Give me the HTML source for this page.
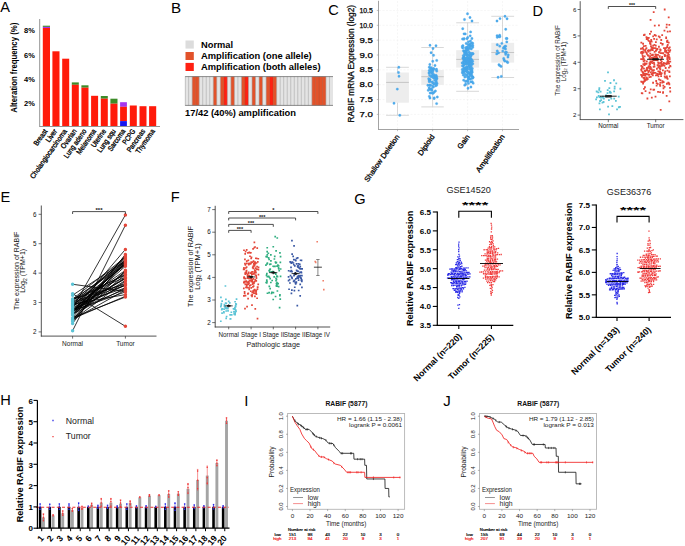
<!DOCTYPE html>
<html><head><meta charset="utf-8"><style>
html,body{margin:0;padding:0;background:#fff;}
body{width:685px;height:546px;overflow:hidden;font-family:"Liberation Sans",sans-serif;}
svg{display:block;}
text{font-family:"Liberation Sans",sans-serif;}
</style></head><body>
<svg width="685" height="546" viewBox="0 0 685 546" font-family="Liberation Sans, sans-serif"><text x="0.2" y="12" font-size="14.6">A</text>
<rect x="42.8" y="25.7" width="7.2" height="1.2" fill="#3C8C28"/>
<rect x="42.8" y="26.9" width="7.2" height="1.1" fill="#A436F0"/>
<rect x="42.8" y="28" width="7.2" height="98" fill="#FF1A0A"/>
<rect x="52.4" y="51.3" width="7.1" height="74.7" fill="#FF1A0A"/>
<rect x="62.2" y="58.7" width="7" height="67.3" fill="#FF1A0A"/>
<rect x="71.8" y="82.4" width="7" height="2.4" fill="#3C8C28"/>
<rect x="71.8" y="84.8" width="7" height="41.2" fill="#FF1A0A"/>
<rect x="81.4" y="85.3" width="7.1" height="2.4" fill="#3C8C28"/>
<rect x="81.4" y="87.7" width="7.1" height="38.3" fill="#FF1A0A"/>
<rect x="91.1" y="95.8" width="7" height="30.2" fill="#FF1A0A"/>
<rect x="100.8" y="96" width="7" height="2.7" fill="#3C8C28"/>
<rect x="100.8" y="98.7" width="7" height="27.3" fill="#FF1A0A"/>
<rect x="110.4" y="98.7" width="7.1" height="5" fill="#3C8C28"/>
<rect x="110.4" y="103.7" width="7.1" height="22.3" fill="#FF1A0A"/>
<rect x="120.1" y="102.2" width="6.8" height="4.6" fill="#A436F0"/>
<rect x="120.1" y="106.8" width="6.8" height="14.3" fill="#FF1A0A"/>
<rect x="120.1" y="121.1" width="6.8" height="4.9" fill="#1414F0"/>
<rect x="129.8" y="105.5" width="7" height="20.5" fill="#FF1A0A"/>
<rect x="139.5" y="106.2" width="7" height="19.8" fill="#FF1A0A"/>
<rect x="149.1" y="106.2" width="7.1" height="19.8" fill="#FF1A0A"/>
<line x1="39.7" y1="19" x2="39.7" y2="126.5" stroke="#888" stroke-width="0.9"/>
<line x1="39.3" y1="126.5" x2="160" y2="126.5" stroke="#888" stroke-width="0.9"/>
<text x="34.8" y="33.4" font-size="7.9" font-weight="bold" text-anchor="end" textLength="10.8" lengthAdjust="spacingAndGlyphs">8%</text>
<text x="34.8" y="57.7" font-size="7.9" font-weight="bold" text-anchor="end" textLength="10.8" lengthAdjust="spacingAndGlyphs">6%</text>
<text x="34.8" y="82" font-size="7.9" font-weight="bold" text-anchor="end" textLength="10.8" lengthAdjust="spacingAndGlyphs">4%</text>
<text x="34.8" y="106.3" font-size="7.9" font-weight="bold" text-anchor="end" textLength="10.8" lengthAdjust="spacingAndGlyphs">2%</text>
<text x="16.6" y="67.7" font-size="8.9" font-weight="bold" text-anchor="middle" transform="rotate(-90 16.6 67.7)" textLength="90" lengthAdjust="spacingAndGlyphs">Alteration frequency (%)</text>
<text x="47.8" y="131.2" font-size="7.4" text-anchor="end" transform="rotate(-55 47.8 131.2)" textLength="18.47" lengthAdjust="spacingAndGlyphs" stroke="#000" stroke-width="0.32">Breast</text>
<text x="57.47" y="131.2" font-size="7.4" text-anchor="end" transform="rotate(-55 57.47 131.2)" textLength="14.18" lengthAdjust="spacingAndGlyphs" stroke="#000" stroke-width="0.32">Liver</text>
<text x="67.34" y="131.2" font-size="7.4" text-anchor="end" transform="rotate(-55 67.34 131.2)" textLength="58.69" lengthAdjust="spacingAndGlyphs" stroke="#000" stroke-width="0.32">Cholangiocarcinoma</text>
<text x="77.06" y="131.2" font-size="7.4" text-anchor="end" transform="rotate(-55 77.06 131.2)" textLength="22.1" lengthAdjust="spacingAndGlyphs" stroke="#000" stroke-width="0.32">Ovarian</text>
<text x="86.83" y="131.2" font-size="7.4" text-anchor="end" transform="rotate(-55 86.83 131.2)" textLength="33.62" lengthAdjust="spacingAndGlyphs" stroke="#000" stroke-width="0.32">Lung adeno</text>
<text x="96.6" y="131.2" font-size="7.4" text-anchor="end" transform="rotate(-55 96.6 131.2)" textLength="29.02" lengthAdjust="spacingAndGlyphs" stroke="#000" stroke-width="0.32">Melanoma</text>
<text x="106.42" y="131.2" font-size="7.4" text-anchor="end" transform="rotate(-55 106.42 131.2)" textLength="20.44" lengthAdjust="spacingAndGlyphs" stroke="#000" stroke-width="0.32">Uterine</text>
<text x="116.19" y="131.2" font-size="7.4" text-anchor="end" transform="rotate(-55 116.19 131.2)" textLength="26.69" lengthAdjust="spacingAndGlyphs" stroke="#000" stroke-width="0.32">Lung squ</text>
<text x="125.86" y="131.2" font-size="7.4" text-anchor="end" transform="rotate(-55 125.86 131.2)" textLength="25.07" lengthAdjust="spacingAndGlyphs" stroke="#000" stroke-width="0.32">Sarcoma</text>
<text x="135.78" y="131.2" font-size="7.4" text-anchor="end" transform="rotate(-55 135.78 131.2)" textLength="16.82" lengthAdjust="spacingAndGlyphs" stroke="#000" stroke-width="0.32">PCPG</text>
<text x="145.6" y="131.2" font-size="7.4" text-anchor="end" transform="rotate(-55 145.6 131.2)" textLength="26.39" lengthAdjust="spacingAndGlyphs" stroke="#000" stroke-width="0.32">Pancreas</text>
<text x="155.37" y="131.2" font-size="7.4" text-anchor="end" transform="rotate(-55 155.37 131.2)" textLength="28.03" lengthAdjust="spacingAndGlyphs" stroke="#000" stroke-width="0.32">Thymoma</text>
<text x="171" y="12.7" font-size="15.2">B</text>
<rect x="185.5" y="40.5" width="8.3" height="8.1" fill="#DCDCDC"/>
<rect x="185.5" y="52" width="8.3" height="8" fill="#E2522A"/>
<rect x="185.5" y="62.9" width="8.3" height="8.1" fill="#FF2012"/>
<text x="201" y="47.9" font-size="9.3" font-weight="bold">Normal</text>
<text x="201" y="58.8" font-size="9.3" font-weight="bold" textLength="110.7" lengthAdjust="spacingAndGlyphs">Amplification (one allele)</text>
<text x="201" y="69.8" font-size="9.3" font-weight="bold" textLength="119.5" lengthAdjust="spacingAndGlyphs">Amplification (both alleles)</text>
<rect x="185.1" y="76.2" width="147.9" height="29.6" fill="#E4E4E4"/>
<rect x="192.14" y="76.2" width="3.52" height="29.6" fill="#E2522A"/>
<rect x="195.66" y="76.2" width="3.52" height="29.6" fill="#E2522A"/>
<rect x="213.27" y="76.2" width="3.52" height="29.6" fill="#E2522A"/>
<rect x="220.31" y="76.2" width="3.52" height="29.6" fill="#E2522A"/>
<rect x="223.84" y="76.2" width="3.52" height="29.6" fill="#FF2012"/>
<rect x="230.88" y="76.2" width="3.52" height="29.6" fill="#E2522A"/>
<rect x="241.44" y="76.2" width="3.52" height="29.6" fill="#E2522A"/>
<rect x="244.96" y="76.2" width="3.52" height="29.6" fill="#FF2012"/>
<rect x="252.01" y="76.2" width="3.52" height="29.6" fill="#E2522A"/>
<rect x="259.05" y="76.2" width="3.52" height="29.6" fill="#E2522A"/>
<rect x="266.09" y="76.2" width="3.52" height="29.6" fill="#E2522A"/>
<rect x="269.61" y="76.2" width="3.52" height="29.6" fill="#FF2012"/>
<rect x="273.14" y="76.2" width="3.52" height="29.6" fill="#E2522A"/>
<rect x="311.87" y="76.2" width="3.52" height="29.6" fill="#E2522A"/>
<rect x="315.39" y="76.2" width="3.52" height="29.6" fill="#E2522A"/>
<rect x="318.91" y="76.2" width="3.52" height="29.6" fill="#E2522A"/>
<rect x="322.44" y="76.2" width="3.52" height="29.6" fill="#E2522A"/>
<line x1="188.62" y1="76.2" x2="188.62" y2="105.8" stroke="#A8A8A8" stroke-width="0.6"/>
<line x1="192.14" y1="76.2" x2="192.14" y2="105.8" stroke="#A8A8A8" stroke-width="0.6"/>
<line x1="195.66" y1="76.2" x2="195.66" y2="105.8" stroke="#BC4420" stroke-width="0.6"/>
<line x1="199.19" y1="76.2" x2="199.19" y2="105.8" stroke="#A8A8A8" stroke-width="0.6"/>
<line x1="202.71" y1="76.2" x2="202.71" y2="105.8" stroke="#A8A8A8" stroke-width="0.6"/>
<line x1="206.23" y1="76.2" x2="206.23" y2="105.8" stroke="#A8A8A8" stroke-width="0.6"/>
<line x1="209.75" y1="76.2" x2="209.75" y2="105.8" stroke="#A8A8A8" stroke-width="0.6"/>
<line x1="213.27" y1="76.2" x2="213.27" y2="105.8" stroke="#A8A8A8" stroke-width="0.6"/>
<line x1="216.79" y1="76.2" x2="216.79" y2="105.8" stroke="#A8A8A8" stroke-width="0.6"/>
<line x1="220.31" y1="76.2" x2="220.31" y2="105.8" stroke="#A8A8A8" stroke-width="0.6"/>
<line x1="223.84" y1="76.2" x2="223.84" y2="105.8" stroke="#BC4420" stroke-width="0.6"/>
<line x1="227.36" y1="76.2" x2="227.36" y2="105.8" stroke="#A8A8A8" stroke-width="0.6"/>
<line x1="230.88" y1="76.2" x2="230.88" y2="105.8" stroke="#A8A8A8" stroke-width="0.6"/>
<line x1="234.4" y1="76.2" x2="234.4" y2="105.8" stroke="#A8A8A8" stroke-width="0.6"/>
<line x1="237.92" y1="76.2" x2="237.92" y2="105.8" stroke="#A8A8A8" stroke-width="0.6"/>
<line x1="241.44" y1="76.2" x2="241.44" y2="105.8" stroke="#A8A8A8" stroke-width="0.6"/>
<line x1="244.96" y1="76.2" x2="244.96" y2="105.8" stroke="#BC4420" stroke-width="0.6"/>
<line x1="248.49" y1="76.2" x2="248.49" y2="105.8" stroke="#A8A8A8" stroke-width="0.6"/>
<line x1="252.01" y1="76.2" x2="252.01" y2="105.8" stroke="#A8A8A8" stroke-width="0.6"/>
<line x1="255.53" y1="76.2" x2="255.53" y2="105.8" stroke="#A8A8A8" stroke-width="0.6"/>
<line x1="259.05" y1="76.2" x2="259.05" y2="105.8" stroke="#A8A8A8" stroke-width="0.6"/>
<line x1="262.57" y1="76.2" x2="262.57" y2="105.8" stroke="#A8A8A8" stroke-width="0.6"/>
<line x1="266.09" y1="76.2" x2="266.09" y2="105.8" stroke="#A8A8A8" stroke-width="0.6"/>
<line x1="269.61" y1="76.2" x2="269.61" y2="105.8" stroke="#BC4420" stroke-width="0.6"/>
<line x1="273.14" y1="76.2" x2="273.14" y2="105.8" stroke="#BC4420" stroke-width="0.6"/>
<line x1="276.66" y1="76.2" x2="276.66" y2="105.8" stroke="#A8A8A8" stroke-width="0.6"/>
<line x1="280.18" y1="76.2" x2="280.18" y2="105.8" stroke="#A8A8A8" stroke-width="0.6"/>
<line x1="283.7" y1="76.2" x2="283.7" y2="105.8" stroke="#A8A8A8" stroke-width="0.6"/>
<line x1="287.22" y1="76.2" x2="287.22" y2="105.8" stroke="#A8A8A8" stroke-width="0.6"/>
<line x1="290.74" y1="76.2" x2="290.74" y2="105.8" stroke="#A8A8A8" stroke-width="0.6"/>
<line x1="294.26" y1="76.2" x2="294.26" y2="105.8" stroke="#A8A8A8" stroke-width="0.6"/>
<line x1="297.79" y1="76.2" x2="297.79" y2="105.8" stroke="#A8A8A8" stroke-width="0.6"/>
<line x1="301.31" y1="76.2" x2="301.31" y2="105.8" stroke="#A8A8A8" stroke-width="0.6"/>
<line x1="304.83" y1="76.2" x2="304.83" y2="105.8" stroke="#A8A8A8" stroke-width="0.6"/>
<line x1="308.35" y1="76.2" x2="308.35" y2="105.8" stroke="#A8A8A8" stroke-width="0.6"/>
<line x1="311.87" y1="76.2" x2="311.87" y2="105.8" stroke="#A8A8A8" stroke-width="0.6"/>
<line x1="315.39" y1="76.2" x2="315.39" y2="105.8" stroke="#BC4420" stroke-width="0.6"/>
<line x1="318.91" y1="76.2" x2="318.91" y2="105.8" stroke="#BC4420" stroke-width="0.6"/>
<line x1="322.44" y1="76.2" x2="322.44" y2="105.8" stroke="#BC4420" stroke-width="0.6"/>
<line x1="325.96" y1="76.2" x2="325.96" y2="105.8" stroke="#A8A8A8" stroke-width="0.6"/>
<line x1="329.48" y1="76.2" x2="329.48" y2="105.8" stroke="#A8A8A8" stroke-width="0.6"/>
<line x1="185.1" y1="76.6" x2="333" y2="76.6" stroke="#808080" stroke-width="0.9"/>
<line x1="185.1" y1="105.4" x2="333" y2="105.4" stroke="#808080" stroke-width="0.9"/>
<line x1="185.3" y1="76.2" x2="185.3" y2="105.8" stroke="#9A9A9A" stroke-width="0.5"/>
<text x="185" y="115.9" font-size="9.3" font-weight="bold" textLength="111" lengthAdjust="spacingAndGlyphs">17/42 (40%) amplification</text>
<text x="328.3" y="15.3" font-size="14.6">C</text>
<line x1="379" y1="114.4" x2="519" y2="114.4" stroke="#EDEDED" stroke-width="0.5" stroke-dasharray="2 1.5"/>
<line x1="379" y1="99.55" x2="519" y2="99.55" stroke="#EDEDED" stroke-width="0.5" stroke-dasharray="2 1.5"/>
<line x1="379" y1="84.7" x2="519" y2="84.7" stroke="#EDEDED" stroke-width="0.5" stroke-dasharray="2 1.5"/>
<line x1="379" y1="69.85" x2="519" y2="69.85" stroke="#EDEDED" stroke-width="0.5" stroke-dasharray="2 1.5"/>
<line x1="379" y1="55" x2="519" y2="55" stroke="#EDEDED" stroke-width="0.5" stroke-dasharray="2 1.5"/>
<line x1="379" y1="40.15" x2="519" y2="40.15" stroke="#EDEDED" stroke-width="0.5" stroke-dasharray="2 1.5"/>
<line x1="379" y1="25.3" x2="519" y2="25.3" stroke="#EDEDED" stroke-width="0.5" stroke-dasharray="2 1.5"/>
<line x1="379" y1="10.45" x2="519" y2="10.45" stroke="#EDEDED" stroke-width="0.5" stroke-dasharray="2 1.5"/>
<line x1="397.5" y1="1" x2="397.5" y2="129" stroke="#EDEDED" stroke-width="0.5" stroke-dasharray="2 1.5"/>
<line x1="432.6" y1="1" x2="432.6" y2="129" stroke="#EDEDED" stroke-width="0.5" stroke-dasharray="2 1.5"/>
<line x1="467.6" y1="1" x2="467.6" y2="129" stroke="#EDEDED" stroke-width="0.5" stroke-dasharray="2 1.5"/>
<line x1="502.5" y1="1" x2="502.5" y2="129" stroke="#EDEDED" stroke-width="0.5" stroke-dasharray="2 1.5"/>
<rect x="386.1" y="72.5" width="22.8" height="30.2" fill="#EDEDED"/>
<line x1="397.5" y1="67.3" x2="397.5" y2="72.5" stroke="#C8C8C8" stroke-width="0.7"/>
<line x1="397.5" y1="102.7" x2="397.5" y2="115.3" stroke="#C8C8C8" stroke-width="0.7"/>
<line x1="386.1" y1="67.3" x2="408.9" y2="67.3" stroke="#D4D4D4" stroke-width="0.9"/>
<line x1="386.1" y1="115.3" x2="408.9" y2="115.3" stroke="#D4D4D4" stroke-width="0.9"/>
<line x1="386.1" y1="82.4" x2="408.9" y2="82.4" stroke="#B4B4B4" stroke-width="0.7"/>
<rect x="421.3" y="70" width="22.5" height="14.9" fill="#EDEDED"/>
<line x1="432.6" y1="47.5" x2="432.6" y2="70" stroke="#C8C8C8" stroke-width="0.7"/>
<line x1="432.6" y1="84.9" x2="432.6" y2="106.9" stroke="#C8C8C8" stroke-width="0.7"/>
<line x1="421.3" y1="47.5" x2="443.8" y2="47.5" stroke="#D4D4D4" stroke-width="0.9"/>
<line x1="421.3" y1="106.9" x2="443.8" y2="106.9" stroke="#D4D4D4" stroke-width="0.9"/>
<line x1="421.3" y1="76.7" x2="443.8" y2="76.7" stroke="#B4B4B4" stroke-width="0.7"/>
<rect x="456.2" y="50.2" width="22.8" height="17.4" fill="#EDEDED"/>
<line x1="467.6" y1="22.8" x2="467.6" y2="50.2" stroke="#C8C8C8" stroke-width="0.7"/>
<line x1="467.6" y1="67.6" x2="467.6" y2="91.3" stroke="#C8C8C8" stroke-width="0.7"/>
<line x1="456.2" y1="22.8" x2="479" y2="22.8" stroke="#D4D4D4" stroke-width="0.9"/>
<line x1="456.2" y1="91.3" x2="479" y2="91.3" stroke="#D4D4D4" stroke-width="0.9"/>
<line x1="456.2" y1="59.4" x2="479" y2="59.4" stroke="#B4B4B4" stroke-width="0.7"/>
<rect x="491.3" y="42.8" width="22.8" height="19.8" fill="#EDEDED"/>
<line x1="502.5" y1="16.3" x2="502.5" y2="42.8" stroke="#C8C8C8" stroke-width="0.7"/>
<line x1="502.5" y1="62.6" x2="502.5" y2="77.5" stroke="#C8C8C8" stroke-width="0.7"/>
<line x1="491.3" y1="16.3" x2="514.1" y2="16.3" stroke="#D4D4D4" stroke-width="0.9"/>
<line x1="491.3" y1="77.5" x2="514.1" y2="77.5" stroke="#D4D4D4" stroke-width="0.9"/>
<line x1="491.3" y1="52.5" x2="514.1" y2="52.5" stroke="#B4B4B4" stroke-width="0.7"/>
<path d="M397.6 67.3a1.2 1.2 0 1 0 2.4 0a1.2 1.2 0 1 0 -2.4 0M397.3 72.5a1.2 1.2 0 1 0 2.4 0a1.2 1.2 0 1 0 -2.4 0M397.8 76.2a1.2 1.2 0 1 0 2.4 0a1.2 1.2 0 1 0 -2.4 0M396.1 89.1a1.2 1.2 0 1 0 2.4 0a1.2 1.2 0 1 0 -2.4 0M392.8 103.2a1.2 1.2 0 1 0 2.4 0a1.2 1.2 0 1 0 -2.4 0M398.6 115.3a1.2 1.2 0 1 0 2.4 0a1.2 1.2 0 1 0 -2.4 0M435.21 76.67a1.2 1.2 0 1 0 2.4 0a1.2 1.2 0 1 0 -2.4 0M428.76 79.61a1.2 1.2 0 1 0 2.4 0a1.2 1.2 0 1 0 -2.4 0M434.99 81.54a1.2 1.2 0 1 0 2.4 0a1.2 1.2 0 1 0 -2.4 0M434.48 76.04a1.2 1.2 0 1 0 2.4 0a1.2 1.2 0 1 0 -2.4 0M431.09 81.94a1.2 1.2 0 1 0 2.4 0a1.2 1.2 0 1 0 -2.4 0M429.27 71.44a1.2 1.2 0 1 0 2.4 0a1.2 1.2 0 1 0 -2.4 0M430.87 75.55a1.2 1.2 0 1 0 2.4 0a1.2 1.2 0 1 0 -2.4 0M431.91 76.99a1.2 1.2 0 1 0 2.4 0a1.2 1.2 0 1 0 -2.4 0M434.21 91.05a1.2 1.2 0 1 0 2.4 0a1.2 1.2 0 1 0 -2.4 0M436.09 97.01a1.2 1.2 0 1 0 2.4 0a1.2 1.2 0 1 0 -2.4 0M428.14 96.37a1.2 1.2 0 1 0 2.4 0a1.2 1.2 0 1 0 -2.4 0M427.02 90.23a1.2 1.2 0 1 0 2.4 0a1.2 1.2 0 1 0 -2.4 0M431.54 75.01a1.2 1.2 0 1 0 2.4 0a1.2 1.2 0 1 0 -2.4 0M435.4 103.59a1.2 1.2 0 1 0 2.4 0a1.2 1.2 0 1 0 -2.4 0M431.54 77.2a1.2 1.2 0 1 0 2.4 0a1.2 1.2 0 1 0 -2.4 0M428.98 93.04a1.2 1.2 0 1 0 2.4 0a1.2 1.2 0 1 0 -2.4 0M428.45 75.11a1.2 1.2 0 1 0 2.4 0a1.2 1.2 0 1 0 -2.4 0M428.53 85.33a1.2 1.2 0 1 0 2.4 0a1.2 1.2 0 1 0 -2.4 0M426.64 85.32a1.2 1.2 0 1 0 2.4 0a1.2 1.2 0 1 0 -2.4 0M428.08 67.23a1.2 1.2 0 1 0 2.4 0a1.2 1.2 0 1 0 -2.4 0M435.05 77.88a1.2 1.2 0 1 0 2.4 0a1.2 1.2 0 1 0 -2.4 0M434.73 76a1.2 1.2 0 1 0 2.4 0a1.2 1.2 0 1 0 -2.4 0M433.72 75.87a1.2 1.2 0 1 0 2.4 0a1.2 1.2 0 1 0 -2.4 0M431.79 93.22a1.2 1.2 0 1 0 2.4 0a1.2 1.2 0 1 0 -2.4 0M434.96 75.4a1.2 1.2 0 1 0 2.4 0a1.2 1.2 0 1 0 -2.4 0M432.34 55.29a1.2 1.2 0 1 0 2.4 0a1.2 1.2 0 1 0 -2.4 0M430.32 89.5a1.2 1.2 0 1 0 2.4 0a1.2 1.2 0 1 0 -2.4 0M428.04 70.52a1.2 1.2 0 1 0 2.4 0a1.2 1.2 0 1 0 -2.4 0M430.24 69.38a1.2 1.2 0 1 0 2.4 0a1.2 1.2 0 1 0 -2.4 0M432.26 69.55a1.2 1.2 0 1 0 2.4 0a1.2 1.2 0 1 0 -2.4 0M432.72 83.91a1.2 1.2 0 1 0 2.4 0a1.2 1.2 0 1 0 -2.4 0M428.05 81.63a1.2 1.2 0 1 0 2.4 0a1.2 1.2 0 1 0 -2.4 0M428.9 89.37a1.2 1.2 0 1 0 2.4 0a1.2 1.2 0 1 0 -2.4 0M427.53 78.78a1.2 1.2 0 1 0 2.4 0a1.2 1.2 0 1 0 -2.4 0M428.66 64.44a1.2 1.2 0 1 0 2.4 0a1.2 1.2 0 1 0 -2.4 0M429.48 85.18a1.2 1.2 0 1 0 2.4 0a1.2 1.2 0 1 0 -2.4 0M432.96 97.98a1.2 1.2 0 1 0 2.4 0a1.2 1.2 0 1 0 -2.4 0M434.71 77.72a1.2 1.2 0 1 0 2.4 0a1.2 1.2 0 1 0 -2.4 0M435.28 69.31a1.2 1.2 0 1 0 2.4 0a1.2 1.2 0 1 0 -2.4 0M428 80.62a1.2 1.2 0 1 0 2.4 0a1.2 1.2 0 1 0 -2.4 0M435.51 60.39a1.2 1.2 0 1 0 2.4 0a1.2 1.2 0 1 0 -2.4 0M428.33 79.93a1.2 1.2 0 1 0 2.4 0a1.2 1.2 0 1 0 -2.4 0M432.76 77.97a1.2 1.2 0 1 0 2.4 0a1.2 1.2 0 1 0 -2.4 0M430.21 88.59a1.2 1.2 0 1 0 2.4 0a1.2 1.2 0 1 0 -2.4 0M428.9 81.42a1.2 1.2 0 1 0 2.4 0a1.2 1.2 0 1 0 -2.4 0M435.01 69.7a1.2 1.2 0 1 0 2.4 0a1.2 1.2 0 1 0 -2.4 0M431.86 69.53a1.2 1.2 0 1 0 2.4 0a1.2 1.2 0 1 0 -2.4 0M433.81 65.43a1.2 1.2 0 1 0 2.4 0a1.2 1.2 0 1 0 -2.4 0M430.17 70.44a1.2 1.2 0 1 0 2.4 0a1.2 1.2 0 1 0 -2.4 0M427.78 72.97a1.2 1.2 0 1 0 2.4 0a1.2 1.2 0 1 0 -2.4 0M432.91 98.44a1.2 1.2 0 1 0 2.4 0a1.2 1.2 0 1 0 -2.4 0M431.63 86.3a1.2 1.2 0 1 0 2.4 0a1.2 1.2 0 1 0 -2.4 0M429.9 52.68a1.2 1.2 0 1 0 2.4 0a1.2 1.2 0 1 0 -2.4 0M433.16 83.35a1.2 1.2 0 1 0 2.4 0a1.2 1.2 0 1 0 -2.4 0M431.58 71.41a1.2 1.2 0 1 0 2.4 0a1.2 1.2 0 1 0 -2.4 0M435.33 78.88a1.2 1.2 0 1 0 2.4 0a1.2 1.2 0 1 0 -2.4 0M435.56 71.12a1.2 1.2 0 1 0 2.4 0a1.2 1.2 0 1 0 -2.4 0M433.83 77.53a1.2 1.2 0 1 0 2.4 0a1.2 1.2 0 1 0 -2.4 0M427.91 87.96a1.2 1.2 0 1 0 2.4 0a1.2 1.2 0 1 0 -2.4 0M434.43 85.85a1.2 1.2 0 1 0 2.4 0a1.2 1.2 0 1 0 -2.4 0M432.63 74.62a1.2 1.2 0 1 0 2.4 0a1.2 1.2 0 1 0 -2.4 0M431.52 83a1.2 1.2 0 1 0 2.4 0a1.2 1.2 0 1 0 -2.4 0M428.77 98.04a1.2 1.2 0 1 0 2.4 0a1.2 1.2 0 1 0 -2.4 0M430.09 72.8a1.2 1.2 0 1 0 2.4 0a1.2 1.2 0 1 0 -2.4 0M429.92 67.63a1.2 1.2 0 1 0 2.4 0a1.2 1.2 0 1 0 -2.4 0M432.1 68.59a1.2 1.2 0 1 0 2.4 0a1.2 1.2 0 1 0 -2.4 0M429.21 68.35a1.2 1.2 0 1 0 2.4 0a1.2 1.2 0 1 0 -2.4 0M430.87 93.11a1.2 1.2 0 1 0 2.4 0a1.2 1.2 0 1 0 -2.4 0M431.55 61.27a1.2 1.2 0 1 0 2.4 0a1.2 1.2 0 1 0 -2.4 0M435.21 79.61a1.2 1.2 0 1 0 2.4 0a1.2 1.2 0 1 0 -2.4 0M432.17 87.11a1.2 1.2 0 1 0 2.4 0a1.2 1.2 0 1 0 -2.4 0M435.03 82.49a1.2 1.2 0 1 0 2.4 0a1.2 1.2 0 1 0 -2.4 0M435.46 85.16a1.2 1.2 0 1 0 2.4 0a1.2 1.2 0 1 0 -2.4 0M430.73 90.34a1.2 1.2 0 1 0 2.4 0a1.2 1.2 0 1 0 -2.4 0M435.73 78.33a1.2 1.2 0 1 0 2.4 0a1.2 1.2 0 1 0 -2.4 0M434.34 76.54a1.2 1.2 0 1 0 2.4 0a1.2 1.2 0 1 0 -2.4 0M433.48 80.17a1.2 1.2 0 1 0 2.4 0a1.2 1.2 0 1 0 -2.4 0M429.79 76.6a1.2 1.2 0 1 0 2.4 0a1.2 1.2 0 1 0 -2.4 0M428.55 79.89a1.2 1.2 0 1 0 2.4 0a1.2 1.2 0 1 0 -2.4 0M428.64 85.31a1.2 1.2 0 1 0 2.4 0a1.2 1.2 0 1 0 -2.4 0M434.67 83.86a1.2 1.2 0 1 0 2.4 0a1.2 1.2 0 1 0 -2.4 0M431.2 73.07a1.2 1.2 0 1 0 2.4 0a1.2 1.2 0 1 0 -2.4 0M432.93 92.23a1.2 1.2 0 1 0 2.4 0a1.2 1.2 0 1 0 -2.4 0M435.83 83.44a1.2 1.2 0 1 0 2.4 0a1.2 1.2 0 1 0 -2.4 0M432.63 68.82a1.2 1.2 0 1 0 2.4 0a1.2 1.2 0 1 0 -2.4 0M462.86 57.91a1.2 1.2 0 1 0 2.4 0a1.2 1.2 0 1 0 -2.4 0M465.41 52.78a1.2 1.2 0 1 0 2.4 0a1.2 1.2 0 1 0 -2.4 0M469.93 60.77a1.2 1.2 0 1 0 2.4 0a1.2 1.2 0 1 0 -2.4 0M462.07 75.11a1.2 1.2 0 1 0 2.4 0a1.2 1.2 0 1 0 -2.4 0M469.78 65.64a1.2 1.2 0 1 0 2.4 0a1.2 1.2 0 1 0 -2.4 0M466.66 59.31a1.2 1.2 0 1 0 2.4 0a1.2 1.2 0 1 0 -2.4 0M461.32 65.65a1.2 1.2 0 1 0 2.4 0a1.2 1.2 0 1 0 -2.4 0M461.03 62.9a1.2 1.2 0 1 0 2.4 0a1.2 1.2 0 1 0 -2.4 0M463.58 58.56a1.2 1.2 0 1 0 2.4 0a1.2 1.2 0 1 0 -2.4 0M467.15 49.77a1.2 1.2 0 1 0 2.4 0a1.2 1.2 0 1 0 -2.4 0M467.41 66.39a1.2 1.2 0 1 0 2.4 0a1.2 1.2 0 1 0 -2.4 0M468.39 46.17a1.2 1.2 0 1 0 2.4 0a1.2 1.2 0 1 0 -2.4 0M464.28 60.74a1.2 1.2 0 1 0 2.4 0a1.2 1.2 0 1 0 -2.4 0M466.83 48.42a1.2 1.2 0 1 0 2.4 0a1.2 1.2 0 1 0 -2.4 0M468.17 46.55a1.2 1.2 0 1 0 2.4 0a1.2 1.2 0 1 0 -2.4 0M462.94 38.61a1.2 1.2 0 1 0 2.4 0a1.2 1.2 0 1 0 -2.4 0M461.24 47.34a1.2 1.2 0 1 0 2.4 0a1.2 1.2 0 1 0 -2.4 0M471.55 47.19a1.2 1.2 0 1 0 2.4 0a1.2 1.2 0 1 0 -2.4 0M461.37 39.02a1.2 1.2 0 1 0 2.4 0a1.2 1.2 0 1 0 -2.4 0M464.36 81.43a1.2 1.2 0 1 0 2.4 0a1.2 1.2 0 1 0 -2.4 0M467.82 72.43a1.2 1.2 0 1 0 2.4 0a1.2 1.2 0 1 0 -2.4 0M464.31 47.64a1.2 1.2 0 1 0 2.4 0a1.2 1.2 0 1 0 -2.4 0M469.73 87.06a1.2 1.2 0 1 0 2.4 0a1.2 1.2 0 1 0 -2.4 0M469.39 58.27a1.2 1.2 0 1 0 2.4 0a1.2 1.2 0 1 0 -2.4 0M463.01 58.35a1.2 1.2 0 1 0 2.4 0a1.2 1.2 0 1 0 -2.4 0M467.95 79.09a1.2 1.2 0 1 0 2.4 0a1.2 1.2 0 1 0 -2.4 0M461.88 71.85a1.2 1.2 0 1 0 2.4 0a1.2 1.2 0 1 0 -2.4 0M467.88 52.1a1.2 1.2 0 1 0 2.4 0a1.2 1.2 0 1 0 -2.4 0M469.8 53.43a1.2 1.2 0 1 0 2.4 0a1.2 1.2 0 1 0 -2.4 0M468.89 67.66a1.2 1.2 0 1 0 2.4 0a1.2 1.2 0 1 0 -2.4 0M470.8 70.71a1.2 1.2 0 1 0 2.4 0a1.2 1.2 0 1 0 -2.4 0M461.1 69.33a1.2 1.2 0 1 0 2.4 0a1.2 1.2 0 1 0 -2.4 0M463.2 54.32a1.2 1.2 0 1 0 2.4 0a1.2 1.2 0 1 0 -2.4 0M471.38 77.48a1.2 1.2 0 1 0 2.4 0a1.2 1.2 0 1 0 -2.4 0M463.63 60.06a1.2 1.2 0 1 0 2.4 0a1.2 1.2 0 1 0 -2.4 0M468.16 78.24a1.2 1.2 0 1 0 2.4 0a1.2 1.2 0 1 0 -2.4 0M465.06 48.93a1.2 1.2 0 1 0 2.4 0a1.2 1.2 0 1 0 -2.4 0M468.22 57.78a1.2 1.2 0 1 0 2.4 0a1.2 1.2 0 1 0 -2.4 0M465.02 43.43a1.2 1.2 0 1 0 2.4 0a1.2 1.2 0 1 0 -2.4 0M466.84 88.27a1.2 1.2 0 1 0 2.4 0a1.2 1.2 0 1 0 -2.4 0M463.57 85.17a1.2 1.2 0 1 0 2.4 0a1.2 1.2 0 1 0 -2.4 0M465.92 68.03a1.2 1.2 0 1 0 2.4 0a1.2 1.2 0 1 0 -2.4 0M469.23 41.04a1.2 1.2 0 1 0 2.4 0a1.2 1.2 0 1 0 -2.4 0M464.16 74.53a1.2 1.2 0 1 0 2.4 0a1.2 1.2 0 1 0 -2.4 0M469.35 43.75a1.2 1.2 0 1 0 2.4 0a1.2 1.2 0 1 0 -2.4 0M462.29 58.22a1.2 1.2 0 1 0 2.4 0a1.2 1.2 0 1 0 -2.4 0M461.71 58.35a1.2 1.2 0 1 0 2.4 0a1.2 1.2 0 1 0 -2.4 0M463.82 51.48a1.2 1.2 0 1 0 2.4 0a1.2 1.2 0 1 0 -2.4 0M470.13 72.8a1.2 1.2 0 1 0 2.4 0a1.2 1.2 0 1 0 -2.4 0M462.9 68.01a1.2 1.2 0 1 0 2.4 0a1.2 1.2 0 1 0 -2.4 0M470.7 75.85a1.2 1.2 0 1 0 2.4 0a1.2 1.2 0 1 0 -2.4 0M468.76 58.96a1.2 1.2 0 1 0 2.4 0a1.2 1.2 0 1 0 -2.4 0M468.95 35.85a1.2 1.2 0 1 0 2.4 0a1.2 1.2 0 1 0 -2.4 0M470.05 65.06a1.2 1.2 0 1 0 2.4 0a1.2 1.2 0 1 0 -2.4 0M464.95 53.8a1.2 1.2 0 1 0 2.4 0a1.2 1.2 0 1 0 -2.4 0M466.61 55.51a1.2 1.2 0 1 0 2.4 0a1.2 1.2 0 1 0 -2.4 0M462.94 57.75a1.2 1.2 0 1 0 2.4 0a1.2 1.2 0 1 0 -2.4 0M466.8 62.46a1.2 1.2 0 1 0 2.4 0a1.2 1.2 0 1 0 -2.4 0M470.84 42.98a1.2 1.2 0 1 0 2.4 0a1.2 1.2 0 1 0 -2.4 0M462.86 58.94a1.2 1.2 0 1 0 2.4 0a1.2 1.2 0 1 0 -2.4 0M468.02 66.28a1.2 1.2 0 1 0 2.4 0a1.2 1.2 0 1 0 -2.4 0M471.96 83.14a1.2 1.2 0 1 0 2.4 0a1.2 1.2 0 1 0 -2.4 0M470.24 45.97a1.2 1.2 0 1 0 2.4 0a1.2 1.2 0 1 0 -2.4 0M465.22 49.92a1.2 1.2 0 1 0 2.4 0a1.2 1.2 0 1 0 -2.4 0M462.87 55.98a1.2 1.2 0 1 0 2.4 0a1.2 1.2 0 1 0 -2.4 0M469.29 61.58a1.2 1.2 0 1 0 2.4 0a1.2 1.2 0 1 0 -2.4 0M465.78 38.66a1.2 1.2 0 1 0 2.4 0a1.2 1.2 0 1 0 -2.4 0M465.5 59.64a1.2 1.2 0 1 0 2.4 0a1.2 1.2 0 1 0 -2.4 0M470.26 67.35a1.2 1.2 0 1 0 2.4 0a1.2 1.2 0 1 0 -2.4 0M465.14 52.09a1.2 1.2 0 1 0 2.4 0a1.2 1.2 0 1 0 -2.4 0M468.88 63.49a1.2 1.2 0 1 0 2.4 0a1.2 1.2 0 1 0 -2.4 0M470.1 59.75a1.2 1.2 0 1 0 2.4 0a1.2 1.2 0 1 0 -2.4 0M465.14 64.11a1.2 1.2 0 1 0 2.4 0a1.2 1.2 0 1 0 -2.4 0M469.32 61.82a1.2 1.2 0 1 0 2.4 0a1.2 1.2 0 1 0 -2.4 0M462.46 80.15a1.2 1.2 0 1 0 2.4 0a1.2 1.2 0 1 0 -2.4 0M470.04 70.28a1.2 1.2 0 1 0 2.4 0a1.2 1.2 0 1 0 -2.4 0M462.18 69.16a1.2 1.2 0 1 0 2.4 0a1.2 1.2 0 1 0 -2.4 0M471.86 77.22a1.2 1.2 0 1 0 2.4 0a1.2 1.2 0 1 0 -2.4 0M467.24 63.05a1.2 1.2 0 1 0 2.4 0a1.2 1.2 0 1 0 -2.4 0M469.2 56.3a1.2 1.2 0 1 0 2.4 0a1.2 1.2 0 1 0 -2.4 0M471.04 72.14a1.2 1.2 0 1 0 2.4 0a1.2 1.2 0 1 0 -2.4 0M469.41 31.92a1.2 1.2 0 1 0 2.4 0a1.2 1.2 0 1 0 -2.4 0M466.1 61.57a1.2 1.2 0 1 0 2.4 0a1.2 1.2 0 1 0 -2.4 0M464.31 54.6a1.2 1.2 0 1 0 2.4 0a1.2 1.2 0 1 0 -2.4 0M468.86 73.66a1.2 1.2 0 1 0 2.4 0a1.2 1.2 0 1 0 -2.4 0M461.44 70.96a1.2 1.2 0 1 0 2.4 0a1.2 1.2 0 1 0 -2.4 0M470.75 38.49a1.2 1.2 0 1 0 2.4 0a1.2 1.2 0 1 0 -2.4 0M463.56 51.46a1.2 1.2 0 1 0 2.4 0a1.2 1.2 0 1 0 -2.4 0M463.34 61.49a1.2 1.2 0 1 0 2.4 0a1.2 1.2 0 1 0 -2.4 0M466.44 76.95a1.2 1.2 0 1 0 2.4 0a1.2 1.2 0 1 0 -2.4 0M462.77 39.09a1.2 1.2 0 1 0 2.4 0a1.2 1.2 0 1 0 -2.4 0M466.22 71.45a1.2 1.2 0 1 0 2.4 0a1.2 1.2 0 1 0 -2.4 0M468.3 65.6a1.2 1.2 0 1 0 2.4 0a1.2 1.2 0 1 0 -2.4 0M466.7 61.6a1.2 1.2 0 1 0 2.4 0a1.2 1.2 0 1 0 -2.4 0M466.58 54.9a1.2 1.2 0 1 0 2.4 0a1.2 1.2 0 1 0 -2.4 0M466.81 59.4a1.2 1.2 0 1 0 2.4 0a1.2 1.2 0 1 0 -2.4 0M469.66 59.98a1.2 1.2 0 1 0 2.4 0a1.2 1.2 0 1 0 -2.4 0M462.81 33.86a1.2 1.2 0 1 0 2.4 0a1.2 1.2 0 1 0 -2.4 0M462.07 58.12a1.2 1.2 0 1 0 2.4 0a1.2 1.2 0 1 0 -2.4 0M471.35 53.68a1.2 1.2 0 1 0 2.4 0a1.2 1.2 0 1 0 -2.4 0M471.66 77.69a1.2 1.2 0 1 0 2.4 0a1.2 1.2 0 1 0 -2.4 0M466.47 49.42a1.2 1.2 0 1 0 2.4 0a1.2 1.2 0 1 0 -2.4 0M471.05 81.72a1.2 1.2 0 1 0 2.4 0a1.2 1.2 0 1 0 -2.4 0M464.33 67.93a1.2 1.2 0 1 0 2.4 0a1.2 1.2 0 1 0 -2.4 0M461.54 28.69a1.2 1.2 0 1 0 2.4 0a1.2 1.2 0 1 0 -2.4 0M466.01 69.28a1.2 1.2 0 1 0 2.4 0a1.2 1.2 0 1 0 -2.4 0M469.32 59.61a1.2 1.2 0 1 0 2.4 0a1.2 1.2 0 1 0 -2.4 0M469.32 74.25a1.2 1.2 0 1 0 2.4 0a1.2 1.2 0 1 0 -2.4 0M470.32 74.24a1.2 1.2 0 1 0 2.4 0a1.2 1.2 0 1 0 -2.4 0M469.04 44.66a1.2 1.2 0 1 0 2.4 0a1.2 1.2 0 1 0 -2.4 0M462.68 65.2a1.2 1.2 0 1 0 2.4 0a1.2 1.2 0 1 0 -2.4 0M462.66 60.63a1.2 1.2 0 1 0 2.4 0a1.2 1.2 0 1 0 -2.4 0M467.48 63.39a1.2 1.2 0 1 0 2.4 0a1.2 1.2 0 1 0 -2.4 0M471.29 78.16a1.2 1.2 0 1 0 2.4 0a1.2 1.2 0 1 0 -2.4 0M466.56 61.42a1.2 1.2 0 1 0 2.4 0a1.2 1.2 0 1 0 -2.4 0M471.61 45.47a1.2 1.2 0 1 0 2.4 0a1.2 1.2 0 1 0 -2.4 0M469.8 69.34a1.2 1.2 0 1 0 2.4 0a1.2 1.2 0 1 0 -2.4 0M469.78 53.62a1.2 1.2 0 1 0 2.4 0a1.2 1.2 0 1 0 -2.4 0M468.01 45.11a1.2 1.2 0 1 0 2.4 0a1.2 1.2 0 1 0 -2.4 0M465.66 75.08a1.2 1.2 0 1 0 2.4 0a1.2 1.2 0 1 0 -2.4 0M468.55 48.1a1.2 1.2 0 1 0 2.4 0a1.2 1.2 0 1 0 -2.4 0M464.55 84.24a1.2 1.2 0 1 0 2.4 0a1.2 1.2 0 1 0 -2.4 0M463.14 50.87a1.2 1.2 0 1 0 2.4 0a1.2 1.2 0 1 0 -2.4 0M469.41 63.99a1.2 1.2 0 1 0 2.4 0a1.2 1.2 0 1 0 -2.4 0M468.95 73.92a1.2 1.2 0 1 0 2.4 0a1.2 1.2 0 1 0 -2.4 0M471.53 61.21a1.2 1.2 0 1 0 2.4 0a1.2 1.2 0 1 0 -2.4 0M465.38 67.51a1.2 1.2 0 1 0 2.4 0a1.2 1.2 0 1 0 -2.4 0M466.66 81.2a1.2 1.2 0 1 0 2.4 0a1.2 1.2 0 1 0 -2.4 0M461.75 45.71a1.2 1.2 0 1 0 2.4 0a1.2 1.2 0 1 0 -2.4 0M467.05 44.53a1.2 1.2 0 1 0 2.4 0a1.2 1.2 0 1 0 -2.4 0M461.24 72.81a1.2 1.2 0 1 0 2.4 0a1.2 1.2 0 1 0 -2.4 0M467.87 65a1.2 1.2 0 1 0 2.4 0a1.2 1.2 0 1 0 -2.4 0M461.63 66.03a1.2 1.2 0 1 0 2.4 0a1.2 1.2 0 1 0 -2.4 0M463.29 62.93a1.2 1.2 0 1 0 2.4 0a1.2 1.2 0 1 0 -2.4 0M470.64 76.1a1.2 1.2 0 1 0 2.4 0a1.2 1.2 0 1 0 -2.4 0M465.89 47.06a1.2 1.2 0 1 0 2.4 0a1.2 1.2 0 1 0 -2.4 0M468.72 58.81a1.2 1.2 0 1 0 2.4 0a1.2 1.2 0 1 0 -2.4 0M469.84 71.92a1.2 1.2 0 1 0 2.4 0a1.2 1.2 0 1 0 -2.4 0M467.75 65.79a1.2 1.2 0 1 0 2.4 0a1.2 1.2 0 1 0 -2.4 0M468.39 69.28a1.2 1.2 0 1 0 2.4 0a1.2 1.2 0 1 0 -2.4 0M465.35 61.9a1.2 1.2 0 1 0 2.4 0a1.2 1.2 0 1 0 -2.4 0M465.24 51.01a1.2 1.2 0 1 0 2.4 0a1.2 1.2 0 1 0 -2.4 0M465.06 50.8a1.2 1.2 0 1 0 2.4 0a1.2 1.2 0 1 0 -2.4 0M469.26 73.37a1.2 1.2 0 1 0 2.4 0a1.2 1.2 0 1 0 -2.4 0M464.59 58.17a1.2 1.2 0 1 0 2.4 0a1.2 1.2 0 1 0 -2.4 0M465.07 70.97a1.2 1.2 0 1 0 2.4 0a1.2 1.2 0 1 0 -2.4 0M469.59 81.87a1.2 1.2 0 1 0 2.4 0a1.2 1.2 0 1 0 -2.4 0M468.78 73.32a1.2 1.2 0 1 0 2.4 0a1.2 1.2 0 1 0 -2.4 0M470.44 59.65a1.2 1.2 0 1 0 2.4 0a1.2 1.2 0 1 0 -2.4 0M467.05 79.24a1.2 1.2 0 1 0 2.4 0a1.2 1.2 0 1 0 -2.4 0M468.39 68.79a1.2 1.2 0 1 0 2.4 0a1.2 1.2 0 1 0 -2.4 0M465.51 53.79a1.2 1.2 0 1 0 2.4 0a1.2 1.2 0 1 0 -2.4 0M464.08 68.5a1.2 1.2 0 1 0 2.4 0a1.2 1.2 0 1 0 -2.4 0M465.62 68.96a1.2 1.2 0 1 0 2.4 0a1.2 1.2 0 1 0 -2.4 0M465.81 71.84a1.2 1.2 0 1 0 2.4 0a1.2 1.2 0 1 0 -2.4 0M467.31 83.39a1.2 1.2 0 1 0 2.4 0a1.2 1.2 0 1 0 -2.4 0M470.76 63.14a1.2 1.2 0 1 0 2.4 0a1.2 1.2 0 1 0 -2.4 0M463.79 59.28a1.2 1.2 0 1 0 2.4 0a1.2 1.2 0 1 0 -2.4 0M466.33 58.2a1.2 1.2 0 1 0 2.4 0a1.2 1.2 0 1 0 -2.4 0M461.62 72.75a1.2 1.2 0 1 0 2.4 0a1.2 1.2 0 1 0 -2.4 0M463.02 72.39a1.2 1.2 0 1 0 2.4 0a1.2 1.2 0 1 0 -2.4 0M470.07 48.88a1.2 1.2 0 1 0 2.4 0a1.2 1.2 0 1 0 -2.4 0M466.11 71.71a1.2 1.2 0 1 0 2.4 0a1.2 1.2 0 1 0 -2.4 0M465.93 63.6a1.2 1.2 0 1 0 2.4 0a1.2 1.2 0 1 0 -2.4 0M463.06 51.82a1.2 1.2 0 1 0 2.4 0a1.2 1.2 0 1 0 -2.4 0M468.71 44.96a1.2 1.2 0 1 0 2.4 0a1.2 1.2 0 1 0 -2.4 0M461.44 62.68a1.2 1.2 0 1 0 2.4 0a1.2 1.2 0 1 0 -2.4 0M469.96 71.92a1.2 1.2 0 1 0 2.4 0a1.2 1.2 0 1 0 -2.4 0M461.5 47.89a1.2 1.2 0 1 0 2.4 0a1.2 1.2 0 1 0 -2.4 0M463.56 70.49a1.2 1.2 0 1 0 2.4 0a1.2 1.2 0 1 0 -2.4 0M465.02 64.12a1.2 1.2 0 1 0 2.4 0a1.2 1.2 0 1 0 -2.4 0M463.69 59.98a1.2 1.2 0 1 0 2.4 0a1.2 1.2 0 1 0 -2.4 0M466.68 73.85a1.2 1.2 0 1 0 2.4 0a1.2 1.2 0 1 0 -2.4 0M463.08 59.38a1.2 1.2 0 1 0 2.4 0a1.2 1.2 0 1 0 -2.4 0M464.04 33.91a1.2 1.2 0 1 0 2.4 0a1.2 1.2 0 1 0 -2.4 0M463.67 69.1a1.2 1.2 0 1 0 2.4 0a1.2 1.2 0 1 0 -2.4 0M465.54 66.98a1.2 1.2 0 1 0 2.4 0a1.2 1.2 0 1 0 -2.4 0M468.75 59.64a1.2 1.2 0 1 0 2.4 0a1.2 1.2 0 1 0 -2.4 0M462.33 50.76a1.2 1.2 0 1 0 2.4 0a1.2 1.2 0 1 0 -2.4 0M469.4 55.52a1.2 1.2 0 1 0 2.4 0a1.2 1.2 0 1 0 -2.4 0M471.14 68.58a1.2 1.2 0 1 0 2.4 0a1.2 1.2 0 1 0 -2.4 0M467.75 62.03a1.2 1.2 0 1 0 2.4 0a1.2 1.2 0 1 0 -2.4 0M469.2 55.73a1.2 1.2 0 1 0 2.4 0a1.2 1.2 0 1 0 -2.4 0M463.68 77.07a1.2 1.2 0 1 0 2.4 0a1.2 1.2 0 1 0 -2.4 0M466.28 76.81a1.2 1.2 0 1 0 2.4 0a1.2 1.2 0 1 0 -2.4 0M465.74 62.8a1.2 1.2 0 1 0 2.4 0a1.2 1.2 0 1 0 -2.4 0M462.32 57.64a1.2 1.2 0 1 0 2.4 0a1.2 1.2 0 1 0 -2.4 0M462.75 60.97a1.2 1.2 0 1 0 2.4 0a1.2 1.2 0 1 0 -2.4 0M471.57 63.85a1.2 1.2 0 1 0 2.4 0a1.2 1.2 0 1 0 -2.4 0M462.86 62.47a1.2 1.2 0 1 0 2.4 0a1.2 1.2 0 1 0 -2.4 0M466.11 57.64a1.2 1.2 0 1 0 2.4 0a1.2 1.2 0 1 0 -2.4 0M465.93 55.71a1.2 1.2 0 1 0 2.4 0a1.2 1.2 0 1 0 -2.4 0M463.82 53.15a1.2 1.2 0 1 0 2.4 0a1.2 1.2 0 1 0 -2.4 0M462.86 64.73a1.2 1.2 0 1 0 2.4 0a1.2 1.2 0 1 0 -2.4 0M465.35 81.11a1.2 1.2 0 1 0 2.4 0a1.2 1.2 0 1 0 -2.4 0M469.95 55.61a1.2 1.2 0 1 0 2.4 0a1.2 1.2 0 1 0 -2.4 0M471.15 53.74a1.2 1.2 0 1 0 2.4 0a1.2 1.2 0 1 0 -2.4 0M468.29 62.33a1.2 1.2 0 1 0 2.4 0a1.2 1.2 0 1 0 -2.4 0M468.23 53.11a1.2 1.2 0 1 0 2.4 0a1.2 1.2 0 1 0 -2.4 0M469.45 79.1a1.2 1.2 0 1 0 2.4 0a1.2 1.2 0 1 0 -2.4 0M471.48 43.23a1.2 1.2 0 1 0 2.4 0a1.2 1.2 0 1 0 -2.4 0M462.08 55.74a1.2 1.2 0 1 0 2.4 0a1.2 1.2 0 1 0 -2.4 0M461.16 46.26a1.2 1.2 0 1 0 2.4 0a1.2 1.2 0 1 0 -2.4 0M471.89 53.82a1.2 1.2 0 1 0 2.4 0a1.2 1.2 0 1 0 -2.4 0M468.26 76.19a1.2 1.2 0 1 0 2.4 0a1.2 1.2 0 1 0 -2.4 0M467.19 41.85a1.2 1.2 0 1 0 2.4 0a1.2 1.2 0 1 0 -2.4 0M467.61 55.24a1.2 1.2 0 1 0 2.4 0a1.2 1.2 0 1 0 -2.4 0M466.54 37.56a1.2 1.2 0 1 0 2.4 0a1.2 1.2 0 1 0 -2.4 0M468.91 62.09a1.2 1.2 0 1 0 2.4 0a1.2 1.2 0 1 0 -2.4 0M465.52 68.14a1.2 1.2 0 1 0 2.4 0a1.2 1.2 0 1 0 -2.4 0M466.3 13.8a1.2 1.2 0 1 0 2.4 0a1.2 1.2 0 1 0 -2.4 0M468.8 17.5a1.2 1.2 0 1 0 2.4 0a1.2 1.2 0 1 0 -2.4 0M463.3 19.5a1.2 1.2 0 1 0 2.4 0a1.2 1.2 0 1 0 -2.4 0M470.8 21a1.2 1.2 0 1 0 2.4 0a1.2 1.2 0 1 0 -2.4 0M428.8 45.3a1.2 1.2 0 1 0 2.4 0a1.2 1.2 0 1 0 -2.4 0M434.8 45.8a1.2 1.2 0 1 0 2.4 0a1.2 1.2 0 1 0 -2.4 0M431.8 48.5a1.2 1.2 0 1 0 2.4 0a1.2 1.2 0 1 0 -2.4 0M503.8 16.3a1.2 1.2 0 1 0 2.4 0a1.2 1.2 0 1 0 -2.4 0M498.8 18.6a1.2 1.2 0 1 0 2.4 0a1.2 1.2 0 1 0 -2.4 0M495.8 21a1.2 1.2 0 1 0 2.4 0a1.2 1.2 0 1 0 -2.4 0M504.47 46.15a1.2 1.2 0 1 0 2.4 0a1.2 1.2 0 1 0 -2.4 0M496.06 37.26a1.2 1.2 0 1 0 2.4 0a1.2 1.2 0 1 0 -2.4 0M497.38 52.86a1.2 1.2 0 1 0 2.4 0a1.2 1.2 0 1 0 -2.4 0M500.65 43.36a1.2 1.2 0 1 0 2.4 0a1.2 1.2 0 1 0 -2.4 0M498.55 46.13a1.2 1.2 0 1 0 2.4 0a1.2 1.2 0 1 0 -2.4 0M503.54 46.65a1.2 1.2 0 1 0 2.4 0a1.2 1.2 0 1 0 -2.4 0M500.1 76.38a1.2 1.2 0 1 0 2.4 0a1.2 1.2 0 1 0 -2.4 0M504.86 52.85a1.2 1.2 0 1 0 2.4 0a1.2 1.2 0 1 0 -2.4 0M496.87 77.24a1.2 1.2 0 1 0 2.4 0a1.2 1.2 0 1 0 -2.4 0M503.61 60.94a1.2 1.2 0 1 0 2.4 0a1.2 1.2 0 1 0 -2.4 0M506.75 57a1.2 1.2 0 1 0 2.4 0a1.2 1.2 0 1 0 -2.4 0M503.81 46.37a1.2 1.2 0 1 0 2.4 0a1.2 1.2 0 1 0 -2.4 0M505.21 52.25a1.2 1.2 0 1 0 2.4 0a1.2 1.2 0 1 0 -2.4 0M495.54 53.88a1.2 1.2 0 1 0 2.4 0a1.2 1.2 0 1 0 -2.4 0M505.6 41.9a1.2 1.2 0 1 0 2.4 0a1.2 1.2 0 1 0 -2.4 0M498.5 35.17a1.2 1.2 0 1 0 2.4 0a1.2 1.2 0 1 0 -2.4 0M502.64 47.55a1.2 1.2 0 1 0 2.4 0a1.2 1.2 0 1 0 -2.4 0M502.9 60.04a1.2 1.2 0 1 0 2.4 0a1.2 1.2 0 1 0 -2.4 0M505.79 38.57a1.2 1.2 0 1 0 2.4 0a1.2 1.2 0 1 0 -2.4 0M504.5 54.4a1.2 1.2 0 1 0 2.4 0a1.2 1.2 0 1 0 -2.4 0M504.28 49.08a1.2 1.2 0 1 0 2.4 0a1.2 1.2 0 1 0 -2.4 0M504.09 52.48a1.2 1.2 0 1 0 2.4 0a1.2 1.2 0 1 0 -2.4 0M499.9 66.38a1.2 1.2 0 1 0 2.4 0a1.2 1.2 0 1 0 -2.4 0M507.04 54.97a1.2 1.2 0 1 0 2.4 0a1.2 1.2 0 1 0 -2.4 0M497.64 36.51a1.2 1.2 0 1 0 2.4 0a1.2 1.2 0 1 0 -2.4 0M498.56 65.62a1.2 1.2 0 1 0 2.4 0a1.2 1.2 0 1 0 -2.4 0M505.76 61.81a1.2 1.2 0 1 0 2.4 0a1.2 1.2 0 1 0 -2.4 0M498.67 36.61a1.2 1.2 0 1 0 2.4 0a1.2 1.2 0 1 0 -2.4 0M496.06 44.71a1.2 1.2 0 1 0 2.4 0a1.2 1.2 0 1 0 -2.4 0M498.46 36.75a1.2 1.2 0 1 0 2.4 0a1.2 1.2 0 1 0 -2.4 0M495.88 35.75a1.2 1.2 0 1 0 2.4 0a1.2 1.2 0 1 0 -2.4 0M497.76 64.71a1.2 1.2 0 1 0 2.4 0a1.2 1.2 0 1 0 -2.4 0M506.54 62.46a1.2 1.2 0 1 0 2.4 0a1.2 1.2 0 1 0 -2.4 0M502.2 48.17a1.2 1.2 0 1 0 2.4 0a1.2 1.2 0 1 0 -2.4 0M496.03 50.95a1.2 1.2 0 1 0 2.4 0a1.2 1.2 0 1 0 -2.4 0M505.08 38.43a1.2 1.2 0 1 0 2.4 0a1.2 1.2 0 1 0 -2.4 0M502.48 58.55a1.2 1.2 0 1 0 2.4 0a1.2 1.2 0 1 0 -2.4 0M505.85 18.79a1.2 1.2 0 1 0 2.4 0a1.2 1.2 0 1 0 -2.4 0M501.57 51.09a1.2 1.2 0 1 0 2.4 0a1.2 1.2 0 1 0 -2.4 0M504.52 29.26a1.2 1.2 0 1 0 2.4 0a1.2 1.2 0 1 0 -2.4 0" fill="#50ACEC" stroke="#43A2E6" stroke-width="0.3"/>
<line x1="378.5" y1="0.8" x2="378.5" y2="129.9" stroke="#999" stroke-width="0.9"/>
<line x1="378.1" y1="129.5" x2="519" y2="129.5" stroke="#999" stroke-width="0.9"/>
<line x1="397.5" y1="129.2" x2="397.5" y2="131.2" stroke="#999" stroke-width="0.6"/>
<line x1="432.6" y1="129.2" x2="432.6" y2="131.2" stroke="#999" stroke-width="0.6"/>
<line x1="467.6" y1="129.2" x2="467.6" y2="131.2" stroke="#999" stroke-width="0.6"/>
<line x1="502.5" y1="129.2" x2="502.5" y2="131.2" stroke="#999" stroke-width="0.6"/>
<line x1="376.8" y1="114.4" x2="378.5" y2="114.4" stroke="#999" stroke-width="0.6"/>
<text x="372.8" y="116.9" font-size="7.2" text-anchor="end" textLength="13.4" lengthAdjust="spacingAndGlyphs" stroke="#000" stroke-width="0.25">7.0</text>
<line x1="376.8" y1="99.55" x2="378.5" y2="99.55" stroke="#999" stroke-width="0.6"/>
<text x="372.8" y="102.05" font-size="7.2" text-anchor="end" textLength="13.4" lengthAdjust="spacingAndGlyphs" stroke="#000" stroke-width="0.25">7.5</text>
<line x1="376.8" y1="84.7" x2="378.5" y2="84.7" stroke="#999" stroke-width="0.6"/>
<text x="372.8" y="87.2" font-size="7.2" text-anchor="end" textLength="13.4" lengthAdjust="spacingAndGlyphs" stroke="#000" stroke-width="0.25">8.0</text>
<line x1="376.8" y1="69.85" x2="378.5" y2="69.85" stroke="#999" stroke-width="0.6"/>
<text x="372.8" y="72.35" font-size="7.2" text-anchor="end" textLength="13.4" lengthAdjust="spacingAndGlyphs" stroke="#000" stroke-width="0.25">8.5</text>
<line x1="376.8" y1="55" x2="378.5" y2="55" stroke="#999" stroke-width="0.6"/>
<text x="372.8" y="57.5" font-size="7.2" text-anchor="end" textLength="13.4" lengthAdjust="spacingAndGlyphs" stroke="#000" stroke-width="0.25">9.0</text>
<line x1="376.8" y1="40.15" x2="378.5" y2="40.15" stroke="#999" stroke-width="0.6"/>
<text x="372.8" y="42.65" font-size="7.2" text-anchor="end" textLength="13.4" lengthAdjust="spacingAndGlyphs" stroke="#000" stroke-width="0.25">9.5</text>
<line x1="376.8" y1="25.3" x2="378.5" y2="25.3" stroke="#999" stroke-width="0.6"/>
<text x="372.8" y="27.8" font-size="7.2" text-anchor="end" textLength="13.4" lengthAdjust="spacingAndGlyphs" stroke="#000" stroke-width="0.25">10.0</text>
<line x1="376.8" y1="10.45" x2="378.5" y2="10.45" stroke="#999" stroke-width="0.6"/>
<text x="372.8" y="12.95" font-size="7.2" text-anchor="end" textLength="13.4" lengthAdjust="spacingAndGlyphs" stroke="#000" stroke-width="0.25">10.5</text>
<text x="353.6" y="63.7" font-size="8.3" text-anchor="middle" transform="rotate(-90 353.6 63.7)" textLength="117.5" lengthAdjust="spacingAndGlyphs" stroke="#000" stroke-width="0.25">RABIF mRNA Expression  (log2)</text>
<text x="399.9" y="136.8" font-size="7.4" text-anchor="end" transform="rotate(-55 399.9 136.8)" textLength="55.76" lengthAdjust="spacingAndGlyphs" stroke="#000" stroke-width="0.3">Shallow Deletion</text>
<text x="435" y="136.8" font-size="7.4" text-anchor="end" transform="rotate(-55 435 136.8)" textLength="23.61" lengthAdjust="spacingAndGlyphs" stroke="#000" stroke-width="0.3">Diploid</text>
<text x="470" y="136.8" font-size="7.4" text-anchor="end" transform="rotate(-55 470 136.8)" textLength="15.49" lengthAdjust="spacingAndGlyphs" stroke="#000" stroke-width="0.3">Gain</text>
<text x="504.9" y="136.8" font-size="7.4" text-anchor="end" transform="rotate(-55 504.9 136.8)" textLength="44.14" lengthAdjust="spacingAndGlyphs" stroke="#000" stroke-width="0.3">Amplification</text>
<text x="532.5" y="16.3" font-size="14.6">D</text>
<path d="M601.52 101.64h1.8v1.8h-1.8zM606.64 92.21h1.8v1.8h-1.8zM619.11 106.06h1.8v1.8h-1.8zM595.94 90.8h1.8v1.8h-1.8zM598.73 96.12h1.8v1.8h-1.8zM609.1 91.11h1.8v1.8h-1.8zM609.39 91.9h1.8v1.8h-1.8zM602.99 97.58h1.8v1.8h-1.8zM613.71 87.72h1.8v1.8h-1.8zM614.97 100.07h1.8v1.8h-1.8zM599.85 96.66h1.8v1.8h-1.8zM607.17 105.72h1.8v1.8h-1.8zM610.38 97.69h1.8v1.8h-1.8zM598.28 88.88h1.8v1.8h-1.8zM613.24 90.49h1.8v1.8h-1.8zM601.65 96.73h1.8v1.8h-1.8zM608.44 87.19h1.8v1.8h-1.8zM608.88 90.76h1.8v1.8h-1.8zM615.35 82.49h1.8v1.8h-1.8zM597.43 91.46h1.8v1.8h-1.8zM616.13 108.57h1.8v1.8h-1.8zM596.01 96.47h1.8v1.8h-1.8zM599.71 90.69h1.8v1.8h-1.8zM617.94 106.35h1.8v1.8h-1.8zM599.18 100.09h1.8v1.8h-1.8zM608 99.18h1.8v1.8h-1.8zM598.43 87.16h1.8v1.8h-1.8zM619.45 87.86h1.8v1.8h-1.8zM597.81 95.04h1.8v1.8h-1.8zM602.67 101.09h1.8v1.8h-1.8zM595.22 98.5h1.8v1.8h-1.8zM598.96 108.41h1.8v1.8h-1.8zM611.44 105.16h1.8v1.8h-1.8zM599.03 95.91h1.8v1.8h-1.8zM602.01 95.67h1.8v1.8h-1.8zM600.31 99.23h1.8v1.8h-1.8zM606.52 95.39h1.8v1.8h-1.8zM609.57 82.12h1.8v1.8h-1.8zM595.75 90.53h1.8v1.8h-1.8zM613.78 85.67h1.8v1.8h-1.8zM605.01 95.65h1.8v1.8h-1.8zM605.07 94.59h1.8v1.8h-1.8zM617.85 95.74h1.8v1.8h-1.8zM613.3 97.66h1.8v1.8h-1.8zM598.39 95.65h1.8v1.8h-1.8zM609.96 91.68h1.8v1.8h-1.8zM598.55 102.54h1.8v1.8h-1.8zM606.79 89.13h1.8v1.8h-1.8zM608.1 113.41h1.8v1.8h-1.8zM607.1 71.43h1.8v1.8h-1.8zM604.1 79.88h1.8v1.8h-1.8zM613.1 79.35h1.8v1.8h-1.8z" fill="#5CC4D6"/>
<path d="M668.79 58.31h1.8v1.8h-1.8zM643.81 69.92h1.8v1.8h-1.8zM643.05 67.63h1.8v1.8h-1.8zM649.81 88.42h1.8v1.8h-1.8zM640.98 67.76h1.8v1.8h-1.8zM658.1 51.28h1.8v1.8h-1.8zM656.83 82.93h1.8v1.8h-1.8zM656.69 64.34h1.8v1.8h-1.8zM660.09 52.25h1.8v1.8h-1.8zM644.64 90.24h1.8v1.8h-1.8zM652.17 81.83h1.8v1.8h-1.8zM666.4 54.69h1.8v1.8h-1.8zM647.87 37.04h1.8v1.8h-1.8zM667.91 82.34h1.8v1.8h-1.8zM651.04 73.43h1.8v1.8h-1.8zM652.01 53.76h1.8v1.8h-1.8zM653.27 88.79h1.8v1.8h-1.8zM652.81 61.7h1.8v1.8h-1.8zM641.81 58.54h1.8v1.8h-1.8zM656.71 59.53h1.8v1.8h-1.8zM663.75 53.91h1.8v1.8h-1.8zM646.92 54.13h1.8v1.8h-1.8zM649 62.47h1.8v1.8h-1.8zM651.08 57.07h1.8v1.8h-1.8zM658.83 36.35h1.8v1.8h-1.8zM643.15 77.67h1.8v1.8h-1.8zM662.39 64.16h1.8v1.8h-1.8zM658.83 70.51h1.8v1.8h-1.8zM651.97 69.39h1.8v1.8h-1.8zM647.5 70.6h1.8v1.8h-1.8zM658.04 45.87h1.8v1.8h-1.8zM644.56 74.71h1.8v1.8h-1.8zM642.37 72.27h1.8v1.8h-1.8zM645.99 76.75h1.8v1.8h-1.8zM645.93 60.51h1.8v1.8h-1.8zM648.48 73.98h1.8v1.8h-1.8zM669.32 90.58h1.8v1.8h-1.8zM641.25 66.08h1.8v1.8h-1.8zM657.8 62.78h1.8v1.8h-1.8zM649.94 66.81h1.8v1.8h-1.8zM640.13 52.01h1.8v1.8h-1.8zM656.28 72.96h1.8v1.8h-1.8zM645.99 68.49h1.8v1.8h-1.8zM642.09 71.73h1.8v1.8h-1.8zM667.44 56.88h1.8v1.8h-1.8zM646.06 67.04h1.8v1.8h-1.8zM640.28 68.81h1.8v1.8h-1.8zM668.44 23.98h1.8v1.8h-1.8zM658.82 67.36h1.8v1.8h-1.8zM649.41 55.34h1.8v1.8h-1.8zM646.49 67.18h1.8v1.8h-1.8zM643.73 64.14h1.8v1.8h-1.8zM642.97 58.49h1.8v1.8h-1.8zM666.72 55.48h1.8v1.8h-1.8zM649.86 76.07h1.8v1.8h-1.8zM663.56 29.64h1.8v1.8h-1.8zM656.2 56.4h1.8v1.8h-1.8zM642.97 34.13h1.8v1.8h-1.8zM657.28 61.69h1.8v1.8h-1.8zM664.19 49.28h1.8v1.8h-1.8zM655.36 55.62h1.8v1.8h-1.8zM666.37 58.33h1.8v1.8h-1.8zM643.82 76.66h1.8v1.8h-1.8zM664.04 47.34h1.8v1.8h-1.8zM653.39 63.58h1.8v1.8h-1.8zM641.04 75.61h1.8v1.8h-1.8zM668.94 75.47h1.8v1.8h-1.8zM665.64 26.5h1.8v1.8h-1.8zM649.22 63.26h1.8v1.8h-1.8zM640.24 58.32h1.8v1.8h-1.8zM645.91 37.61h1.8v1.8h-1.8zM654.88 44.76h1.8v1.8h-1.8zM666.54 39.63h1.8v1.8h-1.8zM648.3 69.85h1.8v1.8h-1.8zM654.92 49.39h1.8v1.8h-1.8zM641.36 52.99h1.8v1.8h-1.8zM657.14 91.06h1.8v1.8h-1.8zM655.13 49.93h1.8v1.8h-1.8zM652.89 59.09h1.8v1.8h-1.8zM668.08 66.72h1.8v1.8h-1.8zM664.69 62.82h1.8v1.8h-1.8zM661.6 80.22h1.8v1.8h-1.8zM646.22 69.36h1.8v1.8h-1.8zM640.42 41.78h1.8v1.8h-1.8zM645.75 78.96h1.8v1.8h-1.8zM668.86 46.56h1.8v1.8h-1.8zM641.69 66.28h1.8v1.8h-1.8zM659.54 49.71h1.8v1.8h-1.8zM647.48 54.92h1.8v1.8h-1.8zM655.99 67.86h1.8v1.8h-1.8zM654.91 59.11h1.8v1.8h-1.8zM659.44 68.29h1.8v1.8h-1.8zM666.84 43.91h1.8v1.8h-1.8zM654.59 47.23h1.8v1.8h-1.8zM665.44 51.53h1.8v1.8h-1.8zM663.77 72.06h1.8v1.8h-1.8zM661.31 64.7h1.8v1.8h-1.8zM657.84 35.39h1.8v1.8h-1.8zM641.61 74.15h1.8v1.8h-1.8zM656.04 48.61h1.8v1.8h-1.8zM650.37 61.11h1.8v1.8h-1.8zM647.65 50.6h1.8v1.8h-1.8zM642.89 45.16h1.8v1.8h-1.8zM668.48 50.88h1.8v1.8h-1.8zM666.32 46.16h1.8v1.8h-1.8zM645.27 72.99h1.8v1.8h-1.8zM646 73.31h1.8v1.8h-1.8zM665.99 82.84h1.8v1.8h-1.8zM645.93 52.87h1.8v1.8h-1.8zM648.6 62.14h1.8v1.8h-1.8zM643.79 59.82h1.8v1.8h-1.8zM667.3 51.75h1.8v1.8h-1.8zM640.39 65.04h1.8v1.8h-1.8zM643.98 62.42h1.8v1.8h-1.8zM657.27 73.15h1.8v1.8h-1.8zM652.71 65.89h1.8v1.8h-1.8zM659.67 72.07h1.8v1.8h-1.8zM651.81 54.39h1.8v1.8h-1.8zM666.77 30.74h1.8v1.8h-1.8zM661.27 34.28h1.8v1.8h-1.8zM666.48 69.7h1.8v1.8h-1.8zM654.95 53.75h1.8v1.8h-1.8zM659.91 59.36h1.8v1.8h-1.8zM644.05 86.34h1.8v1.8h-1.8zM640.86 92.29h1.8v1.8h-1.8zM668.38 70.62h1.8v1.8h-1.8zM644.78 63.26h1.8v1.8h-1.8zM642.56 80.87h1.8v1.8h-1.8zM657.54 75.56h1.8v1.8h-1.8zM643.22 74.12h1.8v1.8h-1.8zM663.81 75.42h1.8v1.8h-1.8zM644.08 80h1.8v1.8h-1.8zM658.63 64.72h1.8v1.8h-1.8zM665.57 51.82h1.8v1.8h-1.8zM655.12 57.25h1.8v1.8h-1.8zM656.68 74.21h1.8v1.8h-1.8zM661.65 63.65h1.8v1.8h-1.8zM669.36 60.71h1.8v1.8h-1.8zM652.54 88.87h1.8v1.8h-1.8zM663.07 47.28h1.8v1.8h-1.8zM658.93 71.58h1.8v1.8h-1.8zM655.28 80.12h1.8v1.8h-1.8zM653.87 24.64h1.8v1.8h-1.8zM648.43 76.18h1.8v1.8h-1.8zM649.36 65.96h1.8v1.8h-1.8zM652.12 72.01h1.8v1.8h-1.8zM668.06 47.23h1.8v1.8h-1.8zM669.44 65.51h1.8v1.8h-1.8zM642.19 82.58h1.8v1.8h-1.8zM641.46 92.47h1.8v1.8h-1.8zM645.49 69.23h1.8v1.8h-1.8zM649.02 32.95h1.8v1.8h-1.8zM664.34 76.79h1.8v1.8h-1.8zM649.73 43.27h1.8v1.8h-1.8zM640.17 73.92h1.8v1.8h-1.8zM668.44 83.33h1.8v1.8h-1.8zM665.75 95.01h1.8v1.8h-1.8zM648.7 63.99h1.8v1.8h-1.8zM648.56 57.67h1.8v1.8h-1.8zM642.45 63.18h1.8v1.8h-1.8zM662.2 91.14h1.8v1.8h-1.8zM644.36 70.46h1.8v1.8h-1.8zM648.79 56.87h1.8v1.8h-1.8zM662.01 69.39h1.8v1.8h-1.8zM641.75 55.01h1.8v1.8h-1.8zM669.12 30.46h1.8v1.8h-1.8zM662.78 81.31h1.8v1.8h-1.8zM665.86 23.65h1.8v1.8h-1.8zM666.29 77.3h1.8v1.8h-1.8zM665.73 63.1h1.8v1.8h-1.8zM661.18 63.17h1.8v1.8h-1.8zM647.87 49.26h1.8v1.8h-1.8zM657.5 66.49h1.8v1.8h-1.8zM667.57 60.8h1.8v1.8h-1.8zM645.73 62.7h1.8v1.8h-1.8zM664.21 54.77h1.8v1.8h-1.8zM655.15 54.91h1.8v1.8h-1.8zM659.39 61.93h1.8v1.8h-1.8zM642.58 49.06h1.8v1.8h-1.8zM666.05 40.61h1.8v1.8h-1.8zM641.58 70.95h1.8v1.8h-1.8zM651.38 69.91h1.8v1.8h-1.8zM657.38 70.5h1.8v1.8h-1.8zM650.01 71.43h1.8v1.8h-1.8zM658.16 70.69h1.8v1.8h-1.8zM660.9 60.66h1.8v1.8h-1.8zM664.11 50.67h1.8v1.8h-1.8zM668.52 71.15h1.8v1.8h-1.8zM643.77 55.46h1.8v1.8h-1.8zM648.8 67.49h1.8v1.8h-1.8zM658.04 24.47h1.8v1.8h-1.8zM642.58 58.06h1.8v1.8h-1.8zM641.95 51.12h1.8v1.8h-1.8zM665.96 75.45h1.8v1.8h-1.8zM643.78 73.83h1.8v1.8h-1.8zM654.2 58.68h1.8v1.8h-1.8zM652.07 72.44h1.8v1.8h-1.8zM667.09 62.47h1.8v1.8h-1.8zM644.77 44.88h1.8v1.8h-1.8zM654.56 72.01h1.8v1.8h-1.8zM642.57 73.53h1.8v1.8h-1.8zM667.07 59.42h1.8v1.8h-1.8zM647.75 65.49h1.8v1.8h-1.8zM649.47 52.77h1.8v1.8h-1.8zM642.51 63.72h1.8v1.8h-1.8zM642.48 76.8h1.8v1.8h-1.8zM648.68 91.85h1.8v1.8h-1.8zM666.45 56.9h1.8v1.8h-1.8zM647.58 71.81h1.8v1.8h-1.8zM651.47 60.15h1.8v1.8h-1.8zM662.61 87.34h1.8v1.8h-1.8zM660.8 72.5h1.8v1.8h-1.8zM668.64 56.78h1.8v1.8h-1.8zM665.54 47.06h1.8v1.8h-1.8zM650.61 46.66h1.8v1.8h-1.8zM661.53 43.58h1.8v1.8h-1.8zM651.37 62.2h1.8v1.8h-1.8zM656.57 48.1h1.8v1.8h-1.8zM668.06 57.04h1.8v1.8h-1.8zM669.58 65.43h1.8v1.8h-1.8zM650.77 68.47h1.8v1.8h-1.8zM643.75 73.01h1.8v1.8h-1.8zM645.5 47.18h1.8v1.8h-1.8zM666.35 61.25h1.8v1.8h-1.8zM659.89 72.14h1.8v1.8h-1.8zM642.72 63.67h1.8v1.8h-1.8zM654.93 34.65h1.8v1.8h-1.8zM659.46 81.82h1.8v1.8h-1.8zM641.37 81.25h1.8v1.8h-1.8zM666.57 41.13h1.8v1.8h-1.8zM655.78 82.15h1.8v1.8h-1.8zM667.8 41.78h1.8v1.8h-1.8zM652.14 69.9h1.8v1.8h-1.8zM661.27 55.95h1.8v1.8h-1.8zM661.8 42.91h1.8v1.8h-1.8zM642.23 42.87h1.8v1.8h-1.8zM668.79 50.48h1.8v1.8h-1.8zM662.93 61.98h1.8v1.8h-1.8zM653.61 65.64h1.8v1.8h-1.8zM658.19 65.31h1.8v1.8h-1.8zM660.35 39.11h1.8v1.8h-1.8zM661.16 56.9h1.8v1.8h-1.8zM652.23 44.65h1.8v1.8h-1.8zM654.6 95.77h1.8v1.8h-1.8zM647.17 66.71h1.8v1.8h-1.8zM653.03 57.2h1.8v1.8h-1.8zM664.77 67.12h1.8v1.8h-1.8zM650.18 30.63h1.8v1.8h-1.8zM666.71 77.98h1.8v1.8h-1.8zM656.42 53.9h1.8v1.8h-1.8zM659.25 48.6h1.8v1.8h-1.8zM644.1 73.48h1.8v1.8h-1.8zM659.71 48.89h1.8v1.8h-1.8zM658.8 55.28h1.8v1.8h-1.8zM649.66 19.07h1.8v1.8h-1.8zM647.82 39.98h1.8v1.8h-1.8zM660.17 61.92h1.8v1.8h-1.8zM641.81 47.1h1.8v1.8h-1.8zM663.94 55.31h1.8v1.8h-1.8zM649.51 67.89h1.8v1.8h-1.8zM642.48 51.65h1.8v1.8h-1.8zM657.06 54h1.8v1.8h-1.8zM653.23 38.06h1.8v1.8h-1.8zM661.49 81.65h1.8v1.8h-1.8zM662.06 80.96h1.8v1.8h-1.8zM642.6 72.38h1.8v1.8h-1.8zM658.43 51.58h1.8v1.8h-1.8zM666.28 45.52h1.8v1.8h-1.8zM662.85 62.98h1.8v1.8h-1.8zM660.64 57.54h1.8v1.8h-1.8zM649.53 60.55h1.8v1.8h-1.8zM655.7 84.8h1.8v1.8h-1.8zM658.88 73.25h1.8v1.8h-1.8zM651.37 47.89h1.8v1.8h-1.8zM650.22 48.86h1.8v1.8h-1.8zM653.6 44.01h1.8v1.8h-1.8zM640.52 51.04h1.8v1.8h-1.8zM646.51 97.62h1.8v1.8h-1.8zM642.18 56.88h1.8v1.8h-1.8zM666.45 55.91h1.8v1.8h-1.8zM643.11 80.59h1.8v1.8h-1.8zM643.76 33.84h1.8v1.8h-1.8zM643.62 63.27h1.8v1.8h-1.8zM654.64 47.25h1.8v1.8h-1.8zM649.43 49.67h1.8v1.8h-1.8zM661.11 52.21h1.8v1.8h-1.8zM650.74 40.67h1.8v1.8h-1.8zM644.15 63.14h1.8v1.8h-1.8zM652.81 47.26h1.8v1.8h-1.8zM664.32 54.46h1.8v1.8h-1.8zM643.97 78.8h1.8v1.8h-1.8zM664.26 70.39h1.8v1.8h-1.8zM658.1 78.46h1.8v1.8h-1.8zM669.13 86.98h1.8v1.8h-1.8zM659.08 83.82h1.8v1.8h-1.8zM650.96 54.16h1.8v1.8h-1.8zM667.42 81.82h1.8v1.8h-1.8zM651.7 46.83h1.8v1.8h-1.8zM660.62 64.83h1.8v1.8h-1.8zM663.61 64.99h1.8v1.8h-1.8zM659.53 79.2h1.8v1.8h-1.8zM653.74 55.65h1.8v1.8h-1.8zM651.93 74.39h1.8v1.8h-1.8zM645.6 51.7h1.8v1.8h-1.8zM653.7 51.05h1.8v1.8h-1.8zM663.7 85.97h1.8v1.8h-1.8zM667.98 54.05h1.8v1.8h-1.8zM659.16 91.14h1.8v1.8h-1.8zM664.36 49.16h1.8v1.8h-1.8zM662.11 91.89h1.8v1.8h-1.8zM664.57 76.45h1.8v1.8h-1.8zM659.9 42.16h1.8v1.8h-1.8zM650 57.91h1.8v1.8h-1.8zM644.6 50.98h1.8v1.8h-1.8zM650.91 96.71h1.8v1.8h-1.8zM665.21 49.8h1.8v1.8h-1.8zM660.14 73.32h1.8v1.8h-1.8zM646.45 37h1.8v1.8h-1.8zM642.74 60.39h1.8v1.8h-1.8zM668.13 62.65h1.8v1.8h-1.8zM662.43 84.79h1.8v1.8h-1.8zM655.06 74.48h1.8v1.8h-1.8zM653.05 61.66h1.8v1.8h-1.8zM654.97 41.24h1.8v1.8h-1.8zM649.1 42.53h1.8v1.8h-1.8zM669.26 64.97h1.8v1.8h-1.8zM646.77 78.11h1.8v1.8h-1.8zM644.1 79.26h1.8v1.8h-1.8zM665.26 36.38h1.8v1.8h-1.8zM652.66 56.8h1.8v1.8h-1.8zM643.14 76.77h1.8v1.8h-1.8zM650.33 38.96h1.8v1.8h-1.8zM667.34 53.07h1.8v1.8h-1.8zM644.33 49.84h1.8v1.8h-1.8zM644.72 48.44h1.8v1.8h-1.8zM667.94 56.02h1.8v1.8h-1.8zM645.61 68.49h1.8v1.8h-1.8zM659.3 85.07h1.8v1.8h-1.8zM640.35 80.73h1.8v1.8h-1.8zM647.6 73.98h1.8v1.8h-1.8zM654.46 53.5h1.8v1.8h-1.8zM653.53 71.89h1.8v1.8h-1.8zM669.31 49.24h1.8v1.8h-1.8zM642.05 47.72h1.8v1.8h-1.8zM646.93 38.81h1.8v1.8h-1.8zM645.78 38.31h1.8v1.8h-1.8zM668.41 100.45h1.8v1.8h-1.8zM665.25 37.17h1.8v1.8h-1.8zM649.34 57.63h1.8v1.8h-1.8zM653.04 58.6h1.8v1.8h-1.8zM652.47 69.98h1.8v1.8h-1.8zM642.24 56.85h1.8v1.8h-1.8zM654.18 58.92h1.8v1.8h-1.8zM659.12 70.47h1.8v1.8h-1.8zM643.12 87.9h1.8v1.8h-1.8zM649.15 40.79h1.8v1.8h-1.8zM662.37 52.37h1.8v1.8h-1.8zM660.22 75.25h1.8v1.8h-1.8zM648.81 67.55h1.8v1.8h-1.8zM667.36 49.14h1.8v1.8h-1.8zM650.33 68.46h1.8v1.8h-1.8zM658.75 55.98h1.8v1.8h-1.8zM650.09 45.15h1.8v1.8h-1.8zM640.08 47.84h1.8v1.8h-1.8zM665.2 62.58h1.8v1.8h-1.8zM650.83 73.24h1.8v1.8h-1.8zM659.57 65.82h1.8v1.8h-1.8zM651.88 49.28h1.8v1.8h-1.8zM660.36 62.95h1.8v1.8h-1.8zM645.57 36.2h1.8v1.8h-1.8zM653.81 34.11h1.8v1.8h-1.8zM655.83 38.45h1.8v1.8h-1.8zM647.01 49.67h1.8v1.8h-1.8zM645.65 77.85h1.8v1.8h-1.8zM652.28 35.43h1.8v1.8h-1.8zM650.73 48.97h1.8v1.8h-1.8zM640.63 69.81h1.8v1.8h-1.8zM663.91 72.97h1.8v1.8h-1.8zM652.99 69.25h1.8v1.8h-1.8zM656.05 57.91h1.8v1.8h-1.8zM659.8 108.92h1.8v1.8h-1.8zM663.8 8.6h1.8v1.8h-1.8zM652.8 11.24h1.8v1.8h-1.8zM667.8 16.52h1.8v1.8h-1.8z" fill="#E4473A"/>
<line x1="600" y1="96.2" x2="616.7" y2="96.2" stroke="#111" stroke-width="0.9"/>
<rect x="605" y="94.9" width="7" height="2.6" fill="#222" rx="1"/>
<line x1="647" y1="59.3" x2="664" y2="59.3" stroke="#111" stroke-width="0.9"/>
<rect x="652" y="58.3" width="7" height="2" fill="#111" rx="1"/>
<line x1="580.2" y1="1.2" x2="580.2" y2="119.8" stroke="#333" stroke-width="0.8"/>
<line x1="579.8" y1="119.6" x2="683.4" y2="119.6" stroke="#333" stroke-width="0.8"/>
<line x1="577.6" y1="115.1" x2="580.2" y2="115.1" stroke="#333" stroke-width="0.7"/>
<text x="576.3" y="117.3" font-size="6.1" text-anchor="end" fill="#111">2</text>
<line x1="577.6" y1="88.7" x2="580.2" y2="88.7" stroke="#333" stroke-width="0.7"/>
<text x="576.3" y="90.9" font-size="6.1" text-anchor="end" fill="#111">3</text>
<line x1="577.6" y1="62.3" x2="580.2" y2="62.3" stroke="#333" stroke-width="0.7"/>
<text x="576.3" y="64.5" font-size="6.1" text-anchor="end" fill="#111">4</text>
<line x1="577.6" y1="35.9" x2="580.2" y2="35.9" stroke="#333" stroke-width="0.7"/>
<text x="576.3" y="38.1" font-size="6.1" text-anchor="end" fill="#111">5</text>
<line x1="577.6" y1="9.5" x2="580.2" y2="9.5" stroke="#333" stroke-width="0.7"/>
<text x="576.3" y="11.7" font-size="6.1" text-anchor="end" fill="#111">6</text>
<line x1="608.3" y1="119.6" x2="608.3" y2="122.2" stroke="#333" stroke-width="0.7"/>
<line x1="655.7" y1="119.6" x2="655.7" y2="122.2" stroke="#333" stroke-width="0.7"/>
<text x="608.3" y="128.2" font-size="6.3" text-anchor="middle" fill="#111">Normal</text>
<text x="655.7" y="128.2" font-size="6.3" text-anchor="middle" fill="#222">Tumor</text>
<path d="M608.3 8.9V6.5H655.7V8.9" stroke="#222" stroke-width="0.8" fill="none"/>
<text x="632" y="7.2" font-size="5.2" font-weight="bold" text-anchor="middle" fill="#111" textLength="6" lengthAdjust="spacingAndGlyphs">***</text>
<text x="559.9" y="60.4" font-size="6.3" text-anchor="middle" fill="#222" transform="rotate(-90 559.9 60.4)" textLength="70.6" lengthAdjust="spacingAndGlyphs">The expression of RABIF</text>
<text x="566.1" y="61.6" font-size="6.3" text-anchor="middle" fill="#222" transform="rotate(-90 566.1 61.6)">Log<tspan font-size="4.4" dy="1.4">2</tspan><tspan dy="-1.4"> (TPM+1)</tspan></text>
<text x="0.5" y="202.1" font-size="14.6">E</text>
<path d="M72.6 321.4L125.4 261.39M72.6 302.03L125.4 283.32M72.6 305.27L125.4 287.92M72.6 313.43L125.4 272.5M72.6 311.4L125.4 249.41M72.6 306.61L125.4 270.37M72.6 307.63L125.4 256.35M72.6 323.38L125.4 254.41M72.6 305.15L125.4 265.11M72.6 303.24L125.4 285.42M72.6 307.95L125.4 278.7M72.6 311.57L125.4 271.69M72.6 300.39L125.4 261.71M72.6 319.65L125.4 290.01M72.6 309.5L125.4 264.38M72.6 299.69L125.4 264.29M72.6 312.22L125.4 266.24M72.6 313.89L125.4 280.39M72.6 309.86L125.4 277.67M72.6 314.09L125.4 260.29M72.6 299.05L125.4 257.17M72.6 317.58L125.4 297.07M72.6 304.14L125.4 294.57M72.6 320.19L125.4 280.99M72.6 305.68L125.4 259.39M72.6 311.52L125.4 262.78M72.6 310.78L125.4 291.91M72.6 318.79L125.4 274.51M72.6 314.09L125.4 288.14M72.6 299.11L125.4 284.31M72.6 319.17L125.4 262.11M72.6 318.74L125.4 296.24M72.6 299.85L125.4 277.18M72.6 309.86L125.4 285M72.6 299.08L125.4 275M72.6 308.29L125.4 214.89M72.6 317.4L125.4 254.96M72.6 311.23L125.4 289.23M72.6 301.44L125.4 274.32M72.6 303.62L125.4 258.19M72.6 310.73L125.4 278.32M72.6 310.36L125.4 284.82M72.6 311.58L125.4 259.6M72.6 315.1L125.4 260.99M72.6 310.68L125.4 263.67M72.6 319.28L125.4 270.75M72.6 330.72L125.4 225.18M72.6 284.27L125.4 291.46M72.6 293.68L125.4 326.31M72.6 295.15L125.4 260.94" stroke="#000" stroke-width="0.8" fill="none"/>
<path d="M70.85 321.4a1.75 1.75 0 1 0 3.5 0a1.75 1.75 0 1 0 -3.5 0M70.85 302.03a1.75 1.75 0 1 0 3.5 0a1.75 1.75 0 1 0 -3.5 0M70.85 305.27a1.75 1.75 0 1 0 3.5 0a1.75 1.75 0 1 0 -3.5 0M70.85 313.43a1.75 1.75 0 1 0 3.5 0a1.75 1.75 0 1 0 -3.5 0M70.85 311.4a1.75 1.75 0 1 0 3.5 0a1.75 1.75 0 1 0 -3.5 0M70.85 306.61a1.75 1.75 0 1 0 3.5 0a1.75 1.75 0 1 0 -3.5 0M70.85 307.63a1.75 1.75 0 1 0 3.5 0a1.75 1.75 0 1 0 -3.5 0M70.85 323.38a1.75 1.75 0 1 0 3.5 0a1.75 1.75 0 1 0 -3.5 0M70.85 305.15a1.75 1.75 0 1 0 3.5 0a1.75 1.75 0 1 0 -3.5 0M70.85 303.24a1.75 1.75 0 1 0 3.5 0a1.75 1.75 0 1 0 -3.5 0M70.85 307.95a1.75 1.75 0 1 0 3.5 0a1.75 1.75 0 1 0 -3.5 0M70.85 311.57a1.75 1.75 0 1 0 3.5 0a1.75 1.75 0 1 0 -3.5 0M70.85 300.39a1.75 1.75 0 1 0 3.5 0a1.75 1.75 0 1 0 -3.5 0M70.85 319.65a1.75 1.75 0 1 0 3.5 0a1.75 1.75 0 1 0 -3.5 0M70.85 309.5a1.75 1.75 0 1 0 3.5 0a1.75 1.75 0 1 0 -3.5 0M70.85 299.69a1.75 1.75 0 1 0 3.5 0a1.75 1.75 0 1 0 -3.5 0M70.85 312.22a1.75 1.75 0 1 0 3.5 0a1.75 1.75 0 1 0 -3.5 0M70.85 313.89a1.75 1.75 0 1 0 3.5 0a1.75 1.75 0 1 0 -3.5 0M70.85 309.86a1.75 1.75 0 1 0 3.5 0a1.75 1.75 0 1 0 -3.5 0M70.85 314.09a1.75 1.75 0 1 0 3.5 0a1.75 1.75 0 1 0 -3.5 0M70.85 299.05a1.75 1.75 0 1 0 3.5 0a1.75 1.75 0 1 0 -3.5 0M70.85 317.58a1.75 1.75 0 1 0 3.5 0a1.75 1.75 0 1 0 -3.5 0M70.85 304.14a1.75 1.75 0 1 0 3.5 0a1.75 1.75 0 1 0 -3.5 0M70.85 320.19a1.75 1.75 0 1 0 3.5 0a1.75 1.75 0 1 0 -3.5 0M70.85 305.68a1.75 1.75 0 1 0 3.5 0a1.75 1.75 0 1 0 -3.5 0M70.85 311.52a1.75 1.75 0 1 0 3.5 0a1.75 1.75 0 1 0 -3.5 0M70.85 310.78a1.75 1.75 0 1 0 3.5 0a1.75 1.75 0 1 0 -3.5 0M70.85 318.79a1.75 1.75 0 1 0 3.5 0a1.75 1.75 0 1 0 -3.5 0M70.85 314.09a1.75 1.75 0 1 0 3.5 0a1.75 1.75 0 1 0 -3.5 0M70.85 299.11a1.75 1.75 0 1 0 3.5 0a1.75 1.75 0 1 0 -3.5 0M70.85 319.17a1.75 1.75 0 1 0 3.5 0a1.75 1.75 0 1 0 -3.5 0M70.85 318.74a1.75 1.75 0 1 0 3.5 0a1.75 1.75 0 1 0 -3.5 0M70.85 299.85a1.75 1.75 0 1 0 3.5 0a1.75 1.75 0 1 0 -3.5 0M70.85 309.86a1.75 1.75 0 1 0 3.5 0a1.75 1.75 0 1 0 -3.5 0M70.85 299.08a1.75 1.75 0 1 0 3.5 0a1.75 1.75 0 1 0 -3.5 0M70.85 308.29a1.75 1.75 0 1 0 3.5 0a1.75 1.75 0 1 0 -3.5 0M70.85 317.4a1.75 1.75 0 1 0 3.5 0a1.75 1.75 0 1 0 -3.5 0M70.85 311.23a1.75 1.75 0 1 0 3.5 0a1.75 1.75 0 1 0 -3.5 0M70.85 301.44a1.75 1.75 0 1 0 3.5 0a1.75 1.75 0 1 0 -3.5 0M70.85 303.62a1.75 1.75 0 1 0 3.5 0a1.75 1.75 0 1 0 -3.5 0M70.85 310.73a1.75 1.75 0 1 0 3.5 0a1.75 1.75 0 1 0 -3.5 0M70.85 310.36a1.75 1.75 0 1 0 3.5 0a1.75 1.75 0 1 0 -3.5 0M70.85 311.58a1.75 1.75 0 1 0 3.5 0a1.75 1.75 0 1 0 -3.5 0M70.85 315.1a1.75 1.75 0 1 0 3.5 0a1.75 1.75 0 1 0 -3.5 0M70.85 310.68a1.75 1.75 0 1 0 3.5 0a1.75 1.75 0 1 0 -3.5 0M70.85 319.28a1.75 1.75 0 1 0 3.5 0a1.75 1.75 0 1 0 -3.5 0M70.85 330.72a1.75 1.75 0 1 0 3.5 0a1.75 1.75 0 1 0 -3.5 0M70.85 284.27a1.75 1.75 0 1 0 3.5 0a1.75 1.75 0 1 0 -3.5 0M70.85 293.68a1.75 1.75 0 1 0 3.5 0a1.75 1.75 0 1 0 -3.5 0M70.85 295.15a1.75 1.75 0 1 0 3.5 0a1.75 1.75 0 1 0 -3.5 0" fill="#5CC4D6"/>
<path d="M123.65 261.39a1.75 1.75 0 1 0 3.5 0a1.75 1.75 0 1 0 -3.5 0M123.65 283.32a1.75 1.75 0 1 0 3.5 0a1.75 1.75 0 1 0 -3.5 0M123.65 287.92a1.75 1.75 0 1 0 3.5 0a1.75 1.75 0 1 0 -3.5 0M123.65 272.5a1.75 1.75 0 1 0 3.5 0a1.75 1.75 0 1 0 -3.5 0M123.65 249.41a1.75 1.75 0 1 0 3.5 0a1.75 1.75 0 1 0 -3.5 0M123.65 270.37a1.75 1.75 0 1 0 3.5 0a1.75 1.75 0 1 0 -3.5 0M123.65 256.35a1.75 1.75 0 1 0 3.5 0a1.75 1.75 0 1 0 -3.5 0M123.65 254.41a1.75 1.75 0 1 0 3.5 0a1.75 1.75 0 1 0 -3.5 0M123.65 265.11a1.75 1.75 0 1 0 3.5 0a1.75 1.75 0 1 0 -3.5 0M123.65 285.42a1.75 1.75 0 1 0 3.5 0a1.75 1.75 0 1 0 -3.5 0M123.65 278.7a1.75 1.75 0 1 0 3.5 0a1.75 1.75 0 1 0 -3.5 0M123.65 271.69a1.75 1.75 0 1 0 3.5 0a1.75 1.75 0 1 0 -3.5 0M123.65 261.71a1.75 1.75 0 1 0 3.5 0a1.75 1.75 0 1 0 -3.5 0M123.65 290.01a1.75 1.75 0 1 0 3.5 0a1.75 1.75 0 1 0 -3.5 0M123.65 264.38a1.75 1.75 0 1 0 3.5 0a1.75 1.75 0 1 0 -3.5 0M123.65 264.29a1.75 1.75 0 1 0 3.5 0a1.75 1.75 0 1 0 -3.5 0M123.65 266.24a1.75 1.75 0 1 0 3.5 0a1.75 1.75 0 1 0 -3.5 0M123.65 280.39a1.75 1.75 0 1 0 3.5 0a1.75 1.75 0 1 0 -3.5 0M123.65 277.67a1.75 1.75 0 1 0 3.5 0a1.75 1.75 0 1 0 -3.5 0M123.65 260.29a1.75 1.75 0 1 0 3.5 0a1.75 1.75 0 1 0 -3.5 0M123.65 257.17a1.75 1.75 0 1 0 3.5 0a1.75 1.75 0 1 0 -3.5 0M123.65 297.07a1.75 1.75 0 1 0 3.5 0a1.75 1.75 0 1 0 -3.5 0M123.65 294.57a1.75 1.75 0 1 0 3.5 0a1.75 1.75 0 1 0 -3.5 0M123.65 280.99a1.75 1.75 0 1 0 3.5 0a1.75 1.75 0 1 0 -3.5 0M123.65 259.39a1.75 1.75 0 1 0 3.5 0a1.75 1.75 0 1 0 -3.5 0M123.65 262.78a1.75 1.75 0 1 0 3.5 0a1.75 1.75 0 1 0 -3.5 0M123.65 291.91a1.75 1.75 0 1 0 3.5 0a1.75 1.75 0 1 0 -3.5 0M123.65 274.51a1.75 1.75 0 1 0 3.5 0a1.75 1.75 0 1 0 -3.5 0M123.65 288.14a1.75 1.75 0 1 0 3.5 0a1.75 1.75 0 1 0 -3.5 0M123.65 284.31a1.75 1.75 0 1 0 3.5 0a1.75 1.75 0 1 0 -3.5 0M123.65 262.11a1.75 1.75 0 1 0 3.5 0a1.75 1.75 0 1 0 -3.5 0M123.65 296.24a1.75 1.75 0 1 0 3.5 0a1.75 1.75 0 1 0 -3.5 0M123.65 277.18a1.75 1.75 0 1 0 3.5 0a1.75 1.75 0 1 0 -3.5 0M123.65 285a1.75 1.75 0 1 0 3.5 0a1.75 1.75 0 1 0 -3.5 0M123.65 275a1.75 1.75 0 1 0 3.5 0a1.75 1.75 0 1 0 -3.5 0M123.65 214.89a1.75 1.75 0 1 0 3.5 0a1.75 1.75 0 1 0 -3.5 0M123.65 254.96a1.75 1.75 0 1 0 3.5 0a1.75 1.75 0 1 0 -3.5 0M123.65 289.23a1.75 1.75 0 1 0 3.5 0a1.75 1.75 0 1 0 -3.5 0M123.65 274.32a1.75 1.75 0 1 0 3.5 0a1.75 1.75 0 1 0 -3.5 0M123.65 258.19a1.75 1.75 0 1 0 3.5 0a1.75 1.75 0 1 0 -3.5 0M123.65 278.32a1.75 1.75 0 1 0 3.5 0a1.75 1.75 0 1 0 -3.5 0M123.65 284.82a1.75 1.75 0 1 0 3.5 0a1.75 1.75 0 1 0 -3.5 0M123.65 259.6a1.75 1.75 0 1 0 3.5 0a1.75 1.75 0 1 0 -3.5 0M123.65 260.99a1.75 1.75 0 1 0 3.5 0a1.75 1.75 0 1 0 -3.5 0M123.65 263.67a1.75 1.75 0 1 0 3.5 0a1.75 1.75 0 1 0 -3.5 0M123.65 270.75a1.75 1.75 0 1 0 3.5 0a1.75 1.75 0 1 0 -3.5 0M123.65 225.18a1.75 1.75 0 1 0 3.5 0a1.75 1.75 0 1 0 -3.5 0M123.65 291.46a1.75 1.75 0 1 0 3.5 0a1.75 1.75 0 1 0 -3.5 0M123.65 326.31a1.75 1.75 0 1 0 3.5 0a1.75 1.75 0 1 0 -3.5 0M123.65 260.94a1.75 1.75 0 1 0 3.5 0a1.75 1.75 0 1 0 -3.5 0" fill="#E4473A"/>
<line x1="41.3" y1="205.5" x2="41.3" y2="336.5" stroke="#333" stroke-width="0.85"/>
<line x1="40.9" y1="336.1" x2="156.5" y2="336.1" stroke="#333" stroke-width="0.85"/>
<line x1="38.6" y1="331.9" x2="41.3" y2="331.9" stroke="#333" stroke-width="0.7"/>
<text x="36.6" y="334.15" font-size="6.3" text-anchor="end" fill="#111">2</text>
<line x1="38.6" y1="302.5" x2="41.3" y2="302.5" stroke="#333" stroke-width="0.7"/>
<text x="36.6" y="304.75" font-size="6.3" text-anchor="end" fill="#111">3</text>
<line x1="38.6" y1="273.1" x2="41.3" y2="273.1" stroke="#333" stroke-width="0.7"/>
<text x="36.6" y="275.35" font-size="6.3" text-anchor="end" fill="#111">4</text>
<line x1="38.6" y1="243.7" x2="41.3" y2="243.7" stroke="#333" stroke-width="0.7"/>
<text x="36.6" y="245.95" font-size="6.3" text-anchor="end" fill="#111">5</text>
<line x1="38.6" y1="214.3" x2="41.3" y2="214.3" stroke="#333" stroke-width="0.7"/>
<text x="36.6" y="216.55" font-size="6.3" text-anchor="end" fill="#111">6</text>
<line x1="72.6" y1="336.1" x2="72.6" y2="338.6" stroke="#333" stroke-width="0.7"/>
<line x1="125.4" y1="336.1" x2="125.4" y2="338.6" stroke="#333" stroke-width="0.7"/>
<text x="72.6" y="345.5" font-size="6.5" text-anchor="middle" fill="#222">Normal</text>
<text x="125.4" y="345.5" font-size="6.5" text-anchor="middle" fill="#222">Tumor</text>
<path d="M72.6 214V211.6H125.4V214" stroke="#222" stroke-width="0.8" fill="none"/>
<text x="99" y="212.4" font-size="6" font-weight="bold" text-anchor="middle" fill="#111" textLength="7" lengthAdjust="spacingAndGlyphs">***</text>
<text x="19.4" y="270.8" font-size="7" text-anchor="middle" fill="#111" transform="rotate(-90 19.4 270.8)" textLength="78.4" lengthAdjust="spacingAndGlyphs">The expression of RABIF</text>
<text x="25.5" y="270.8" font-size="6.85" text-anchor="middle" fill="#111" transform="rotate(-90 25.5 270.8)" textLength="44" lengthAdjust="spacingAndGlyphs">Log<tspan font-size="4.79" dy="1.51">2</tspan><tspan dy="-1.51"> (TPM+1)</tspan></text>
<text x="170.8" y="202.4" font-size="14.6">F</text>
<path d="M229.28 313.96h1.7v1.7h-1.7zM224.31 306.22h1.7v1.7h-1.7zM234.84 305.88h1.7v1.7h-1.7zM226.4 306.91h1.7v1.7h-1.7zM229.39 318.13h1.7v1.7h-1.7zM221.31 300.3h1.7v1.7h-1.7zM234.1 307.75h1.7v1.7h-1.7zM221.5 308.05h1.7v1.7h-1.7zM226.15 306.98h1.7v1.7h-1.7zM234.02 306.82h1.7v1.7h-1.7zM234.97 303.09h1.7v1.7h-1.7zM234.31 312.95h1.7v1.7h-1.7zM233.09 310.95h1.7v1.7h-1.7zM223.58 303.77h1.7v1.7h-1.7zM220.36 304.62h1.7v1.7h-1.7zM227.08 307.69h1.7v1.7h-1.7zM220.86 308.85h1.7v1.7h-1.7zM235.22 310.38h1.7v1.7h-1.7zM219.98 305.82h1.7v1.7h-1.7zM225.06 298.54h1.7v1.7h-1.7zM223.1 311.7h1.7v1.7h-1.7zM220.07 296.53h1.7v1.7h-1.7zM227.84 300.52h1.7v1.7h-1.7zM221.07 308.14h1.7v1.7h-1.7zM234.25 300.88h1.7v1.7h-1.7zM230.85 314.09h1.7v1.7h-1.7zM225.77 315.65h1.7v1.7h-1.7zM233.32 313.06h1.7v1.7h-1.7zM232.6 307.89h1.7v1.7h-1.7zM225.07 307.39h1.7v1.7h-1.7zM233.41 308.5h1.7v1.7h-1.7zM234.72 304.89h1.7v1.7h-1.7zM229.77 318.02h1.7v1.7h-1.7zM225.48 302.57h1.7v1.7h-1.7zM234.26 313.82h1.7v1.7h-1.7zM234.94 309.36h1.7v1.7h-1.7zM225.41 307.9h1.7v1.7h-1.7zM221.23 312.27h1.7v1.7h-1.7zM233.73 313.53h1.7v1.7h-1.7zM230.49 311.39h1.7v1.7h-1.7zM223.56 305.55h1.7v1.7h-1.7zM228.92 302.01h1.7v1.7h-1.7zM224.78 302.16h1.7v1.7h-1.7zM234.56 311.32h1.7v1.7h-1.7zM225.32 310.13h1.7v1.7h-1.7zM222.99 310.89h1.7v1.7h-1.7zM220.54 302.83h1.7v1.7h-1.7zM225.33 317.45h1.7v1.7h-1.7zM235.68 298.2h1.7v1.7h-1.7zM223.34 308.33h1.7v1.7h-1.7zM227.18 310.08h1.7v1.7h-1.7zM235.4 303.48h1.7v1.7h-1.7zM219.96 320.39h1.7v1.7h-1.7zM224.57 285.14h1.7v1.7h-1.7z" fill="#5CC4D6"/>
<path d="M256.21 265.73h1.7v1.7h-1.7zM249.42 252.12h1.7v1.7h-1.7zM254.73 269.96h1.7v1.7h-1.7zM247.02 293.05h1.7v1.7h-1.7zM250.65 271.52h1.7v1.7h-1.7zM257.45 257.9h1.7v1.7h-1.7zM251.73 283.24h1.7v1.7h-1.7zM250.35 287.04h1.7v1.7h-1.7zM254.56 262.77h1.7v1.7h-1.7zM247.44 274.65h1.7v1.7h-1.7zM255.22 291.5h1.7v1.7h-1.7zM243.03 281.7h1.7v1.7h-1.7zM246.32 286.8h1.7v1.7h-1.7zM245.41 272.53h1.7v1.7h-1.7zM246.61 275.06h1.7v1.7h-1.7zM256.93 260.95h1.7v1.7h-1.7zM243.11 266.93h1.7v1.7h-1.7zM247.23 297.75h1.7v1.7h-1.7zM251.37 271.03h1.7v1.7h-1.7zM253.3 264.39h1.7v1.7h-1.7zM254.36 270.37h1.7v1.7h-1.7zM248.5 262.58h1.7v1.7h-1.7zM246.05 284h1.7v1.7h-1.7zM255.54 289.44h1.7v1.7h-1.7zM244.58 263.94h1.7v1.7h-1.7zM243.73 291h1.7v1.7h-1.7zM246.22 305.83h1.7v1.7h-1.7zM250.14 262.65h1.7v1.7h-1.7zM256.88 286.37h1.7v1.7h-1.7zM253.68 280.7h1.7v1.7h-1.7zM251.21 295.51h1.7v1.7h-1.7zM250.57 294.52h1.7v1.7h-1.7zM253.15 292.23h1.7v1.7h-1.7zM252.15 281.44h1.7v1.7h-1.7zM247.79 271.53h1.7v1.7h-1.7zM244.14 307.71h1.7v1.7h-1.7zM245.76 266.35h1.7v1.7h-1.7zM254.49 292.58h1.7v1.7h-1.7zM252.27 291.01h1.7v1.7h-1.7zM254.71 267.36h1.7v1.7h-1.7zM243.42 277.56h1.7v1.7h-1.7zM256.26 297.38h1.7v1.7h-1.7zM248.48 251.54h1.7v1.7h-1.7zM256.64 288.22h1.7v1.7h-1.7zM251.67 273.2h1.7v1.7h-1.7zM250.96 273.84h1.7v1.7h-1.7zM255.02 257.41h1.7v1.7h-1.7zM252.13 282.73h1.7v1.7h-1.7zM252.87 262.88h1.7v1.7h-1.7zM245.11 286.61h1.7v1.7h-1.7zM251.82 261.33h1.7v1.7h-1.7zM248.1 286.9h1.7v1.7h-1.7zM243.88 281.46h1.7v1.7h-1.7zM244.75 250.84h1.7v1.7h-1.7zM249.95 272.25h1.7v1.7h-1.7zM246.69 275.06h1.7v1.7h-1.7zM254.23 246.15h1.7v1.7h-1.7zM244.59 271.65h1.7v1.7h-1.7zM242.96 287.62h1.7v1.7h-1.7zM257.7 266.59h1.7v1.7h-1.7zM247.44 292.57h1.7v1.7h-1.7zM250.4 261.25h1.7v1.7h-1.7zM245.9 260.2h1.7v1.7h-1.7zM245.88 284.32h1.7v1.7h-1.7zM248.78 285.06h1.7v1.7h-1.7zM254.6 274.16h1.7v1.7h-1.7zM243.34 276.36h1.7v1.7h-1.7zM255.31 289.81h1.7v1.7h-1.7zM257.6 268.85h1.7v1.7h-1.7zM251.14 304.24h1.7v1.7h-1.7zM248.15 282.42h1.7v1.7h-1.7zM246.26 282.03h1.7v1.7h-1.7zM245.49 280.26h1.7v1.7h-1.7zM247.6 272.38h1.7v1.7h-1.7zM255.52 293.2h1.7v1.7h-1.7zM242.8 268.57h1.7v1.7h-1.7zM254.54 278.99h1.7v1.7h-1.7zM252.76 285.37h1.7v1.7h-1.7zM243.04 295.08h1.7v1.7h-1.7zM243.79 292.59h1.7v1.7h-1.7zM253.78 271.66h1.7v1.7h-1.7zM252.85 289.62h1.7v1.7h-1.7zM247.45 275.68h1.7v1.7h-1.7zM255.67 262.15h1.7v1.7h-1.7zM245.9 262.55h1.7v1.7h-1.7zM249.15 255.39h1.7v1.7h-1.7zM244.48 280.57h1.7v1.7h-1.7zM252.44 291.26h1.7v1.7h-1.7zM244.06 262.71h1.7v1.7h-1.7zM245.44 272.35h1.7v1.7h-1.7zM254.25 261.31h1.7v1.7h-1.7zM250.25 276.4h1.7v1.7h-1.7zM252.68 260.34h1.7v1.7h-1.7zM253.76 265.07h1.7v1.7h-1.7zM251.85 266.84h1.7v1.7h-1.7zM245.72 269.72h1.7v1.7h-1.7zM253.23 271.16h1.7v1.7h-1.7zM244.49 273.39h1.7v1.7h-1.7zM246.8 273.49h1.7v1.7h-1.7zM249.47 263.12h1.7v1.7h-1.7zM244.47 283.49h1.7v1.7h-1.7zM244.34 253.01h1.7v1.7h-1.7zM252.53 277.99h1.7v1.7h-1.7zM253.88 263.19h1.7v1.7h-1.7zM248.31 277.77h1.7v1.7h-1.7zM248.6 279.89h1.7v1.7h-1.7zM245.86 248.99h1.7v1.7h-1.7zM250.57 280.74h1.7v1.7h-1.7zM251.46 293.87h1.7v1.7h-1.7zM256.75 286.23h1.7v1.7h-1.7zM243.36 280.85h1.7v1.7h-1.7zM256.38 247.33h1.7v1.7h-1.7zM257.61 273.75h1.7v1.7h-1.7zM247.94 263.88h1.7v1.7h-1.7zM253.64 290.13h1.7v1.7h-1.7zM255.12 271.77h1.7v1.7h-1.7zM252.52 267.44h1.7v1.7h-1.7zM247.08 252.12h1.7v1.7h-1.7zM252.09 285.99h1.7v1.7h-1.7zM255.9 268.37h1.7v1.7h-1.7zM244.36 272.45h1.7v1.7h-1.7zM249.95 290.4h1.7v1.7h-1.7zM243.09 276.81h1.7v1.7h-1.7zM255.42 280.12h1.7v1.7h-1.7zM254.43 308.08h1.7v1.7h-1.7zM243.44 268.43h1.7v1.7h-1.7zM253.94 269.22h1.7v1.7h-1.7zM253.12 282.5h1.7v1.7h-1.7zM244.64 294.7h1.7v1.7h-1.7zM250.63 256.48h1.7v1.7h-1.7zM253.09 272.94h1.7v1.7h-1.7zM247.78 262.76h1.7v1.7h-1.7zM250.31 257.43h1.7v1.7h-1.7zM257.39 283.61h1.7v1.7h-1.7zM252.29 265.54h1.7v1.7h-1.7zM250.28 279.82h1.7v1.7h-1.7zM243.74 277.4h1.7v1.7h-1.7zM244.57 277.71h1.7v1.7h-1.7zM255.51 276.57h1.7v1.7h-1.7zM253.89 261.44h1.7v1.7h-1.7zM255.28 274.87h1.7v1.7h-1.7zM251.42 278.63h1.7v1.7h-1.7zM251.39 280.3h1.7v1.7h-1.7zM250.71 271.92h1.7v1.7h-1.7zM253.78 288.68h1.7v1.7h-1.7zM247.7 283.37h1.7v1.7h-1.7zM250.2 277.26h1.7v1.7h-1.7zM249.8 284.22h1.7v1.7h-1.7zM252.67 278.16h1.7v1.7h-1.7zM245.99 284.83h1.7v1.7h-1.7zM243.13 249.38h1.7v1.7h-1.7zM244.08 258.53h1.7v1.7h-1.7zM245.44 270.45h1.7v1.7h-1.7zM255.61 277.28h1.7v1.7h-1.7zM253.5 246.84h1.7v1.7h-1.7zM254 272.17h1.7v1.7h-1.7zM249.41 277.73h1.7v1.7h-1.7zM244.29 272.44h1.7v1.7h-1.7zM249.73 272.4h1.7v1.7h-1.7zM255.69 257.43h1.7v1.7h-1.7zM250.39 276.81h1.7v1.7h-1.7zM252.23 248.08h1.7v1.7h-1.7zM248.36 288.51h1.7v1.7h-1.7zM245 267.14h1.7v1.7h-1.7zM252.15 290.13h1.7v1.7h-1.7zM250.02 251.91h1.7v1.7h-1.7zM247.93 281.03h1.7v1.7h-1.7zM246.63 277.34h1.7v1.7h-1.7zM253.19 264.02h1.7v1.7h-1.7zM247.52 259.53h1.7v1.7h-1.7zM251.39 291.63h1.7v1.7h-1.7zM246.65 281.24h1.7v1.7h-1.7zM254.05 295.47h1.7v1.7h-1.7zM248.37 274.69h1.7v1.7h-1.7zM249.93 277.92h1.7v1.7h-1.7zM256.66 317.68h1.7v1.7h-1.7zM253.53 241.52h1.7v1.7h-1.7z" fill="#E4473A"/>
<path d="M271.02 291.45h1.7v1.7h-1.7zM273.88 255.62h1.7v1.7h-1.7zM268.26 258.66h1.7v1.7h-1.7zM274.97 273.33h1.7v1.7h-1.7zM275.57 282.76h1.7v1.7h-1.7zM275.97 275.2h1.7v1.7h-1.7zM272.33 265.41h1.7v1.7h-1.7zM279.51 261.62h1.7v1.7h-1.7zM277.94 268.01h1.7v1.7h-1.7zM273.54 258.13h1.7v1.7h-1.7zM275.19 279.84h1.7v1.7h-1.7zM269.07 268.74h1.7v1.7h-1.7zM279.1 294.01h1.7v1.7h-1.7zM274.63 261.33h1.7v1.7h-1.7zM278.37 269.88h1.7v1.7h-1.7zM269.28 277.85h1.7v1.7h-1.7zM279.69 255.75h1.7v1.7h-1.7zM266.53 262.34h1.7v1.7h-1.7zM272.91 271.47h1.7v1.7h-1.7zM266.61 292.42h1.7v1.7h-1.7zM267.8 257.08h1.7v1.7h-1.7zM276.41 237.15h1.7v1.7h-1.7zM265.94 279.3h1.7v1.7h-1.7zM270.69 270.98h1.7v1.7h-1.7zM267.82 275.55h1.7v1.7h-1.7zM277.7 267.11h1.7v1.7h-1.7zM266.19 263h1.7v1.7h-1.7zM270 253.99h1.7v1.7h-1.7zM277.79 285.87h1.7v1.7h-1.7zM275.25 250.01h1.7v1.7h-1.7zM275.5 285.08h1.7v1.7h-1.7zM279.82 268.15h1.7v1.7h-1.7zM265.3 255.8h1.7v1.7h-1.7zM274.92 262.04h1.7v1.7h-1.7zM276.12 285.18h1.7v1.7h-1.7zM276.17 281.87h1.7v1.7h-1.7zM275.66 278.51h1.7v1.7h-1.7zM266.03 272.75h1.7v1.7h-1.7zM266.21 255.96h1.7v1.7h-1.7zM276.54 290.13h1.7v1.7h-1.7zM274.13 265.49h1.7v1.7h-1.7zM268.89 263.48h1.7v1.7h-1.7zM265.09 264.21h1.7v1.7h-1.7zM272.95 265.5h1.7v1.7h-1.7zM266.31 250.76h1.7v1.7h-1.7zM276.18 265.19h1.7v1.7h-1.7zM270.06 260.02h1.7v1.7h-1.7zM277.06 264.13h1.7v1.7h-1.7zM266.38 246.9h1.7v1.7h-1.7zM272.36 298.65h1.7v1.7h-1.7zM266.45 254.07h1.7v1.7h-1.7zM276.66 275.69h1.7v1.7h-1.7zM273.35 275.96h1.7v1.7h-1.7zM268.47 285.61h1.7v1.7h-1.7zM279.39 298.21h1.7v1.7h-1.7zM275.18 277.38h1.7v1.7h-1.7zM270 281.66h1.7v1.7h-1.7zM277.78 265.11h1.7v1.7h-1.7zM270.65 292.66h1.7v1.7h-1.7zM279.09 251.97h1.7v1.7h-1.7zM269.41 268.22h1.7v1.7h-1.7zM279.72 275.5h1.7v1.7h-1.7zM265.89 281.97h1.7v1.7h-1.7zM275.97 283.06h1.7v1.7h-1.7zM269.32 287.86h1.7v1.7h-1.7zM271.31 279.66h1.7v1.7h-1.7zM274.49 271.95h1.7v1.7h-1.7zM265.64 274.52h1.7v1.7h-1.7zM268.3 291.85h1.7v1.7h-1.7zM266.51 275.75h1.7v1.7h-1.7zM276.04 284.55h1.7v1.7h-1.7zM268.27 269.79h1.7v1.7h-1.7zM272.42 245.9h1.7v1.7h-1.7zM269.88 263.27h1.7v1.7h-1.7zM268.49 276.42h1.7v1.7h-1.7zM278.98 294.8h1.7v1.7h-1.7zM272.56 291.85h1.7v1.7h-1.7zM274.71 295.66h1.7v1.7h-1.7zM275.52 261.86h1.7v1.7h-1.7zM277.27 282.75h1.7v1.7h-1.7zM268.9 271.15h1.7v1.7h-1.7zM266.13 280.75h1.7v1.7h-1.7zM271.96 270.75h1.7v1.7h-1.7zM267.5 252.39h1.7v1.7h-1.7zM265.26 281.63h1.7v1.7h-1.7zM278.75 306.83h1.7v1.7h-1.7zM274.35 235.87h1.7v1.7h-1.7z" fill="#30AE80"/>
<path d="M290.85 276.24h1.7v1.7h-1.7zM300.31 271.21h1.7v1.7h-1.7zM301.04 274.73h1.7v1.7h-1.7zM292.76 280.56h1.7v1.7h-1.7zM300.37 277.43h1.7v1.7h-1.7zM292.97 263.9h1.7v1.7h-1.7zM293.97 265.11h1.7v1.7h-1.7zM295.75 257.59h1.7v1.7h-1.7zM290.57 292.6h1.7v1.7h-1.7zM291.26 277.33h1.7v1.7h-1.7zM291.25 277.58h1.7v1.7h-1.7zM291.15 270.69h1.7v1.7h-1.7zM294.98 278.02h1.7v1.7h-1.7zM288.76 278.74h1.7v1.7h-1.7zM298.96 263.51h1.7v1.7h-1.7zM289.87 270.62h1.7v1.7h-1.7zM293.91 286.42h1.7v1.7h-1.7zM296.88 257.02h1.7v1.7h-1.7zM289.32 260.99h1.7v1.7h-1.7zM293.39 279.45h1.7v1.7h-1.7zM295.7 262.94h1.7v1.7h-1.7zM295.5 281.35h1.7v1.7h-1.7zM300.64 259.48h1.7v1.7h-1.7zM299.03 275.27h1.7v1.7h-1.7zM289.06 282.14h1.7v1.7h-1.7zM299.75 277.09h1.7v1.7h-1.7zM295.5 281.71h1.7v1.7h-1.7zM297.42 270.45h1.7v1.7h-1.7zM289.65 270.65h1.7v1.7h-1.7zM294.33 272.29h1.7v1.7h-1.7zM297.75 279.25h1.7v1.7h-1.7zM299.21 271.62h1.7v1.7h-1.7zM299.34 294.99h1.7v1.7h-1.7zM290.51 269.84h1.7v1.7h-1.7zM299.74 259.42h1.7v1.7h-1.7zM295.78 269.49h1.7v1.7h-1.7zM297.28 277.28h1.7v1.7h-1.7zM300.02 274.82h1.7v1.7h-1.7zM293.33 274.27h1.7v1.7h-1.7zM301.04 279.16h1.7v1.7h-1.7zM300.47 279.57h1.7v1.7h-1.7zM299.37 283.57h1.7v1.7h-1.7zM292.95 258.74h1.7v1.7h-1.7zM295.17 272.89h1.7v1.7h-1.7zM289.85 261.47h1.7v1.7h-1.7zM298.64 275.65h1.7v1.7h-1.7zM300.61 271.86h1.7v1.7h-1.7zM289.66 274.71h1.7v1.7h-1.7zM298.42 267.27h1.7v1.7h-1.7zM297.66 262.99h1.7v1.7h-1.7zM287.8 269.89h1.7v1.7h-1.7zM301 280.63h1.7v1.7h-1.7zM294.44 281.87h1.7v1.7h-1.7zM291.29 253.21h1.7v1.7h-1.7zM287.7 276h1.7v1.7h-1.7zM298.98 276.13h1.7v1.7h-1.7zM292.32 255.49h1.7v1.7h-1.7zM294.95 259.92h1.7v1.7h-1.7zM290.17 266.43h1.7v1.7h-1.7zM296.35 277.4h1.7v1.7h-1.7zM293.21 245.05h1.7v1.7h-1.7zM299.35 268.09h1.7v1.7h-1.7zM297.24 266.28h1.7v1.7h-1.7zM298.08 274.72h1.7v1.7h-1.7zM291.02 289.33h1.7v1.7h-1.7zM288.21 288.39h1.7v1.7h-1.7zM300.45 267.93h1.7v1.7h-1.7zM301.28 268.1h1.7v1.7h-1.7zM296.9 275.53h1.7v1.7h-1.7zM301.08 286.48h1.7v1.7h-1.7zM297.84 289.65h1.7v1.7h-1.7zM296.34 276.56h1.7v1.7h-1.7zM293.54 289.82h1.7v1.7h-1.7zM292.58 262.14h1.7v1.7h-1.7zM294.6 259.16h1.7v1.7h-1.7zM290.59 262.39h1.7v1.7h-1.7zM293.67 279.68h1.7v1.7h-1.7zM294.86 282.95h1.7v1.7h-1.7zM287.72 279.7h1.7v1.7h-1.7zM293.15 274.79h1.7v1.7h-1.7zM291.52 261.33h1.7v1.7h-1.7zM296.76 265.52h1.7v1.7h-1.7zM299.43 265.79h1.7v1.7h-1.7zM296.47 270.2h1.7v1.7h-1.7zM297.21 264.94h1.7v1.7h-1.7zM296.46 304.8h1.7v1.7h-1.7zM291.09 239.71h1.7v1.7h-1.7z" fill="#3A58A4"/>
<path d="M316.4 241h1.6v1.6h-1.6zM314.9 261.6h1.6v1.6h-1.6zM314.4 260.7h1.6v1.6h-1.6zM322.4 280h1.6v1.6h-1.6zM323 288.8h1.6v1.6h-1.6z" fill="#F0806A"/>
<line x1="224.7" y1="305.88" x2="232.7" y2="305.88" stroke="#111" stroke-width="0.8"/>
<line x1="228.7" y1="304.28" x2="228.7" y2="307.48" stroke="#111" stroke-width="0.8"/>
<rect x="226.7" y="304.98" width="4" height="1.8" fill="#111" rx="0.8"/>
<line x1="247.1" y1="276.95" x2="255.1" y2="276.95" stroke="#111" stroke-width="0.8"/>
<line x1="251.1" y1="275.35" x2="251.1" y2="278.55" stroke="#111" stroke-width="0.8"/>
<rect x="249.1" y="276.05" width="4" height="1.8" fill="#111" rx="0.8"/>
<line x1="269.3" y1="272.65" x2="277.3" y2="272.65" stroke="#111" stroke-width="0.8"/>
<line x1="273.3" y1="271.05" x2="273.3" y2="274.25" stroke="#111" stroke-width="0.8"/>
<rect x="271.3" y="271.75" width="4" height="1.8" fill="#111" rx="0.8"/>
<line x1="291.6" y1="273.56" x2="299.6" y2="273.56" stroke="#111" stroke-width="0.8"/>
<line x1="295.6" y1="271.96" x2="295.6" y2="275.16" stroke="#111" stroke-width="0.8"/>
<rect x="293.6" y="272.66" width="4" height="1.8" fill="#111" rx="0.8"/>
<line x1="317.9" y1="259.5" x2="317.9" y2="275.5" stroke="#555" stroke-width="0.7"/>
<line x1="316.2" y1="259.5" x2="319.6" y2="259.5" stroke="#555" stroke-width="0.7"/>
<line x1="316.2" y1="275.5" x2="319.6" y2="275.5" stroke="#555" stroke-width="0.7"/>
<line x1="313.9" y1="267.2" x2="321.9" y2="267.2" stroke="#111" stroke-width="0.8"/>
<line x1="215.2" y1="205.8" x2="215.2" y2="327.4" stroke="#333" stroke-width="0.85"/>
<line x1="214.8" y1="327" x2="330.2" y2="327" stroke="#333" stroke-width="0.85"/>
<line x1="212.2" y1="322.6" x2="215.2" y2="322.6" stroke="#333" stroke-width="0.7"/>
<text x="210.7" y="324.85" font-size="6.3" text-anchor="end" fill="#111">2</text>
<line x1="212.2" y1="300" x2="215.2" y2="300" stroke="#333" stroke-width="0.7"/>
<text x="210.7" y="302.25" font-size="6.3" text-anchor="end" fill="#111">3</text>
<line x1="212.2" y1="277.4" x2="215.2" y2="277.4" stroke="#333" stroke-width="0.7"/>
<text x="210.7" y="279.65" font-size="6.3" text-anchor="end" fill="#111">4</text>
<line x1="212.2" y1="254.8" x2="215.2" y2="254.8" stroke="#333" stroke-width="0.7"/>
<text x="210.7" y="257.05" font-size="6.3" text-anchor="end" fill="#111">5</text>
<line x1="212.2" y1="232.2" x2="215.2" y2="232.2" stroke="#333" stroke-width="0.7"/>
<text x="210.7" y="234.45" font-size="6.3" text-anchor="end" fill="#111">6</text>
<line x1="212.2" y1="209.6" x2="215.2" y2="209.6" stroke="#333" stroke-width="0.7"/>
<text x="210.7" y="211.85" font-size="6.3" text-anchor="end" fill="#111">7</text>
<line x1="228.7" y1="326.8" x2="228.7" y2="329.3" stroke="#333" stroke-width="0.7"/>
<text x="228.7" y="336.7" font-size="6.3" text-anchor="middle" fill="#222">Normal</text>
<line x1="251.1" y1="326.8" x2="251.1" y2="329.3" stroke="#333" stroke-width="0.7"/>
<text x="251.1" y="336.7" font-size="6.3" text-anchor="middle" fill="#222">Stage I</text>
<line x1="273.3" y1="326.8" x2="273.3" y2="329.3" stroke="#333" stroke-width="0.7"/>
<text x="273.3" y="336.7" font-size="6.3" text-anchor="middle" fill="#222">Stage II</text>
<line x1="295.6" y1="326.8" x2="295.6" y2="329.3" stroke="#333" stroke-width="0.7"/>
<text x="295.6" y="336.7" font-size="6.3" text-anchor="middle" fill="#222">Stage III</text>
<line x1="317.9" y1="326.8" x2="317.9" y2="329.3" stroke="#333" stroke-width="0.7"/>
<text x="317.9" y="336.7" font-size="6.3" text-anchor="middle" fill="#222">Stage IV</text>
<text x="273.2" y="346.6" font-size="7.3" text-anchor="middle" fill="#222" textLength="53.5" lengthAdjust="spacingAndGlyphs">Pathologic stage</text>
<path d="M228.7 232.8V230.4H251.1V232.8" stroke="#222" stroke-width="0.8" fill="none"/>
<text x="239.9" y="231.3" font-size="5.6" font-weight="bold" text-anchor="middle" fill="#111" textLength="6.5" lengthAdjust="spacingAndGlyphs">***</text>
<path d="M228.7 226.8V224.4H273.3V226.8" stroke="#222" stroke-width="0.8" fill="none"/>
<text x="251" y="225.3" font-size="5.6" font-weight="bold" text-anchor="middle" fill="#111" textLength="6.5" lengthAdjust="spacingAndGlyphs">***</text>
<path d="M228.7 220.4V218H295.6V220.4" stroke="#222" stroke-width="0.8" fill="none"/>
<text x="262.15" y="218.9" font-size="5.6" font-weight="bold" text-anchor="middle" fill="#111" textLength="6.5" lengthAdjust="spacingAndGlyphs">***</text>
<path d="M228.7 213.9V211.5H317.9V213.9" stroke="#222" stroke-width="0.8" fill="none"/>
<text x="273.3" y="212.4" font-size="5.6" font-weight="bold" text-anchor="middle" fill="#111" textLength="2.2" lengthAdjust="spacingAndGlyphs">*</text>
<text x="193.3" y="266.5" font-size="7.25" text-anchor="middle" fill="#111" transform="rotate(-90 193.3 266.5)" textLength="81" lengthAdjust="spacingAndGlyphs">The expression of RABIF</text>
<text x="199.7" y="266.5" font-size="7.2" text-anchor="middle" fill="#111" transform="rotate(-90 199.7 266.5)" textLength="46.7" lengthAdjust="spacingAndGlyphs">Log<tspan font-size="5.04" dy="1.58">2</tspan><tspan dy="-1.58"> (TPM+1)</tspan></text>
<text x="354.2" y="203.7" font-size="14.6">G</text>
<text x="468.6" y="193.2" font-size="9.1" text-anchor="middle" fill="#222" textLength="44.4" lengthAdjust="spacingAndGlyphs">GSE14520</text>
<path d="M458.16 307.65h1.3v1.3h-1.3zM457.28 304.56h1.3v1.3h-1.3zM458.84 303.88h1.3v1.3h-1.3zM458.17 297.81h1.3v1.3h-1.3zM457.13 296.85h1.3v1.3h-1.3zM459.19 296.25h1.3v1.3h-1.3zM457.51 294.74h1.3v1.3h-1.3zM458.66 294.56h1.3v1.3h-1.3zM457.54 293.65h1.3v1.3h-1.3zM458.92 292.63h1.3v1.3h-1.3zM455.26 291.67h1.3v1.3h-1.3zM456.79 291.66h1.3v1.3h-1.3zM458.44 291.58h1.3v1.3h-1.3zM459.42 291.17h1.3v1.3h-1.3zM461.45 291.11h1.3v1.3h-1.3zM455.14 290.91h1.3v1.3h-1.3zM456.47 290.6h1.3v1.3h-1.3zM458.07 290.3h1.3v1.3h-1.3zM459.57 290.06h1.3v1.3h-1.3zM461.39 289.71h1.3v1.3h-1.3zM453.66 289.58h1.3v1.3h-1.3zM454.89 289.52h1.3v1.3h-1.3zM456.78 288.76h1.3v1.3h-1.3zM458.15 288.55h1.3v1.3h-1.3zM459.84 288.37h1.3v1.3h-1.3zM460.88 288.33h1.3v1.3h-1.3zM462.87 288.29h1.3v1.3h-1.3zM452.39 288.05h1.3v1.3h-1.3zM453.35 288.03h1.3v1.3h-1.3zM455.14 287.98h1.3v1.3h-1.3zM456.42 287.51h1.3v1.3h-1.3zM458.17 287.5h1.3v1.3h-1.3zM459.4 287.26h1.3v1.3h-1.3zM461.38 286.98h1.3v1.3h-1.3zM462.46 286.92h1.3v1.3h-1.3zM464.25 286.75h1.3v1.3h-1.3zM455.99 285.98h1.3v1.3h-1.3zM457.29 285.45h1.3v1.3h-1.3zM458.73 285.36h1.3v1.3h-1.3zM460.65 285.1h1.3v1.3h-1.3zM451.12 284.93h1.3v1.3h-1.3zM452.75 284.86h1.3v1.3h-1.3zM454.3 284.8h1.3v1.3h-1.3zM455.95 284.54h1.3v1.3h-1.3zM457.32 284.39h1.3v1.3h-1.3zM458.67 284.28h1.3v1.3h-1.3zM460.44 284.26h1.3v1.3h-1.3zM462.03 284.18h1.3v1.3h-1.3zM463.52 283.96h1.3v1.3h-1.3zM464.89 283.68h1.3v1.3h-1.3zM451.28 283.28h1.3v1.3h-1.3zM452.61 282.96h1.3v1.3h-1.3zM454.42 282.96h1.3v1.3h-1.3zM455.98 282.82h1.3v1.3h-1.3zM457.36 282.81h1.3v1.3h-1.3zM459.18 282.81h1.3v1.3h-1.3zM460.22 282.75h1.3v1.3h-1.3zM462.09 282.59h1.3v1.3h-1.3zM463.53 282.47h1.3v1.3h-1.3zM465.14 282.15h1.3v1.3h-1.3zM450.15 282.07h1.3v1.3h-1.3zM451.24 281.97h1.3v1.3h-1.3zM453.15 281.73h1.3v1.3h-1.3zM454.34 281.71h1.3v1.3h-1.3zM456.01 281.44h1.3v1.3h-1.3zM457.67 281.21h1.3v1.3h-1.3zM458.96 281.17h1.3v1.3h-1.3zM460.45 281.16h1.3v1.3h-1.3zM461.64 281.1h1.3v1.3h-1.3zM463.46 281.05h1.3v1.3h-1.3zM464.74 280.64h1.3v1.3h-1.3zM466.33 280.61h1.3v1.3h-1.3zM452.83 280.59h1.3v1.3h-1.3zM454.68 280.35h1.3v1.3h-1.3zM455.98 280.24h1.3v1.3h-1.3zM457.53 280.2h1.3v1.3h-1.3zM458.7 280.14h1.3v1.3h-1.3zM460.28 279.78h1.3v1.3h-1.3zM462.13 279.23h1.3v1.3h-1.3zM463.17 279.14h1.3v1.3h-1.3zM450.92 279.1h1.3v1.3h-1.3zM452.11 278.89h1.3v1.3h-1.3zM453.58 278.88h1.3v1.3h-1.3zM455.16 278.52h1.3v1.3h-1.3zM456.62 278.33h1.3v1.3h-1.3zM458.13 278.08h1.3v1.3h-1.3zM459.6 277.97h1.3v1.3h-1.3zM461.27 277.92h1.3v1.3h-1.3zM462.52 277.85h1.3v1.3h-1.3zM463.95 277.83h1.3v1.3h-1.3zM465.61 277.68h1.3v1.3h-1.3zM446.9 277.4h1.3v1.3h-1.3zM447.62 277.31h1.3v1.3h-1.3zM449.15 277.29h1.3v1.3h-1.3zM450.82 277.28h1.3v1.3h-1.3zM451.92 277.14h1.3v1.3h-1.3zM453.59 277.12h1.3v1.3h-1.3zM455.32 277.06h1.3v1.3h-1.3zM456.55 276.84h1.3v1.3h-1.3zM458.35 276.79h1.3v1.3h-1.3zM459.78 276.57h1.3v1.3h-1.3zM460.88 276.46h1.3v1.3h-1.3zM462.58 276.45h1.3v1.3h-1.3zM464.31 276.39h1.3v1.3h-1.3zM465.67 276.38h1.3v1.3h-1.3zM467.25 276.36h1.3v1.3h-1.3zM468.94 276.32h1.3v1.3h-1.3zM469.26 276.16h1.3v1.3h-1.3zM450.68 276.04h1.3v1.3h-1.3zM452.36 275.93h1.3v1.3h-1.3zM453.61 275.48h1.3v1.3h-1.3zM454.86 275.42h1.3v1.3h-1.3zM456.51 275.39h1.3v1.3h-1.3zM458.21 275.37h1.3v1.3h-1.3zM459.92 275.27h1.3v1.3h-1.3zM461.21 275.23h1.3v1.3h-1.3zM462.52 274.86h1.3v1.3h-1.3zM464.45 274.86h1.3v1.3h-1.3zM465.59 274.79h1.3v1.3h-1.3zM446.99 274.48h1.3v1.3h-1.3zM447.18 274.37h1.3v1.3h-1.3zM447.06 274.16h1.3v1.3h-1.3zM448.17 274.08h1.3v1.3h-1.3zM450.03 274.03h1.3v1.3h-1.3zM451.51 274.03h1.3v1.3h-1.3zM453.18 273.99h1.3v1.3h-1.3zM454.18 273.97h1.3v1.3h-1.3zM456.15 273.89h1.3v1.3h-1.3zM457.58 273.85h1.3v1.3h-1.3zM458.75 273.75h1.3v1.3h-1.3zM460.39 273.65h1.3v1.3h-1.3zM461.98 273.57h1.3v1.3h-1.3zM463.29 273.53h1.3v1.3h-1.3zM464.66 273.5h1.3v1.3h-1.3zM466.6 273.49h1.3v1.3h-1.3zM467.7 273.44h1.3v1.3h-1.3zM469.14 273.31h1.3v1.3h-1.3zM469.11 273.31h1.3v1.3h-1.3zM469.39 273.27h1.3v1.3h-1.3zM447.69 272.97h1.3v1.3h-1.3zM449.1 272.93h1.3v1.3h-1.3zM450.94 272.86h1.3v1.3h-1.3zM452.06 272.85h1.3v1.3h-1.3zM453.79 272.81h1.3v1.3h-1.3zM454.99 272.81h1.3v1.3h-1.3zM456.8 272.72h1.3v1.3h-1.3zM458.3 272.67h1.3v1.3h-1.3zM459.85 272.49h1.3v1.3h-1.3zM461.14 272.33h1.3v1.3h-1.3zM462.48 272.2h1.3v1.3h-1.3zM464.23 271.98h1.3v1.3h-1.3zM465.9 271.91h1.3v1.3h-1.3zM467.04 271.85h1.3v1.3h-1.3zM468.36 271.64h1.3v1.3h-1.3zM450.46 271.46h1.3v1.3h-1.3zM452.41 271.2h1.3v1.3h-1.3zM453.35 271.04h1.3v1.3h-1.3zM454.88 271.02h1.3v1.3h-1.3zM456.41 271h1.3v1.3h-1.3zM458.39 270.96h1.3v1.3h-1.3zM459.58 270.9h1.3v1.3h-1.3zM461.26 270.68h1.3v1.3h-1.3zM462.77 270.19h1.3v1.3h-1.3zM464.11 270.18h1.3v1.3h-1.3zM465.79 270.13h1.3v1.3h-1.3zM451.38 270.02h1.3v1.3h-1.3zM452.93 269.84h1.3v1.3h-1.3zM454.28 269.58h1.3v1.3h-1.3zM455.6 269.49h1.3v1.3h-1.3zM457.46 269.43h1.3v1.3h-1.3zM458.76 269.05h1.3v1.3h-1.3zM460.27 268.98h1.3v1.3h-1.3zM462.13 268.97h1.3v1.3h-1.3zM463.32 268.94h1.3v1.3h-1.3zM464.66 268.87h1.3v1.3h-1.3zM449.23 268.57h1.3v1.3h-1.3zM450.67 268.36h1.3v1.3h-1.3zM451.88 268.35h1.3v1.3h-1.3zM453.56 268.23h1.3v1.3h-1.3zM455.22 268.04h1.3v1.3h-1.3zM456.52 267.94h1.3v1.3h-1.3zM458.44 267.86h1.3v1.3h-1.3zM459.83 267.79h1.3v1.3h-1.3zM461.15 267.68h1.3v1.3h-1.3zM462.9 267.42h1.3v1.3h-1.3zM463.87 267.42h1.3v1.3h-1.3zM465.48 267.26h1.3v1.3h-1.3zM467.4 267.26h1.3v1.3h-1.3zM455.16 266.9h1.3v1.3h-1.3zM456.45 266.82h1.3v1.3h-1.3zM458.19 266.4h1.3v1.3h-1.3zM459.79 266.08h1.3v1.3h-1.3zM461.21 265.6h1.3v1.3h-1.3zM457.13 265.31h1.3v1.3h-1.3zM458.62 264.51h1.3v1.3h-1.3zM455.09 264.07h1.3v1.3h-1.3zM456.36 263.84h1.3v1.3h-1.3zM457.9 263.57h1.3v1.3h-1.3zM459.74 263.49h1.3v1.3h-1.3zM461.11 262.84h1.3v1.3h-1.3zM455.65 262.32h1.3v1.3h-1.3zM457.63 262.27h1.3v1.3h-1.3zM458.82 262.11h1.3v1.3h-1.3zM460.63 261.4h1.3v1.3h-1.3zM456.72 261.01h1.3v1.3h-1.3zM458.22 260.47h1.3v1.3h-1.3zM459.6 260.06h1.3v1.3h-1.3zM456.75 259.02h1.3v1.3h-1.3zM458 258.4h1.3v1.3h-1.3zM459.5 258.22h1.3v1.3h-1.3zM458.37 257.61h1.3v1.3h-1.3zM457.22 256.14h1.3v1.3h-1.3zM458.83 255.54h1.3v1.3h-1.3zM458.3 253.79h1.3v1.3h-1.3zM458.05 251h1.3v1.3h-1.3zM458.07 249.11h1.3v1.3h-1.3zM458.4 247.22h1.3v1.3h-1.3zM457.97 245.33h1.3v1.3h-1.3zM457.99 243.44h1.3v1.3h-1.3zM458.38 241.56h1.3v1.3h-1.3z" fill="#2A2AE6"/>
<path d="M490.62 294.43h1.3v1.3h-1.3zM490.65 293.06h1.3v1.3h-1.3zM490.1 292.55h1.3v1.3h-1.3zM491.52 291.63h1.3v1.3h-1.3zM490.17 290.66h1.3v1.3h-1.3zM491.82 289.64h1.3v1.3h-1.3zM490.96 288.14h1.3v1.3h-1.3zM489.71 287.76h1.3v1.3h-1.3zM491.46 286.77h1.3v1.3h-1.3zM490.9 285.36h1.3v1.3h-1.3zM489.2 284.7h1.3v1.3h-1.3zM490.58 284.32h1.3v1.3h-1.3zM492.32 283.95h1.3v1.3h-1.3zM490.6 283.44h1.3v1.3h-1.3zM487.03 282.05h1.3v1.3h-1.3zM488.95 281.92h1.3v1.3h-1.3zM490.75 281.63h1.3v1.3h-1.3zM492.58 280.84h1.3v1.3h-1.3zM493.98 280.84h1.3v1.3h-1.3zM486.19 280.56h1.3v1.3h-1.3zM487.9 280.56h1.3v1.3h-1.3zM489.74 279.87h1.3v1.3h-1.3zM491.44 279.66h1.3v1.3h-1.3zM493.64 279.3h1.3v1.3h-1.3zM495.05 279.24h1.3v1.3h-1.3zM485.28 278.64h1.3v1.3h-1.3zM487.35 278.42h1.3v1.3h-1.3zM489.28 278.33h1.3v1.3h-1.3zM490.93 278.25h1.3v1.3h-1.3zM492.59 278.15h1.3v1.3h-1.3zM494.18 277.99h1.3v1.3h-1.3zM495.94 277.71h1.3v1.3h-1.3zM482.76 277.43h1.3v1.3h-1.3zM484.81 277.2h1.3v1.3h-1.3zM486.56 277.17h1.3v1.3h-1.3zM488.12 276.91h1.3v1.3h-1.3zM490.09 276.88h1.3v1.3h-1.3zM491.72 276.79h1.3v1.3h-1.3zM493.49 276.51h1.3v1.3h-1.3zM494.99 276.45h1.3v1.3h-1.3zM496.72 276.26h1.3v1.3h-1.3zM498.46 276.2h1.3v1.3h-1.3zM484.87 276.1h1.3v1.3h-1.3zM486.56 276.03h1.3v1.3h-1.3zM488.36 275.93h1.3v1.3h-1.3zM490.07 275.89h1.3v1.3h-1.3zM491.81 275.83h1.3v1.3h-1.3zM493.34 275.64h1.3v1.3h-1.3zM495.28 275.41h1.3v1.3h-1.3zM496.67 275.3h1.3v1.3h-1.3zM484.72 274.51h1.3v1.3h-1.3zM486.1 273.85h1.3v1.3h-1.3zM488.4 273.68h1.3v1.3h-1.3zM490.1 273.64h1.3v1.3h-1.3zM491.42 273.62h1.3v1.3h-1.3zM493.54 273.54h1.3v1.3h-1.3zM495.32 273.51h1.3v1.3h-1.3zM496.6 273.17h1.3v1.3h-1.3zM482.91 273.08h1.3v1.3h-1.3zM484.58 273.07h1.3v1.3h-1.3zM486.45 272.93h1.3v1.3h-1.3zM488.36 272.52h1.3v1.3h-1.3zM490.01 272.37h1.3v1.3h-1.3zM491.45 272.26h1.3v1.3h-1.3zM493.41 272.16h1.3v1.3h-1.3zM495.16 272.15h1.3v1.3h-1.3zM496.58 272.05h1.3v1.3h-1.3zM498.4 271.85h1.3v1.3h-1.3zM479.29 271.51h1.3v1.3h-1.3zM480.93 271.34h1.3v1.3h-1.3zM482.72 271.3h1.3v1.3h-1.3zM484.73 271.25h1.3v1.3h-1.3zM486.65 271.25h1.3v1.3h-1.3zM488.1 271.2h1.3v1.3h-1.3zM489.96 271.07h1.3v1.3h-1.3zM491.78 271.05h1.3v1.3h-1.3zM493.48 271.04h1.3v1.3h-1.3zM495.22 270.88h1.3v1.3h-1.3zM496.58 270.59h1.3v1.3h-1.3zM498.85 270.47h1.3v1.3h-1.3zM500.17 270.28h1.3v1.3h-1.3zM501.93 270.28h1.3v1.3h-1.3zM483.76 269.57h1.3v1.3h-1.3zM485.55 269.49h1.3v1.3h-1.3zM487.4 269.41h1.3v1.3h-1.3zM488.88 269.38h1.3v1.3h-1.3zM491.02 269.1h1.3v1.3h-1.3zM492.58 269.01h1.3v1.3h-1.3zM494.46 268.86h1.3v1.3h-1.3zM495.99 268.71h1.3v1.3h-1.3zM497.49 268.63h1.3v1.3h-1.3zM486.96 268.29h1.3v1.3h-1.3zM489.08 268.13h1.3v1.3h-1.3zM490.71 268.12h1.3v1.3h-1.3zM492.46 267.87h1.3v1.3h-1.3zM494.15 267.38h1.3v1.3h-1.3zM484.43 266.97h1.3v1.3h-1.3zM486.36 266.96h1.3v1.3h-1.3zM487.98 266.83h1.3v1.3h-1.3zM490.11 266.79h1.3v1.3h-1.3zM491.43 266.35h1.3v1.3h-1.3zM493.66 266.1h1.3v1.3h-1.3zM495.34 266.06h1.3v1.3h-1.3zM496.81 265.78h1.3v1.3h-1.3zM482.16 265.51h1.3v1.3h-1.3zM483.8 265.46h1.3v1.3h-1.3zM485.48 265.32h1.3v1.3h-1.3zM487.44 265.31h1.3v1.3h-1.3zM489.2 265.25h1.3v1.3h-1.3zM490.57 265.25h1.3v1.3h-1.3zM492.74 265.17h1.3v1.3h-1.3zM493.97 264.98h1.3v1.3h-1.3zM495.7 264.73h1.3v1.3h-1.3zM497.74 264.32h1.3v1.3h-1.3zM499.38 264.2h1.3v1.3h-1.3zM484.58 264.08h1.3v1.3h-1.3zM486.36 263.69h1.3v1.3h-1.3zM488.11 263.63h1.3v1.3h-1.3zM490.12 263.53h1.3v1.3h-1.3zM491.88 263.23h1.3v1.3h-1.3zM493.28 263.17h1.3v1.3h-1.3zM495 263.12h1.3v1.3h-1.3zM496.97 262.97h1.3v1.3h-1.3zM485.32 262.39h1.3v1.3h-1.3zM487.19 262.19h1.3v1.3h-1.3zM489.13 261.78h1.3v1.3h-1.3zM490.45 261.73h1.3v1.3h-1.3zM492.66 261.63h1.3v1.3h-1.3zM494.39 261.52h1.3v1.3h-1.3zM495.93 261.3h1.3v1.3h-1.3zM486.22 260.76h1.3v1.3h-1.3zM488.15 260.75h1.3v1.3h-1.3zM489.75 260.55h1.3v1.3h-1.3zM491.82 260.25h1.3v1.3h-1.3zM493.43 260.24h1.3v1.3h-1.3zM495.01 260.16h1.3v1.3h-1.3zM484.81 259.52h1.3v1.3h-1.3zM486.44 259.36h1.3v1.3h-1.3zM487.9 259.33h1.3v1.3h-1.3zM489.82 259.3h1.3v1.3h-1.3zM491.62 258.83h1.3v1.3h-1.3zM493.64 258.83h1.3v1.3h-1.3zM495.02 258.71h1.3v1.3h-1.3zM496.84 258.46h1.3v1.3h-1.3zM486.66 257.94h1.3v1.3h-1.3zM488.08 257.67h1.3v1.3h-1.3zM490.07 257.49h1.3v1.3h-1.3zM491.38 257.45h1.3v1.3h-1.3zM493.31 257.17h1.3v1.3h-1.3zM494.94 257.16h1.3v1.3h-1.3zM486.61 256.16h1.3v1.3h-1.3zM488.16 256.05h1.3v1.3h-1.3zM489.71 256.03h1.3v1.3h-1.3zM491.38 255.78h1.3v1.3h-1.3zM493.33 255.55h1.3v1.3h-1.3zM494.88 255.51h1.3v1.3h-1.3zM481.12 255.04h1.3v1.3h-1.3zM483.01 254.92h1.3v1.3h-1.3zM484.51 254.88h1.3v1.3h-1.3zM486.18 254.83h1.3v1.3h-1.3zM488.04 254.76h1.3v1.3h-1.3zM489.67 254.69h1.3v1.3h-1.3zM491.83 254.24h1.3v1.3h-1.3zM493.13 254.15h1.3v1.3h-1.3zM495.27 254.09h1.3v1.3h-1.3zM496.78 254.01h1.3v1.3h-1.3zM498.76 253.96h1.3v1.3h-1.3zM500.54 253.84h1.3v1.3h-1.3zM484.41 253.22h1.3v1.3h-1.3zM486.53 253.12h1.3v1.3h-1.3zM488.39 253.07h1.3v1.3h-1.3zM489.92 252.76h1.3v1.3h-1.3zM491.71 252.62h1.3v1.3h-1.3zM493.27 252.5h1.3v1.3h-1.3zM494.93 252.25h1.3v1.3h-1.3zM497.02 252.15h1.3v1.3h-1.3zM486.57 251.96h1.3v1.3h-1.3zM487.95 251.76h1.3v1.3h-1.3zM489.64 251.55h1.3v1.3h-1.3zM491.54 251.32h1.3v1.3h-1.3zM493.45 251.22h1.3v1.3h-1.3zM495.04 251.07h1.3v1.3h-1.3zM486.65 250.52h1.3v1.3h-1.3zM488.3 250.35h1.3v1.3h-1.3zM490.12 250.31h1.3v1.3h-1.3zM491.68 250.2h1.3v1.3h-1.3zM493.53 249.4h1.3v1.3h-1.3zM495.4 249.31h1.3v1.3h-1.3zM483.47 249.08h1.3v1.3h-1.3zM485.54 248.91h1.3v1.3h-1.3zM487.06 248.88h1.3v1.3h-1.3zM489.18 248.41h1.3v1.3h-1.3zM490.59 248.38h1.3v1.3h-1.3zM492.64 248.32h1.3v1.3h-1.3zM494.15 248.13h1.3v1.3h-1.3zM496.09 247.93h1.3v1.3h-1.3zM497.86 247.63h1.3v1.3h-1.3zM487.5 247.45h1.3v1.3h-1.3zM489.22 247h1.3v1.3h-1.3zM490.71 246.91h1.3v1.3h-1.3zM492.61 246.47h1.3v1.3h-1.3zM494.06 246.23h1.3v1.3h-1.3zM488.76 246.08h1.3v1.3h-1.3zM490.88 245.74h1.3v1.3h-1.3zM492.74 244.88h1.3v1.3h-1.3zM489.15 243.97h1.3v1.3h-1.3zM490.76 243.6h1.3v1.3h-1.3zM492.58 243.32h1.3v1.3h-1.3zM490.01 242.24h1.3v1.3h-1.3zM491.67 241.96h1.3v1.3h-1.3zM488.92 241.09h1.3v1.3h-1.3zM490.96 241.06h1.3v1.3h-1.3zM492.42 240.32h1.3v1.3h-1.3zM490.99 239h1.3v1.3h-1.3zM490.05 238.36h1.3v1.3h-1.3zM491.8 238.24h1.3v1.3h-1.3zM490.08 236.73h1.3v1.3h-1.3zM491.92 236.47h1.3v1.3h-1.3zM490.17 235.27h1.3v1.3h-1.3zM491.63 234.93h1.3v1.3h-1.3zM490.68 231.29h1.3v1.3h-1.3zM490.89 228.34h1.3v1.3h-1.3zM491.03 226.45h1.3v1.3h-1.3zM490.83 224.56h1.3v1.3h-1.3zM490.47 222.67h1.3v1.3h-1.3z" fill="#F03C3C"/>
<line x1="448" y1="278.5" x2="469.5" y2="278.5" stroke="#000" stroke-width="0.9"/>
<line x1="480" y1="263.5" x2="503" y2="263.5" stroke="#000" stroke-width="0.9"/>
<line x1="437.3" y1="211.5" x2="437.3" y2="325.9" stroke="#000" stroke-width="1.2"/>
<line x1="436.7" y1="325.3" x2="513.3" y2="325.3" stroke="#000" stroke-width="1.2"/>
<line x1="432.8" y1="325.3" x2="437.3" y2="325.3" stroke="#000" stroke-width="1.1"/>
<text x="431" y="328.2" font-size="8.1" font-weight="bold" text-anchor="end">3.5</text>
<line x1="432.8" y1="306.42" x2="437.3" y2="306.42" stroke="#000" stroke-width="1.1"/>
<text x="431" y="309.31" font-size="8.1" font-weight="bold" text-anchor="end">4.0</text>
<line x1="432.8" y1="287.53" x2="437.3" y2="287.53" stroke="#000" stroke-width="1.1"/>
<text x="431" y="290.43" font-size="8.1" font-weight="bold" text-anchor="end">4.5</text>
<line x1="432.8" y1="268.64" x2="437.3" y2="268.64" stroke="#000" stroke-width="1.1"/>
<text x="431" y="271.54" font-size="8.1" font-weight="bold" text-anchor="end">5.0</text>
<line x1="432.8" y1="249.76" x2="437.3" y2="249.76" stroke="#000" stroke-width="1.1"/>
<text x="431" y="252.66" font-size="8.1" font-weight="bold" text-anchor="end">5.5</text>
<line x1="432.8" y1="230.88" x2="437.3" y2="230.88" stroke="#000" stroke-width="1.1"/>
<text x="431" y="233.78" font-size="8.1" font-weight="bold" text-anchor="end">6.0</text>
<line x1="432.8" y1="211.99" x2="437.3" y2="211.99" stroke="#000" stroke-width="1.1"/>
<text x="431" y="214.89" font-size="8.1" font-weight="bold" text-anchor="end">6.5</text>
<line x1="458.8" y1="325.3" x2="458.8" y2="329" stroke="#000" stroke-width="1.1"/>
<line x1="491.4" y1="325.3" x2="491.4" y2="329" stroke="#000" stroke-width="1.1"/>
<path d="M458.8 217.8V211.3H491.4V217.8" stroke="#000" stroke-width="1.1" fill="none"/>
<text x="475.1" y="208.4" font-size="9.5" font-weight="bold" text-anchor="middle" textLength="26.2" lengthAdjust="spacingAndGlyphs">****</text>
<text x="412.6" y="268.3" font-size="8.8" font-weight="bold" text-anchor="middle" transform="rotate(-90 412.6 268.3)" textLength="115.4" lengthAdjust="spacingAndGlyphs">Relative RABIF expression</text>
<text x="462.2" y="336.9" font-size="8.8" font-weight="bold" text-anchor="end" transform="rotate(-45 462.2 336.9)">Normal (n=220)</text>
<text x="494.4" y="337.6" font-size="8.8" font-weight="bold" text-anchor="end" transform="rotate(-45 494.4 337.6)">Tumor (n=225)</text>
<text x="629" y="194.6" font-size="9.1" text-anchor="middle" fill="#222" textLength="44.4" lengthAdjust="spacingAndGlyphs">GSE36376</text>
<path d="M616.56 303.17h1.3v1.3h-1.3zM616.39 301.83h1.3v1.3h-1.3zM616.27 298.78h1.3v1.3h-1.3zM616.44 297.62h1.3v1.3h-1.3zM614.3 297.04h1.3v1.3h-1.3zM615.45 296.54h1.3v1.3h-1.3zM617.2 296.14h1.3v1.3h-1.3zM618.73 295.78h1.3v1.3h-1.3zM614.03 294.71h1.3v1.3h-1.3zM615.39 294.48h1.3v1.3h-1.3zM617.16 294.46h1.3v1.3h-1.3zM618.43 294.16h1.3v1.3h-1.3zM615.52 293.5h1.3v1.3h-1.3zM617.13 292.77h1.3v1.3h-1.3zM615.13 292.13h1.3v1.3h-1.3zM616.14 291.99h1.3v1.3h-1.3zM617.59 291.1h1.3v1.3h-1.3zM614.87 290.56h1.3v1.3h-1.3zM616.62 290.54h1.3v1.3h-1.3zM617.58 289.9h1.3v1.3h-1.3zM608.94 289.27h1.3v1.3h-1.3zM610.07 289.21h1.3v1.3h-1.3zM611.88 289.1h1.3v1.3h-1.3zM613.12 288.92h1.3v1.3h-1.3zM614.95 288.88h1.3v1.3h-1.3zM616.27 288.82h1.3v1.3h-1.3zM617.94 288.73h1.3v1.3h-1.3zM619.2 288.38h1.3v1.3h-1.3zM620.59 288.37h1.3v1.3h-1.3zM622.16 288.35h1.3v1.3h-1.3zM623.71 288.26h1.3v1.3h-1.3zM609.4 287.86h1.3v1.3h-1.3zM610.92 287.76h1.3v1.3h-1.3zM612.63 287.74h1.3v1.3h-1.3zM614.06 287.71h1.3v1.3h-1.3zM615.8 287.69h1.3v1.3h-1.3zM617.1 287.53h1.3v1.3h-1.3zM618.62 287.05h1.3v1.3h-1.3zM620.23 287.02h1.3v1.3h-1.3zM621.81 286.92h1.3v1.3h-1.3zM623.15 286.84h1.3v1.3h-1.3zM610.82 286.48h1.3v1.3h-1.3zM612.58 286.17h1.3v1.3h-1.3zM613.82 286.16h1.3v1.3h-1.3zM615.66 285.64h1.3v1.3h-1.3zM616.84 285.56h1.3v1.3h-1.3zM618.62 285.44h1.3v1.3h-1.3zM619.89 285.33h1.3v1.3h-1.3zM621.81 285.23h1.3v1.3h-1.3zM607.86 284.81h1.3v1.3h-1.3zM609.7 284.79h1.3v1.3h-1.3zM611.22 284.38h1.3v1.3h-1.3zM612.47 284.27h1.3v1.3h-1.3zM614.16 284.2h1.3v1.3h-1.3zM615.5 284.16h1.3v1.3h-1.3zM616.96 283.97h1.3v1.3h-1.3zM618.46 283.88h1.3v1.3h-1.3zM619.81 283.78h1.3v1.3h-1.3zM621.7 283.7h1.3v1.3h-1.3zM622.84 283.69h1.3v1.3h-1.3zM624.42 283.65h1.3v1.3h-1.3zM606.35 283.58h1.3v1.3h-1.3zM608.28 283.52h1.3v1.3h-1.3zM609.62 283.48h1.3v1.3h-1.3zM611.08 283.31h1.3v1.3h-1.3zM612.65 283.29h1.3v1.3h-1.3zM614.28 283.27h1.3v1.3h-1.3zM615.67 283.08h1.3v1.3h-1.3zM617.11 283.06h1.3v1.3h-1.3zM618.49 282.93h1.3v1.3h-1.3zM620.11 282.5h1.3v1.3h-1.3zM621.89 282.43h1.3v1.3h-1.3zM623.14 282.42h1.3v1.3h-1.3zM624.59 282.23h1.3v1.3h-1.3zM626.33 282.12h1.3v1.3h-1.3zM605.08 282.02h1.3v1.3h-1.3zM605.09 281.81h1.3v1.3h-1.3zM605.52 281.74h1.3v1.3h-1.3zM605.62 281.69h1.3v1.3h-1.3zM606.33 281.55h1.3v1.3h-1.3zM607.81 281.54h1.3v1.3h-1.3zM609.31 281.52h1.3v1.3h-1.3zM611.15 281.49h1.3v1.3h-1.3zM612.38 281.46h1.3v1.3h-1.3zM614.14 281.46h1.3v1.3h-1.3zM615.7 281.46h1.3v1.3h-1.3zM616.81 281.44h1.3v1.3h-1.3zM618.82 281.11h1.3v1.3h-1.3zM619.95 281.08h1.3v1.3h-1.3zM621.63 281.05h1.3v1.3h-1.3zM623.01 281.03h1.3v1.3h-1.3zM624.51 280.84h1.3v1.3h-1.3zM626.04 280.78h1.3v1.3h-1.3zM627.05 280.71h1.3v1.3h-1.3zM627.31 280.7h1.3v1.3h-1.3zM627.21 280.68h1.3v1.3h-1.3zM627.26 280.66h1.3v1.3h-1.3zM605.15 280.47h1.3v1.3h-1.3zM605.75 280.29h1.3v1.3h-1.3zM607.47 280.24h1.3v1.3h-1.3zM609.14 280.18h1.3v1.3h-1.3zM610.17 280.17h1.3v1.3h-1.3zM612.07 280.12h1.3v1.3h-1.3zM613.42 280.1h1.3v1.3h-1.3zM614.61 279.97h1.3v1.3h-1.3zM616.06 279.89h1.3v1.3h-1.3zM618.08 279.89h1.3v1.3h-1.3zM619.19 279.84h1.3v1.3h-1.3zM620.61 279.75h1.3v1.3h-1.3zM622.44 279.72h1.3v1.3h-1.3zM623.97 279.38h1.3v1.3h-1.3zM625.59 279.24h1.3v1.3h-1.3zM626.85 279.23h1.3v1.3h-1.3zM627.24 279.23h1.3v1.3h-1.3zM605.24 279.03h1.3v1.3h-1.3zM605.17 278.9h1.3v1.3h-1.3zM606.68 278.34h1.3v1.3h-1.3zM608.37 278.31h1.3v1.3h-1.3zM609.35 278.25h1.3v1.3h-1.3zM611.03 278.16h1.3v1.3h-1.3zM612.51 278.09h1.3v1.3h-1.3zM613.85 278.07h1.3v1.3h-1.3zM615.66 278.05h1.3v1.3h-1.3zM617.39 277.99h1.3v1.3h-1.3zM618.47 277.95h1.3v1.3h-1.3zM620.24 277.95h1.3v1.3h-1.3zM621.84 277.86h1.3v1.3h-1.3zM622.96 277.76h1.3v1.3h-1.3zM624.85 277.75h1.3v1.3h-1.3zM626.25 277.66h1.3v1.3h-1.3zM627.44 277.61h1.3v1.3h-1.3zM627.17 277.6h1.3v1.3h-1.3zM608.72 277.6h1.3v1.3h-1.3zM610.11 277.53h1.3v1.3h-1.3zM612.09 277.41h1.3v1.3h-1.3zM613.54 277.39h1.3v1.3h-1.3zM614.6 277.37h1.3v1.3h-1.3zM616.37 277.31h1.3v1.3h-1.3zM617.68 276.85h1.3v1.3h-1.3zM619.51 276.77h1.3v1.3h-1.3zM620.89 276.7h1.3v1.3h-1.3zM622.62 276.63h1.3v1.3h-1.3zM623.99 276.62h1.3v1.3h-1.3zM611.61 276.06h1.3v1.3h-1.3zM613.27 276.06h1.3v1.3h-1.3zM614.9 275.68h1.3v1.3h-1.3zM616.6 275.65h1.3v1.3h-1.3zM617.77 275.56h1.3v1.3h-1.3zM619.16 275.27h1.3v1.3h-1.3zM620.72 274.83h1.3v1.3h-1.3zM610.95 274.58h1.3v1.3h-1.3zM612.39 274.24h1.3v1.3h-1.3zM614.01 273.97h1.3v1.3h-1.3zM615.45 273.88h1.3v1.3h-1.3zM617.11 273.73h1.3v1.3h-1.3zM618.84 273.56h1.3v1.3h-1.3zM620.37 273.53h1.3v1.3h-1.3zM621.4 273.29h1.3v1.3h-1.3zM609.64 273.08h1.3v1.3h-1.3zM611.2 273.05h1.3v1.3h-1.3zM612.39 272.98h1.3v1.3h-1.3zM614.12 272.9h1.3v1.3h-1.3zM615.42 272.79h1.3v1.3h-1.3zM617.02 272.57h1.3v1.3h-1.3zM618.49 272.41h1.3v1.3h-1.3zM620.29 272.35h1.3v1.3h-1.3zM621.44 272.13h1.3v1.3h-1.3zM623.12 272.07h1.3v1.3h-1.3zM614.15 271.5h1.3v1.3h-1.3zM615.5 271.07h1.3v1.3h-1.3zM617.36 270.74h1.3v1.3h-1.3zM618.5 270.45h1.3v1.3h-1.3zM612.5 269.76h1.3v1.3h-1.3zM614.22 269.63h1.3v1.3h-1.3zM615.59 269.53h1.3v1.3h-1.3zM617.23 269.46h1.3v1.3h-1.3zM618.39 269.08h1.3v1.3h-1.3zM619.89 269h1.3v1.3h-1.3zM613.49 268.27h1.3v1.3h-1.3zM614.78 268.2h1.3v1.3h-1.3zM616.56 267.81h1.3v1.3h-1.3zM617.69 267.63h1.3v1.3h-1.3zM619.19 267.14h1.3v1.3h-1.3zM615.07 267.01h1.3v1.3h-1.3zM616.27 266.21h1.3v1.3h-1.3zM617.62 265.78h1.3v1.3h-1.3zM616.18 264.28h1.3v1.3h-1.3zM616.51 263.96h1.3v1.3h-1.3zM616.21 261.85h1.3v1.3h-1.3zM616.38 260.05h1.3v1.3h-1.3zM616.55 258.25h1.3v1.3h-1.3zM616.42 256.01h1.3v1.3h-1.3zM616.5 252.86h1.3v1.3h-1.3z" fill="#2A2AE6"/>
<path d="M647.89 291.91h1.3v1.3h-1.3zM649.18 291.79h1.3v1.3h-1.3zM648.68 290.35h1.3v1.3h-1.3zM648.48 289.05h1.3v1.3h-1.3zM647.42 287.47h1.3v1.3h-1.3zM649.08 286.63h1.3v1.3h-1.3zM644.95 286.08h1.3v1.3h-1.3zM646.53 285.8h1.3v1.3h-1.3zM648.61 285.72h1.3v1.3h-1.3zM650.18 285.66h1.3v1.3h-1.3zM651.58 285.4h1.3v1.3h-1.3zM644.43 284.96h1.3v1.3h-1.3zM645.96 284.56h1.3v1.3h-1.3zM647.57 284.21h1.3v1.3h-1.3zM649.08 283.99h1.3v1.3h-1.3zM650.98 283.96h1.3v1.3h-1.3zM652.95 283.81h1.3v1.3h-1.3zM646.8 283.5h1.3v1.3h-1.3zM648.43 283.49h1.3v1.3h-1.3zM650.21 282.75h1.3v1.3h-1.3zM644.23 281.95h1.3v1.3h-1.3zM645.97 281.9h1.3v1.3h-1.3zM647.42 281.55h1.3v1.3h-1.3zM649.09 280.97h1.3v1.3h-1.3zM650.71 280.95h1.3v1.3h-1.3zM652.9 280.86h1.3v1.3h-1.3zM640.5 280.49h1.3v1.3h-1.3zM642.35 280.34h1.3v1.3h-1.3zM644.25 280.32h1.3v1.3h-1.3zM645.9 280.18h1.3v1.3h-1.3zM647.84 280.1h1.3v1.3h-1.3zM649.13 279.76h1.3v1.3h-1.3zM650.77 279.47h1.3v1.3h-1.3zM652.5 279.38h1.3v1.3h-1.3zM654.4 279.25h1.3v1.3h-1.3zM655.97 279.18h1.3v1.3h-1.3zM641.62 278.98h1.3v1.3h-1.3zM643.46 278.96h1.3v1.3h-1.3zM644.94 278.63h1.3v1.3h-1.3zM646.85 278.58h1.3v1.3h-1.3zM648.16 278.53h1.3v1.3h-1.3zM650.18 278.23h1.3v1.3h-1.3zM652.09 278.1h1.3v1.3h-1.3zM653.81 277.96h1.3v1.3h-1.3zM655.29 277.8h1.3v1.3h-1.3zM639.39 277.56h1.3v1.3h-1.3zM640.64 277.55h1.3v1.3h-1.3zM642.38 277.5h1.3v1.3h-1.3zM644.17 277.26h1.3v1.3h-1.3zM645.91 277.25h1.3v1.3h-1.3zM647.79 277.21h1.3v1.3h-1.3zM649.27 277.1h1.3v1.3h-1.3zM650.73 276.94h1.3v1.3h-1.3zM652.82 276.92h1.3v1.3h-1.3zM654.23 276.64h1.3v1.3h-1.3zM656.33 276.53h1.3v1.3h-1.3zM657.63 276.23h1.3v1.3h-1.3zM641.53 275.81h1.3v1.3h-1.3zM643.13 275.73h1.3v1.3h-1.3zM644.93 275.47h1.3v1.3h-1.3zM646.81 275.36h1.3v1.3h-1.3zM648.31 275.31h1.3v1.3h-1.3zM649.88 275.2h1.3v1.3h-1.3zM651.9 275.07h1.3v1.3h-1.3zM653.69 274.68h1.3v1.3h-1.3zM655.02 274.6h1.3v1.3h-1.3zM641.6 274.53h1.3v1.3h-1.3zM643.09 274.51h1.3v1.3h-1.3zM644.76 274.48h1.3v1.3h-1.3zM646.67 274.28h1.3v1.3h-1.3zM648.32 273.97h1.3v1.3h-1.3zM650.38 273.94h1.3v1.3h-1.3zM651.56 273.53h1.3v1.3h-1.3zM653.64 273.51h1.3v1.3h-1.3zM655.39 273.32h1.3v1.3h-1.3zM642.45 272.96h1.3v1.3h-1.3zM644.2 272.85h1.3v1.3h-1.3zM645.75 272.83h1.3v1.3h-1.3zM647.45 272.37h1.3v1.3h-1.3zM649.03 272.33h1.3v1.3h-1.3zM651.24 272.28h1.3v1.3h-1.3zM652.42 272.24h1.3v1.3h-1.3zM654.18 271.68h1.3v1.3h-1.3zM637.58 271.59h1.3v1.3h-1.3zM637.42 271.59h1.3v1.3h-1.3zM637.46 271.53h1.3v1.3h-1.3zM637.33 271.33h1.3v1.3h-1.3zM638.9 271.25h1.3v1.3h-1.3zM640.98 271.23h1.3v1.3h-1.3zM642.27 271.08h1.3v1.3h-1.3zM644.08 270.9h1.3v1.3h-1.3zM646.05 270.86h1.3v1.3h-1.3zM647.48 270.85h1.3v1.3h-1.3zM649.57 270.68h1.3v1.3h-1.3zM650.81 270.58h1.3v1.3h-1.3zM652.72 270.55h1.3v1.3h-1.3zM654.42 270.52h1.3v1.3h-1.3zM656.1 270.44h1.3v1.3h-1.3zM657.96 270.44h1.3v1.3h-1.3zM659.18 270.29h1.3v1.3h-1.3zM659.48 270.28h1.3v1.3h-1.3zM659.62 270.26h1.3v1.3h-1.3zM659.18 270.25h1.3v1.3h-1.3zM642.53 270.01h1.3v1.3h-1.3zM644.16 269.78h1.3v1.3h-1.3zM645.84 269.63h1.3v1.3h-1.3zM647.62 269.51h1.3v1.3h-1.3zM649.37 269.11h1.3v1.3h-1.3zM651.12 268.95h1.3v1.3h-1.3zM652.94 268.77h1.3v1.3h-1.3zM654.49 268.74h1.3v1.3h-1.3zM641.95 267.97h1.3v1.3h-1.3zM643.45 267.94h1.3v1.3h-1.3zM644.91 267.85h1.3v1.3h-1.3zM646.54 267.66h1.3v1.3h-1.3zM648.19 267.62h1.3v1.3h-1.3zM650.01 267.58h1.3v1.3h-1.3zM651.62 267.45h1.3v1.3h-1.3zM653.66 267.35h1.3v1.3h-1.3zM655.36 267.16h1.3v1.3h-1.3zM637.52 267.02h1.3v1.3h-1.3zM637.38 267.02h1.3v1.3h-1.3zM639.08 266.65h1.3v1.3h-1.3zM640.66 266.65h1.3v1.3h-1.3zM642.75 266.64h1.3v1.3h-1.3zM643.91 266.45h1.3v1.3h-1.3zM645.79 266.41h1.3v1.3h-1.3zM647.64 266.34h1.3v1.3h-1.3zM649.11 266.13h1.3v1.3h-1.3zM651.21 266.13h1.3v1.3h-1.3zM652.69 266.07h1.3v1.3h-1.3zM654.32 266.06h1.3v1.3h-1.3zM655.84 265.85h1.3v1.3h-1.3zM657.67 265.8h1.3v1.3h-1.3zM659.5 265.79h1.3v1.3h-1.3zM659.32 265.62h1.3v1.3h-1.3zM640.53 265.59h1.3v1.3h-1.3zM642.55 265.58h1.3v1.3h-1.3zM644.08 265.44h1.3v1.3h-1.3zM646.11 265.32h1.3v1.3h-1.3zM647.72 265.32h1.3v1.3h-1.3zM649.43 265.15h1.3v1.3h-1.3zM651.23 265.01h1.3v1.3h-1.3zM652.89 264.87h1.3v1.3h-1.3zM654.3 264.57h1.3v1.3h-1.3zM656.14 264.4h1.3v1.3h-1.3zM642.36 263.87h1.3v1.3h-1.3zM644.02 263.64h1.3v1.3h-1.3zM645.72 263.61h1.3v1.3h-1.3zM647.37 263.41h1.3v1.3h-1.3zM649.14 263.34h1.3v1.3h-1.3zM650.83 263.25h1.3v1.3h-1.3zM652.8 262.79h1.3v1.3h-1.3zM654.25 262.77h1.3v1.3h-1.3zM638.83 262.49h1.3v1.3h-1.3zM640.75 262.46h1.3v1.3h-1.3zM642.32 262.19h1.3v1.3h-1.3zM644.31 261.89h1.3v1.3h-1.3zM645.73 261.77h1.3v1.3h-1.3zM647.63 261.64h1.3v1.3h-1.3zM649.11 261.49h1.3v1.3h-1.3zM650.99 261.46h1.3v1.3h-1.3zM652.92 261.38h1.3v1.3h-1.3zM654.28 261.26h1.3v1.3h-1.3zM656.12 261.24h1.3v1.3h-1.3zM657.76 261.21h1.3v1.3h-1.3zM639.69 261.03h1.3v1.3h-1.3zM641.36 260.67h1.3v1.3h-1.3zM643.56 260.64h1.3v1.3h-1.3zM644.95 260.54h1.3v1.3h-1.3zM646.86 260.34h1.3v1.3h-1.3zM648.4 260.31h1.3v1.3h-1.3zM650.35 260.11h1.3v1.3h-1.3zM651.67 260.07h1.3v1.3h-1.3zM653.54 259.84h1.3v1.3h-1.3zM655.28 259.72h1.3v1.3h-1.3zM657.13 259.71h1.3v1.3h-1.3zM637.17 259.55h1.3v1.3h-1.3zM639.02 259.4h1.3v1.3h-1.3zM640.79 259.19h1.3v1.3h-1.3zM642.55 259.12h1.3v1.3h-1.3zM643.98 259.03h1.3v1.3h-1.3zM645.93 259h1.3v1.3h-1.3zM647.72 258.88h1.3v1.3h-1.3zM649.44 258.68h1.3v1.3h-1.3zM650.83 258.61h1.3v1.3h-1.3zM652.66 258.38h1.3v1.3h-1.3zM654.28 258.33h1.3v1.3h-1.3zM656.03 258.22h1.3v1.3h-1.3zM657.72 258.21h1.3v1.3h-1.3zM659.72 258.17h1.3v1.3h-1.3zM644.76 257.49h1.3v1.3h-1.3zM647.02 257.39h1.3v1.3h-1.3zM648.17 257.35h1.3v1.3h-1.3zM649.9 256.95h1.3v1.3h-1.3zM651.67 256.64h1.3v1.3h-1.3zM639.82 256.59h1.3v1.3h-1.3zM641.86 256.57h1.3v1.3h-1.3zM643.55 256.49h1.3v1.3h-1.3zM645.31 256.42h1.3v1.3h-1.3zM646.68 256.15h1.3v1.3h-1.3zM648.16 256.09h1.3v1.3h-1.3zM650.23 255.74h1.3v1.3h-1.3zM652.09 255.69h1.3v1.3h-1.3zM653.31 255.66h1.3v1.3h-1.3zM655.45 255.5h1.3v1.3h-1.3zM656.65 255.49h1.3v1.3h-1.3zM642.64 254.74h1.3v1.3h-1.3zM644.2 254.73h1.3v1.3h-1.3zM646.14 254.66h1.3v1.3h-1.3zM647.82 254.63h1.3v1.3h-1.3zM649.03 254.43h1.3v1.3h-1.3zM651 254.07h1.3v1.3h-1.3zM652.55 254.04h1.3v1.3h-1.3zM654.36 253.88h1.3v1.3h-1.3zM645.64 253.48h1.3v1.3h-1.3zM647.52 253.21h1.3v1.3h-1.3zM649.25 252.7h1.3v1.3h-1.3zM650.7 252.18h1.3v1.3h-1.3zM647.58 250.98h1.3v1.3h-1.3zM649.54 250.68h1.3v1.3h-1.3zM643.94 250.48h1.3v1.3h-1.3zM646.17 250.46h1.3v1.3h-1.3zM647.59 250.28h1.3v1.3h-1.3zM649.13 250.19h1.3v1.3h-1.3zM651.28 249.88h1.3v1.3h-1.3zM652.68 249.32h1.3v1.3h-1.3zM648.41 249.03h1.3v1.3h-1.3zM646.68 247.46h1.3v1.3h-1.3zM648.68 247.11h1.3v1.3h-1.3zM649.93 246.87h1.3v1.3h-1.3zM647.43 244.59h1.3v1.3h-1.3zM649.17 244.45h1.3v1.3h-1.3zM647.34 243.02h1.3v1.3h-1.3zM649.51 242.76h1.3v1.3h-1.3zM647.59 240.46h1.3v1.3h-1.3zM649.36 240.18h1.3v1.3h-1.3zM648.68 239.36h1.3v1.3h-1.3zM648.45 237.27h1.3v1.3h-1.3zM648.32 230.45h1.3v1.3h-1.3z" fill="#F03C3C"/>
<line x1="606.8" y1="281.5" x2="628.2" y2="281.5" stroke="#000" stroke-width="0.9"/>
<line x1="639.6" y1="268.5" x2="660.6" y2="268.5" stroke="#000" stroke-width="0.9"/>
<line x1="596.3" y1="204.5" x2="596.3" y2="317.9" stroke="#000" stroke-width="1.2"/>
<line x1="595.7" y1="317.3" x2="671" y2="317.3" stroke="#000" stroke-width="1.2"/>
<line x1="591.8" y1="317.3" x2="596.3" y2="317.3" stroke="#000" stroke-width="1.1"/>
<text x="590" y="320.2" font-size="8.1" font-weight="bold" text-anchor="end">5.0</text>
<line x1="591.8" y1="294.84" x2="596.3" y2="294.84" stroke="#000" stroke-width="1.1"/>
<text x="590" y="297.74" font-size="8.1" font-weight="bold" text-anchor="end">5.5</text>
<line x1="591.8" y1="272.38" x2="596.3" y2="272.38" stroke="#000" stroke-width="1.1"/>
<text x="590" y="275.28" font-size="8.1" font-weight="bold" text-anchor="end">6.0</text>
<line x1="591.8" y1="249.92" x2="596.3" y2="249.92" stroke="#000" stroke-width="1.1"/>
<text x="590" y="252.82" font-size="8.1" font-weight="bold" text-anchor="end">6.5</text>
<line x1="591.8" y1="227.46" x2="596.3" y2="227.46" stroke="#000" stroke-width="1.1"/>
<text x="590" y="230.36" font-size="8.1" font-weight="bold" text-anchor="end">7.0</text>
<line x1="591.8" y1="205" x2="596.3" y2="205" stroke="#000" stroke-width="1.1"/>
<text x="590" y="207.9" font-size="8.1" font-weight="bold" text-anchor="end">7.5</text>
<line x1="617" y1="317.3" x2="617" y2="321" stroke="#000" stroke-width="1.1"/>
<line x1="649.1" y1="317.3" x2="649.1" y2="321" stroke="#000" stroke-width="1.1"/>
<path d="M617 222.4V216.4H649.1V222.4" stroke="#000" stroke-width="1.1" fill="none"/>
<text x="633.05" y="213.2" font-size="9.5" font-weight="bold" text-anchor="middle" textLength="26.2" lengthAdjust="spacingAndGlyphs">****</text>
<text x="571.8" y="260.8" font-size="8.8" font-weight="bold" text-anchor="middle" transform="rotate(-90 571.8 260.8)" textLength="116.4" lengthAdjust="spacingAndGlyphs">Relative RABIF expression</text>
<text x="619.8" y="330.3" font-size="8.8" font-weight="bold" text-anchor="end" transform="rotate(-45 619.8 330.3)">Normal (n=193)</text>
<text x="651.5" y="330.3" font-size="8.8" font-weight="bold" text-anchor="end" transform="rotate(-45 651.5 330.3)">Tumor (n=240)</text>
<text x="0.3" y="405.3" font-size="14.6">H</text>
<rect x="38.8" y="506.9" width="2.6" height="21.3" fill="#000"/>
<rect x="42" y="517.55" width="2.9" height="10.65" fill="#A4A4A4"/>
<rect x="48.44" y="506.9" width="2.6" height="21.3" fill="#000"/>
<rect x="51.63" y="515.42" width="2.9" height="12.78" fill="#A4A4A4"/>
<rect x="58.07" y="506.9" width="2.6" height="21.3" fill="#000"/>
<rect x="61.27" y="513.29" width="2.9" height="14.91" fill="#A4A4A4"/>
<rect x="67.7" y="506.9" width="2.6" height="21.3" fill="#000"/>
<rect x="70.91" y="510.1" width="2.9" height="18.11" fill="#A4A4A4"/>
<rect x="77.34" y="506.9" width="2.6" height="21.3" fill="#000"/>
<rect x="80.54" y="507.97" width="2.9" height="20.24" fill="#A4A4A4"/>
<rect x="86.97" y="506.9" width="2.6" height="21.3" fill="#000"/>
<rect x="90.17" y="504.77" width="2.9" height="23.43" fill="#A4A4A4"/>
<rect x="96.61" y="506.9" width="2.6" height="21.3" fill="#000"/>
<rect x="99.81" y="502.64" width="2.9" height="25.56" fill="#A4A4A4"/>
<rect x="106.24" y="506.9" width="2.6" height="21.3" fill="#000"/>
<rect x="109.44" y="502.64" width="2.9" height="25.56" fill="#A4A4A4"/>
<rect x="115.88" y="506.9" width="2.6" height="21.3" fill="#000"/>
<rect x="119.08" y="503.71" width="2.9" height="24.5" fill="#A4A4A4"/>
<rect x="125.52" y="506.9" width="2.6" height="21.3" fill="#000"/>
<rect x="128.72" y="503.07" width="2.9" height="25.13" fill="#A4A4A4"/>
<rect x="135.15" y="506.9" width="2.6" height="21.3" fill="#000"/>
<rect x="138.35" y="497.32" width="2.9" height="30.88" fill="#A4A4A4"/>
<rect x="144.78" y="506.9" width="2.6" height="21.3" fill="#000"/>
<rect x="147.99" y="495.61" width="2.9" height="32.59" fill="#A4A4A4"/>
<rect x="154.42" y="506.9" width="2.6" height="21.3" fill="#000"/>
<rect x="157.62" y="495.19" width="2.9" height="33.01" fill="#A4A4A4"/>
<rect x="164.05" y="506.9" width="2.6" height="21.3" fill="#000"/>
<rect x="167.25" y="494.12" width="2.9" height="34.08" fill="#A4A4A4"/>
<rect x="173.69" y="506.9" width="2.6" height="21.3" fill="#000"/>
<rect x="176.89" y="493.69" width="2.9" height="34.51" fill="#A4A4A4"/>
<rect x="183.33" y="506.9" width="2.6" height="21.3" fill="#000"/>
<rect x="186.53" y="488.8" width="2.9" height="39.4" fill="#A4A4A4"/>
<rect x="192.96" y="506.9" width="2.6" height="21.3" fill="#000"/>
<rect x="196.16" y="480.06" width="2.9" height="48.14" fill="#A4A4A4"/>
<rect x="202.59" y="506.9" width="2.6" height="21.3" fill="#000"/>
<rect x="205.8" y="475.59" width="2.9" height="52.61" fill="#A4A4A4"/>
<rect x="212.23" y="506.9" width="2.6" height="21.3" fill="#000"/>
<rect x="215.43" y="463.02" width="2.9" height="65.18" fill="#A4A4A4"/>
<rect x="221.86" y="506.9" width="2.6" height="21.3" fill="#000"/>
<rect x="225.06" y="420.85" width="2.9" height="107.35" fill="#A4A4A4"/>
<line x1="43.45" y1="513.72" x2="43.45" y2="521.38" stroke="#F03C3C" stroke-width="0.55"/>
<line x1="42.7" y1="513.72" x2="44.2" y2="513.72" stroke="#F03C3C" stroke-width="0.55"/>
<path d="M42.8 513.64h1.3v1.3h-1.3zM42.8 519.97h1.3v1.3h-1.3zM42.8 516.83h1.3v1.3h-1.3z" fill="#F03C3C"/>
<line x1="40.1" y1="503.71" x2="40.1" y2="510.1" stroke="#2A2AE6" stroke-width="0.55"/>
<line x1="39.4" y1="503.71" x2="40.8" y2="503.71" stroke="#2A2AE6" stroke-width="0.55"/>
<path d="M39.45 503.53h1.3v1.3h-1.3zM39.45 508.81h1.3v1.3h-1.3zM39.45 506.25h1.3v1.3h-1.3z" fill="#2A2AE6"/>
<line x1="53.09" y1="514.78" x2="53.09" y2="516.06" stroke="#F03C3C" stroke-width="0.55"/>
<line x1="52.34" y1="514.78" x2="53.84" y2="514.78" stroke="#F03C3C" stroke-width="0.55"/>
<path d="M52.44 514.23h1.3v1.3h-1.3zM52.44 515.28h1.3v1.3h-1.3zM52.44 514.85h1.3v1.3h-1.3z" fill="#F03C3C"/>
<line x1="49.73" y1="503.92" x2="49.73" y2="509.88" stroke="#2A2AE6" stroke-width="0.55"/>
<line x1="49.04" y1="503.92" x2="50.44" y2="503.92" stroke="#2A2AE6" stroke-width="0.55"/>
<path d="M49.09 503.72h1.3v1.3h-1.3zM49.09 508.64h1.3v1.3h-1.3zM49.09 506.73h1.3v1.3h-1.3z" fill="#2A2AE6"/>
<line x1="62.72" y1="510.73" x2="62.72" y2="515.85" stroke="#F03C3C" stroke-width="0.55"/>
<line x1="61.97" y1="510.73" x2="63.47" y2="510.73" stroke="#F03C3C" stroke-width="0.55"/>
<path d="M62.07 510.47h1.3v1.3h-1.3zM62.07 514.68h1.3v1.3h-1.3zM62.07 512.86h1.3v1.3h-1.3z" fill="#F03C3C"/>
<line x1="59.37" y1="503.71" x2="59.37" y2="510.1" stroke="#2A2AE6" stroke-width="0.55"/>
<line x1="58.67" y1="503.71" x2="60.07" y2="503.71" stroke="#2A2AE6" stroke-width="0.55"/>
<path d="M58.72 503.53h1.3v1.3h-1.3zM58.72 508.81h1.3v1.3h-1.3zM58.72 505.8h1.3v1.3h-1.3z" fill="#2A2AE6"/>
<line x1="72.36" y1="508.39" x2="72.36" y2="511.8" stroke="#F03C3C" stroke-width="0.55"/>
<line x1="71.61" y1="508.39" x2="73.11" y2="508.39" stroke="#F03C3C" stroke-width="0.55"/>
<path d="M71.7 508h1.3v1.3h-1.3zM71.7 510.81h1.3v1.3h-1.3zM71.7 509.79h1.3v1.3h-1.3z" fill="#F03C3C"/>
<line x1="69.01" y1="503.71" x2="69.01" y2="510.1" stroke="#2A2AE6" stroke-width="0.55"/>
<line x1="68.31" y1="503.71" x2="69.7" y2="503.71" stroke="#2A2AE6" stroke-width="0.55"/>
<path d="M68.36 503.53h1.3v1.3h-1.3zM68.36 508.81h1.3v1.3h-1.3zM68.36 505.3h1.3v1.3h-1.3z" fill="#2A2AE6"/>
<line x1="81.99" y1="506.26" x2="81.99" y2="509.67" stroke="#F03C3C" stroke-width="0.55"/>
<line x1="81.24" y1="506.26" x2="82.74" y2="506.26" stroke="#F03C3C" stroke-width="0.55"/>
<path d="M81.34 505.87h1.3v1.3h-1.3zM81.34 508.68h1.3v1.3h-1.3zM81.34 507.59h1.3v1.3h-1.3z" fill="#F03C3C"/>
<line x1="78.64" y1="502.64" x2="78.64" y2="511.16" stroke="#2A2AE6" stroke-width="0.55"/>
<line x1="77.94" y1="502.64" x2="79.34" y2="502.64" stroke="#2A2AE6" stroke-width="0.55"/>
<path d="M77.99 502.63h1.3v1.3h-1.3zM77.99 509.66h1.3v1.3h-1.3zM77.99 506.83h1.3v1.3h-1.3z" fill="#2A2AE6"/>
<line x1="91.62" y1="503.07" x2="91.62" y2="506.47" stroke="#F03C3C" stroke-width="0.55"/>
<line x1="90.88" y1="503.07" x2="92.38" y2="503.07" stroke="#F03C3C" stroke-width="0.55"/>
<path d="M90.97 502.67h1.3v1.3h-1.3zM90.97 505.48h1.3v1.3h-1.3zM90.97 504.51h1.3v1.3h-1.3z" fill="#F03C3C"/>
<line x1="88.28" y1="506.05" x2="88.28" y2="507.75" stroke="#2A2AE6" stroke-width="0.55"/>
<line x1="87.58" y1="506.05" x2="88.97" y2="506.05" stroke="#2A2AE6" stroke-width="0.55"/>
<path d="M87.62 505.53h1.3v1.3h-1.3zM87.62 506.93h1.3v1.3h-1.3zM87.62 506.31h1.3v1.3h-1.3z" fill="#2A2AE6"/>
<line x1="101.26" y1="498.38" x2="101.26" y2="506.9" stroke="#F03C3C" stroke-width="0.55"/>
<line x1="100.51" y1="498.38" x2="102.01" y2="498.38" stroke="#F03C3C" stroke-width="0.55"/>
<path d="M100.61 498.37h1.3v1.3h-1.3zM100.61 505.4h1.3v1.3h-1.3zM100.61 502.32h1.3v1.3h-1.3z" fill="#F03C3C"/>
<line x1="97.91" y1="505.2" x2="97.91" y2="508.6" stroke="#2A2AE6" stroke-width="0.55"/>
<line x1="97.21" y1="505.2" x2="98.61" y2="505.2" stroke="#2A2AE6" stroke-width="0.55"/>
<path d="M97.26 504.8h1.3v1.3h-1.3zM97.26 507.61h1.3v1.3h-1.3zM97.26 506.06h1.3v1.3h-1.3z" fill="#2A2AE6"/>
<line x1="110.89" y1="498.38" x2="110.89" y2="506.9" stroke="#F03C3C" stroke-width="0.55"/>
<line x1="110.14" y1="498.38" x2="111.64" y2="498.38" stroke="#F03C3C" stroke-width="0.55"/>
<path d="M110.24 498.37h1.3v1.3h-1.3zM110.24 505.4h1.3v1.3h-1.3zM110.24 500.98h1.3v1.3h-1.3z" fill="#F03C3C"/>
<line x1="107.55" y1="505.2" x2="107.55" y2="508.6" stroke="#2A2AE6" stroke-width="0.55"/>
<line x1="106.84" y1="505.2" x2="108.24" y2="505.2" stroke="#2A2AE6" stroke-width="0.55"/>
<path d="M106.89 504.8h1.3v1.3h-1.3zM106.89 507.61h1.3v1.3h-1.3zM106.89 506.51h1.3v1.3h-1.3z" fill="#2A2AE6"/>
<line x1="120.53" y1="499.87" x2="120.53" y2="507.54" stroke="#F03C3C" stroke-width="0.55"/>
<line x1="119.78" y1="499.87" x2="121.28" y2="499.87" stroke="#F03C3C" stroke-width="0.55"/>
<path d="M119.88 499.8h1.3v1.3h-1.3zM119.88 506.12h1.3v1.3h-1.3zM119.88 502.34h1.3v1.3h-1.3z" fill="#F03C3C"/>
<line x1="117.18" y1="505.84" x2="117.18" y2="507.97" stroke="#2A2AE6" stroke-width="0.55"/>
<line x1="116.48" y1="505.84" x2="117.88" y2="505.84" stroke="#2A2AE6" stroke-width="0.55"/>
<path d="M116.53 505.34h1.3v1.3h-1.3zM116.53 507.1h1.3v1.3h-1.3zM116.53 506.37h1.3v1.3h-1.3z" fill="#2A2AE6"/>
<line x1="130.17" y1="500.94" x2="130.17" y2="505.2" stroke="#F03C3C" stroke-width="0.55"/>
<line x1="129.42" y1="500.94" x2="130.92" y2="500.94" stroke="#F03C3C" stroke-width="0.55"/>
<path d="M129.52 500.61h1.3v1.3h-1.3zM129.52 504.12h1.3v1.3h-1.3zM129.52 502.54h1.3v1.3h-1.3z" fill="#F03C3C"/>
<line x1="126.82" y1="503.71" x2="126.82" y2="510.1" stroke="#2A2AE6" stroke-width="0.55"/>
<line x1="126.12" y1="503.71" x2="127.52" y2="503.71" stroke="#2A2AE6" stroke-width="0.55"/>
<path d="M126.17 503.53h1.3v1.3h-1.3zM126.17 508.81h1.3v1.3h-1.3zM126.17 506.96h1.3v1.3h-1.3z" fill="#2A2AE6"/>
<line x1="139.8" y1="496.89" x2="139.8" y2="497.74" stroke="#F03C3C" stroke-width="0.55"/>
<line x1="139.05" y1="496.89" x2="140.55" y2="496.89" stroke="#F03C3C" stroke-width="0.55"/>
<path d="M139.15 496.3h1.3v1.3h-1.3zM139.15 497.01h1.3v1.3h-1.3zM139.15 496.56h1.3v1.3h-1.3z" fill="#F03C3C"/>
<line x1="136.45" y1="505.84" x2="136.45" y2="507.97" stroke="#2A2AE6" stroke-width="0.55"/>
<line x1="135.75" y1="505.84" x2="137.15" y2="505.84" stroke="#2A2AE6" stroke-width="0.55"/>
<path d="M135.8 505.34h1.3v1.3h-1.3zM135.8 507.1h1.3v1.3h-1.3zM135.8 506.33h1.3v1.3h-1.3z" fill="#2A2AE6"/>
<line x1="149.44" y1="494.55" x2="149.44" y2="496.68" stroke="#F03C3C" stroke-width="0.55"/>
<line x1="148.69" y1="494.55" x2="150.19" y2="494.55" stroke="#F03C3C" stroke-width="0.55"/>
<path d="M148.78 494.06h1.3v1.3h-1.3zM148.78 495.81h1.3v1.3h-1.3zM148.78 494.83h1.3v1.3h-1.3z" fill="#F03C3C"/>
<line x1="146.09" y1="505.62" x2="146.09" y2="508.18" stroke="#2A2AE6" stroke-width="0.55"/>
<line x1="145.38" y1="505.62" x2="146.78" y2="505.62" stroke="#2A2AE6" stroke-width="0.55"/>
<path d="M145.44 505.16h1.3v1.3h-1.3zM145.44 507.27h1.3v1.3h-1.3zM145.44 506.61h1.3v1.3h-1.3z" fill="#2A2AE6"/>
<line x1="159.07" y1="494.76" x2="159.07" y2="495.61" stroke="#F03C3C" stroke-width="0.55"/>
<line x1="158.32" y1="494.76" x2="159.82" y2="494.76" stroke="#F03C3C" stroke-width="0.55"/>
<path d="M158.42 494.17h1.3v1.3h-1.3zM158.42 494.88h1.3v1.3h-1.3zM158.42 494.48h1.3v1.3h-1.3z" fill="#F03C3C"/>
<line x1="155.72" y1="506.26" x2="155.72" y2="507.54" stroke="#2A2AE6" stroke-width="0.55"/>
<line x1="155.02" y1="506.26" x2="156.42" y2="506.26" stroke="#2A2AE6" stroke-width="0.55"/>
<path d="M155.07 505.71h1.3v1.3h-1.3zM155.07 506.76h1.3v1.3h-1.3zM155.07 506.35h1.3v1.3h-1.3z" fill="#2A2AE6"/>
<line x1="168.7" y1="490.5" x2="168.7" y2="497.74" stroke="#F03C3C" stroke-width="0.55"/>
<line x1="167.95" y1="490.5" x2="169.45" y2="490.5" stroke="#F03C3C" stroke-width="0.55"/>
<path d="M168.05 490.39h1.3v1.3h-1.3zM168.05 496.37h1.3v1.3h-1.3zM168.05 493.58h1.3v1.3h-1.3z" fill="#F03C3C"/>
<line x1="165.35" y1="503.71" x2="165.35" y2="510.1" stroke="#2A2AE6" stroke-width="0.55"/>
<line x1="164.65" y1="503.71" x2="166.05" y2="503.71" stroke="#2A2AE6" stroke-width="0.55"/>
<path d="M164.7 503.53h1.3v1.3h-1.3zM164.7 508.81h1.3v1.3h-1.3zM164.7 505.92h1.3v1.3h-1.3z" fill="#2A2AE6"/>
<line x1="178.34" y1="491.56" x2="178.34" y2="495.82" stroke="#F03C3C" stroke-width="0.55"/>
<line x1="177.59" y1="491.56" x2="179.09" y2="491.56" stroke="#F03C3C" stroke-width="0.55"/>
<path d="M177.69 491.23h1.3v1.3h-1.3zM177.69 494.75h1.3v1.3h-1.3zM177.69 493.46h1.3v1.3h-1.3z" fill="#F03C3C"/>
<line x1="174.99" y1="502.64" x2="174.99" y2="511.16" stroke="#2A2AE6" stroke-width="0.55"/>
<line x1="174.29" y1="502.64" x2="175.69" y2="502.64" stroke="#2A2AE6" stroke-width="0.55"/>
<path d="M174.34 502.63h1.3v1.3h-1.3zM174.34 509.66h1.3v1.3h-1.3zM174.34 506.18h1.3v1.3h-1.3z" fill="#2A2AE6"/>
<line x1="187.98" y1="483.47" x2="187.98" y2="494.12" stroke="#F03C3C" stroke-width="0.55"/>
<line x1="187.23" y1="483.47" x2="188.73" y2="483.47" stroke="#F03C3C" stroke-width="0.55"/>
<path d="M187.33 483.62h1.3v1.3h-1.3zM187.33 492.41h1.3v1.3h-1.3zM187.33 487.07h1.3v1.3h-1.3z" fill="#F03C3C"/>
<line x1="184.63" y1="503.71" x2="184.63" y2="510.1" stroke="#2A2AE6" stroke-width="0.55"/>
<line x1="183.93" y1="503.71" x2="185.33" y2="503.71" stroke="#2A2AE6" stroke-width="0.55"/>
<path d="M183.98 503.53h1.3v1.3h-1.3zM183.98 508.81h1.3v1.3h-1.3zM183.98 506.9h1.3v1.3h-1.3z" fill="#2A2AE6"/>
<line x1="197.61" y1="469.41" x2="197.61" y2="490.71" stroke="#F03C3C" stroke-width="0.55"/>
<line x1="196.86" y1="469.41" x2="198.36" y2="469.41" stroke="#F03C3C" stroke-width="0.55"/>
<path d="M196.96 470.36h1.3v1.3h-1.3zM196.96 487.93h1.3v1.3h-1.3zM196.96 479.62h1.3v1.3h-1.3z" fill="#F03C3C"/>
<line x1="194.26" y1="504.77" x2="194.26" y2="509.03" stroke="#2A2AE6" stroke-width="0.55"/>
<line x1="193.56" y1="504.77" x2="194.96" y2="504.77" stroke="#2A2AE6" stroke-width="0.55"/>
<path d="M193.61 504.44h1.3v1.3h-1.3zM193.61 507.95h1.3v1.3h-1.3zM193.61 506.65h1.3v1.3h-1.3z" fill="#2A2AE6"/>
<line x1="207.25" y1="466" x2="207.25" y2="485.17" stroke="#F03C3C" stroke-width="0.55"/>
<line x1="206.5" y1="466" x2="208" y2="466" stroke="#F03C3C" stroke-width="0.55"/>
<path d="M206.59 466.79h1.3v1.3h-1.3zM206.59 482.61h1.3v1.3h-1.3zM206.59 476.99h1.3v1.3h-1.3z" fill="#F03C3C"/>
<line x1="203.9" y1="505.62" x2="203.9" y2="508.18" stroke="#2A2AE6" stroke-width="0.55"/>
<line x1="203.19" y1="505.62" x2="204.59" y2="505.62" stroke="#2A2AE6" stroke-width="0.55"/>
<path d="M203.25 505.16h1.3v1.3h-1.3zM203.25 507.27h1.3v1.3h-1.3zM203.25 506.26h1.3v1.3h-1.3z" fill="#2A2AE6"/>
<line x1="216.88" y1="459.83" x2="216.88" y2="466.22" stroke="#F03C3C" stroke-width="0.55"/>
<line x1="216.13" y1="459.83" x2="217.63" y2="459.83" stroke="#F03C3C" stroke-width="0.55"/>
<path d="M216.23 459.66h1.3v1.3h-1.3zM216.23 464.93h1.3v1.3h-1.3zM216.23 462.46h1.3v1.3h-1.3z" fill="#F03C3C"/>
<line x1="213.53" y1="504.34" x2="213.53" y2="509.46" stroke="#2A2AE6" stroke-width="0.55"/>
<line x1="212.83" y1="504.34" x2="214.23" y2="504.34" stroke="#2A2AE6" stroke-width="0.55"/>
<path d="M212.88 504.08h1.3v1.3h-1.3zM212.88 508.29h1.3v1.3h-1.3zM212.88 506.03h1.3v1.3h-1.3z" fill="#2A2AE6"/>
<line x1="226.51" y1="417.65" x2="226.51" y2="424.04" stroke="#F03C3C" stroke-width="0.55"/>
<line x1="225.76" y1="417.65" x2="227.26" y2="417.65" stroke="#F03C3C" stroke-width="0.55"/>
<path d="M225.86 417.48h1.3v1.3h-1.3zM225.86 422.75h1.3v1.3h-1.3zM225.86 419.51h1.3v1.3h-1.3z" fill="#F03C3C"/>
<line x1="223.16" y1="505.62" x2="223.16" y2="508.18" stroke="#2A2AE6" stroke-width="0.55"/>
<line x1="222.46" y1="505.62" x2="223.86" y2="505.62" stroke="#2A2AE6" stroke-width="0.55"/>
<path d="M222.51 505.16h1.3v1.3h-1.3zM222.51 507.27h1.3v1.3h-1.3zM222.51 506.09h1.3v1.3h-1.3z" fill="#2A2AE6"/>
<line x1="36" y1="507.3" x2="229" y2="507.3" stroke="#F03030" stroke-width="1.1" stroke-dasharray="3 2.2"/>
<line x1="37.4" y1="400.2" x2="37.4" y2="528.8" stroke="#000" stroke-width="1.2"/>
<line x1="36.8" y1="528.2" x2="229.5" y2="528.2" stroke="#000" stroke-width="1.2"/>
<line x1="33.5" y1="528.2" x2="37.4" y2="528.2" stroke="#000" stroke-width="1.1"/>
<text x="32.9" y="531.4" font-size="8" font-weight="bold" text-anchor="end">0</text>
<line x1="33.5" y1="506.9" x2="37.4" y2="506.9" stroke="#000" stroke-width="1.1"/>
<text x="32.9" y="510.1" font-size="8" font-weight="bold" text-anchor="end">1</text>
<line x1="33.5" y1="485.6" x2="37.4" y2="485.6" stroke="#000" stroke-width="1.1"/>
<text x="32.9" y="488.8" font-size="8" font-weight="bold" text-anchor="end">2</text>
<line x1="33.5" y1="464.3" x2="37.4" y2="464.3" stroke="#000" stroke-width="1.1"/>
<text x="32.9" y="467.5" font-size="8" font-weight="bold" text-anchor="end">3</text>
<line x1="33.5" y1="443" x2="37.4" y2="443" stroke="#000" stroke-width="1.1"/>
<text x="32.9" y="446.2" font-size="8" font-weight="bold" text-anchor="end">4</text>
<line x1="33.5" y1="421.7" x2="37.4" y2="421.7" stroke="#000" stroke-width="1.1"/>
<text x="32.9" y="424.9" font-size="8" font-weight="bold" text-anchor="end">5</text>
<line x1="33.5" y1="400.4" x2="37.4" y2="400.4" stroke="#000" stroke-width="1.1"/>
<text x="32.9" y="403.6" font-size="8" font-weight="bold" text-anchor="end">6</text>
<line x1="41.7" y1="528.2" x2="41.7" y2="531.2" stroke="#000" stroke-width="1"/>
<text x="44.3" y="538.5" font-size="8.7" font-weight="bold" text-anchor="end" transform="rotate(-50 44.3 538.5)">1</text>
<line x1="51.34" y1="528.2" x2="51.34" y2="531.2" stroke="#000" stroke-width="1"/>
<text x="53.94" y="538.5" font-size="8.7" font-weight="bold" text-anchor="end" transform="rotate(-50 53.94 538.5)">2</text>
<line x1="60.97" y1="528.2" x2="60.97" y2="531.2" stroke="#000" stroke-width="1"/>
<text x="63.57" y="538.5" font-size="8.7" font-weight="bold" text-anchor="end" transform="rotate(-50 63.57 538.5)">3</text>
<line x1="70.61" y1="528.2" x2="70.61" y2="531.2" stroke="#000" stroke-width="1"/>
<text x="73.2" y="538.5" font-size="8.7" font-weight="bold" text-anchor="end" transform="rotate(-50 73.2 538.5)">4</text>
<line x1="80.24" y1="528.2" x2="80.24" y2="531.2" stroke="#000" stroke-width="1"/>
<text x="82.84" y="538.5" font-size="8.7" font-weight="bold" text-anchor="end" transform="rotate(-50 82.84 538.5)">5</text>
<line x1="89.88" y1="528.2" x2="89.88" y2="531.2" stroke="#000" stroke-width="1"/>
<text x="92.47" y="538.5" font-size="8.7" font-weight="bold" text-anchor="end" transform="rotate(-50 92.47 538.5)">6</text>
<line x1="99.51" y1="528.2" x2="99.51" y2="531.2" stroke="#000" stroke-width="1"/>
<text x="102.11" y="538.5" font-size="8.7" font-weight="bold" text-anchor="end" transform="rotate(-50 102.11 538.5)">7</text>
<line x1="109.14" y1="528.2" x2="109.14" y2="531.2" stroke="#000" stroke-width="1"/>
<text x="111.74" y="538.5" font-size="8.7" font-weight="bold" text-anchor="end" transform="rotate(-50 111.74 538.5)">8</text>
<line x1="118.78" y1="528.2" x2="118.78" y2="531.2" stroke="#000" stroke-width="1"/>
<text x="121.38" y="538.5" font-size="8.7" font-weight="bold" text-anchor="end" transform="rotate(-50 121.38 538.5)">9</text>
<line x1="128.42" y1="528.2" x2="128.42" y2="531.2" stroke="#000" stroke-width="1"/>
<text x="131.02" y="538.5" font-size="8.7" font-weight="bold" text-anchor="end" transform="rotate(-50 131.02 538.5)">10</text>
<line x1="138.05" y1="528.2" x2="138.05" y2="531.2" stroke="#000" stroke-width="1"/>
<text x="140.65" y="538.5" font-size="8.7" font-weight="bold" text-anchor="end" transform="rotate(-50 140.65 538.5)">11</text>
<line x1="147.69" y1="528.2" x2="147.69" y2="531.2" stroke="#000" stroke-width="1"/>
<text x="150.28" y="538.5" font-size="8.7" font-weight="bold" text-anchor="end" transform="rotate(-50 150.28 538.5)">12</text>
<line x1="157.32" y1="528.2" x2="157.32" y2="531.2" stroke="#000" stroke-width="1"/>
<text x="159.92" y="538.5" font-size="8.7" font-weight="bold" text-anchor="end" transform="rotate(-50 159.92 538.5)">13</text>
<line x1="166.95" y1="528.2" x2="166.95" y2="531.2" stroke="#000" stroke-width="1"/>
<text x="169.55" y="538.5" font-size="8.7" font-weight="bold" text-anchor="end" transform="rotate(-50 169.55 538.5)">14</text>
<line x1="176.59" y1="528.2" x2="176.59" y2="531.2" stroke="#000" stroke-width="1"/>
<text x="179.19" y="538.5" font-size="8.7" font-weight="bold" text-anchor="end" transform="rotate(-50 179.19 538.5)">15</text>
<line x1="186.23" y1="528.2" x2="186.23" y2="531.2" stroke="#000" stroke-width="1"/>
<text x="188.83" y="538.5" font-size="8.7" font-weight="bold" text-anchor="end" transform="rotate(-50 188.83 538.5)">16</text>
<line x1="195.86" y1="528.2" x2="195.86" y2="531.2" stroke="#000" stroke-width="1"/>
<text x="198.46" y="538.5" font-size="8.7" font-weight="bold" text-anchor="end" transform="rotate(-50 198.46 538.5)">17</text>
<line x1="205.5" y1="528.2" x2="205.5" y2="531.2" stroke="#000" stroke-width="1"/>
<text x="208.09" y="538.5" font-size="8.7" font-weight="bold" text-anchor="end" transform="rotate(-50 208.09 538.5)">18</text>
<line x1="215.13" y1="528.2" x2="215.13" y2="531.2" stroke="#000" stroke-width="1"/>
<text x="217.73" y="538.5" font-size="8.7" font-weight="bold" text-anchor="end" transform="rotate(-50 217.73 538.5)">19</text>
<line x1="224.76" y1="528.2" x2="224.76" y2="531.2" stroke="#000" stroke-width="1"/>
<text x="227.36" y="538.5" font-size="8.7" font-weight="bold" text-anchor="end" transform="rotate(-50 227.36 538.5)">20</text>
<text x="23" y="464.5" font-size="8.6" font-weight="bold" text-anchor="middle" transform="rotate(-90 23 464.5)" textLength="115.7" lengthAdjust="spacingAndGlyphs">Relative RABIF expression</text>
<path d="M52.35 419.85h1.3v1.3h-1.3z" fill="#2A2AE6"/>
<path d="M52.35 435.95h1.3v1.3h-1.3z" fill="#F03C3C"/>
<text x="65.8" y="424" font-size="9.3" fill="#222" textLength="28.2" lengthAdjust="spacingAndGlyphs">Normal</text>
<text x="65.8" y="439.2" font-size="9.3" fill="#222" textLength="24.9" lengthAdjust="spacingAndGlyphs">Tumor</text>
<text x="244.3" y="405.6" font-size="15">I</text>
<rect x="287.6" y="413.5" width="117" height="95.8" fill="#fff" stroke="#B4B4B4" stroke-width="0.9"/>
<path d="M292.4 416.2L294.43 420.17L297.16 422.97L299.89 424.78L302.71 426.67L305.44 429.38L309.14 429.38L311.78 432.09L315.48 436.34L319.09 437.6L322.79 438.59L325.53 439.86L328.26 443.11L332.93 443.56L335.57 447.71L339.27 451.42L340.68 453.31L353.72 453.31L353.98 459.18L364.64 459.18L364.82 465.32L366.49 465.32L366.76 478.96L384.91 478.96L385.08 488.44L388.69 488.44L388.87 496.93L389.75 496.93" stroke="#111" stroke-width="0.8" fill="none" stroke-linejoin="round"/>
<path d="M292.4 416.2L294.87 422.07L297.16 425.68L299.89 429.38L301.74 433.99L304.47 438.59L306.32 440.4L309.14 443.11L311.78 448.62L314.6 450.51L317.33 454.13L320.06 456.93L323.68 456.93L326.49 458.73L332.05 460.99L335.13 463.97L340.33 465.32L344.11 469.12L346.67 472.28L364.64 472.28L364.91 477.42L400.5 477.42" stroke="#F01414" stroke-width="0.8" fill="none" stroke-linejoin="round"/>
<path d="M295.04 419.62v2.2M297.69 422.32v2.2M298.57 423.23v2.2M300.77 424.13v2.2M301.65 425.03v2.2M302.97 425.94v2.2M303.85 426.84v2.2M306.06 428.28v2.2M307.38 428.28v2.2M312.66 432.26v2.2M313.54 433.16v2.2M314.43 434.06v2.2M316.19 435.42v2.2M319.71 436.77v2.2M321.47 437.22v2.2M325.88 439.03v2.2M329.4 442.19v2.2M331.16 442.37v2.2M333.81 444v2.2M341.3 452.21v2.2M342.62 452.21v2.2M350.55 452.21v2.2M351.43 452.21v2.2M357.59 458.08v2.2M360.24 458.08v2.2M362 458.08v2.2M373.45 477.86v2.2" stroke="#111" stroke-width="0.55" fill="none"/>
<path d="M310.9 445.8v2.2M313.54 448.51v2.2M318.83 454.83v2.2M321.47 455.83v2.2M324.12 456.19v2.2M328.52 458.44v2.2M333.81 462.06v2.2M341.74 465.67v2.2M347.9 471.18v2.2M349.22 471.18v2.2M350.55 471.18v2.2M356.71 471.18v2.2M358.03 471.18v2.2M361.12 471.18v2.2M373.45 476.32v2.2M393.72 476.32v2.2M399.88 476.32v2.2" stroke="#F01414" stroke-width="0.55" fill="none"/>
<line x1="286" y1="506.5" x2="287.6" y2="506.5" stroke="#666" stroke-width="0.5"/>
<text x="283.2" y="506.5" font-size="6" text-anchor="middle" fill="#222" transform="rotate(-90 283.2 506.5)" textLength="8.1" lengthAdjust="spacingAndGlyphs">0.0</text>
<line x1="286" y1="488.44" x2="287.6" y2="488.44" stroke="#666" stroke-width="0.5"/>
<text x="283.2" y="488.44" font-size="6" text-anchor="middle" fill="#222" transform="rotate(-90 283.2 488.44)" textLength="8.1" lengthAdjust="spacingAndGlyphs">0.2</text>
<line x1="286" y1="470.38" x2="287.6" y2="470.38" stroke="#666" stroke-width="0.5"/>
<text x="283.2" y="470.38" font-size="6" text-anchor="middle" fill="#222" transform="rotate(-90 283.2 470.38)" textLength="8.1" lengthAdjust="spacingAndGlyphs">0.4</text>
<line x1="286" y1="452.32" x2="287.6" y2="452.32" stroke="#666" stroke-width="0.5"/>
<text x="283.2" y="452.32" font-size="6" text-anchor="middle" fill="#222" transform="rotate(-90 283.2 452.32)" textLength="8.1" lengthAdjust="spacingAndGlyphs">0.6</text>
<line x1="286" y1="434.26" x2="287.6" y2="434.26" stroke="#666" stroke-width="0.5"/>
<text x="283.2" y="434.26" font-size="6" text-anchor="middle" fill="#222" transform="rotate(-90 283.2 434.26)" textLength="8.1" lengthAdjust="spacingAndGlyphs">0.8</text>
<line x1="286" y1="416.2" x2="287.6" y2="416.2" stroke="#666" stroke-width="0.5"/>
<text x="283.2" y="416.2" font-size="6" text-anchor="middle" fill="#222" transform="rotate(-90 283.2 416.2)" textLength="8.1" lengthAdjust="spacingAndGlyphs">1.0</text>
<line x1="292.4" y1="509.3" x2="292.4" y2="511.1" stroke="#666" stroke-width="0.5"/>
<text x="292.4" y="517.8" font-size="6" text-anchor="middle" fill="#222" textLength="3.55" lengthAdjust="spacingAndGlyphs">0</text>
<line x1="310.02" y1="509.3" x2="310.02" y2="511.1" stroke="#666" stroke-width="0.5"/>
<text x="310.02" y="517.8" font-size="6" text-anchor="middle" fill="#222" textLength="7.1" lengthAdjust="spacingAndGlyphs">20</text>
<line x1="327.64" y1="509.3" x2="327.64" y2="511.1" stroke="#666" stroke-width="0.5"/>
<text x="327.64" y="517.8" font-size="6" text-anchor="middle" fill="#222" textLength="7.1" lengthAdjust="spacingAndGlyphs">40</text>
<line x1="345.26" y1="509.3" x2="345.26" y2="511.1" stroke="#666" stroke-width="0.5"/>
<text x="345.26" y="517.8" font-size="6" text-anchor="middle" fill="#222" textLength="7.1" lengthAdjust="spacingAndGlyphs">60</text>
<line x1="362.88" y1="509.3" x2="362.88" y2="511.1" stroke="#666" stroke-width="0.5"/>
<text x="362.88" y="517.8" font-size="6" text-anchor="middle" fill="#222" textLength="7.1" lengthAdjust="spacingAndGlyphs">80</text>
<line x1="380.5" y1="509.3" x2="380.5" y2="511.1" stroke="#666" stroke-width="0.5"/>
<text x="380.5" y="517.8" font-size="6" text-anchor="middle" fill="#222" textLength="10.65" lengthAdjust="spacingAndGlyphs">100</text>
<line x1="398.12" y1="509.3" x2="398.12" y2="511.1" stroke="#666" stroke-width="0.5"/>
<text x="398.12" y="517.8" font-size="6" text-anchor="middle" fill="#222" textLength="10.65" lengthAdjust="spacingAndGlyphs">120</text>
<text x="346.2" y="526.3" font-size="6.4" text-anchor="middle" fill="#222" textLength="40.3" lengthAdjust="spacingAndGlyphs">Time (months)</text>
<text x="274" y="462" font-size="6.4" text-anchor="middle" fill="#222" transform="rotate(-90 274 462)" textLength="31" lengthAdjust="spacingAndGlyphs">Probability</text>
<text x="346.4" y="406.1" font-size="6.4" font-weight="bold" text-anchor="middle" fill="#111" textLength="42" lengthAdjust="spacingAndGlyphs">RABIF (5877)</text>
<text x="402" y="420.5" font-size="6.1" text-anchor="end" fill="#222" textLength="65" lengthAdjust="spacingAndGlyphs">HR = 1.66 (1.15 - 2.38)</text>
<text x="402" y="427.1" font-size="6.1" text-anchor="end" fill="#222" textLength="53" lengthAdjust="spacingAndGlyphs">logrank P = 0.0061</text>
<text x="290" y="491.8" font-size="6.3" fill="#222" textLength="30" lengthAdjust="spacingAndGlyphs">Expression</text>
<line x1="293.1" y1="497.5" x2="303" y2="497.5" stroke="#666" stroke-width="0.7"/>
<line x1="293.1" y1="503.6" x2="303" y2="503.6" stroke="#F06060" stroke-width="0.7"/>
<text x="307.7" y="499.7" font-size="6.3" fill="#222" textLength="10.5" lengthAdjust="spacingAndGlyphs">low</text>
<text x="307.7" y="505.9" font-size="6.3" fill="#222" textLength="13" lengthAdjust="spacingAndGlyphs">high</text>
<text x="301.7" y="531.3" font-size="4.2" text-anchor="middle" textLength="27.5" lengthAdjust="spacingAndGlyphs" stroke="#000" stroke-width="0.18">Number at risk</text>
<text x="277.7" y="535.6" font-size="4.3" text-anchor="middle" stroke="#000" stroke-width="0.18">low</text>
<text x="277.3" y="539.9" font-size="4.4" text-anchor="middle" fill="#F01414" stroke="#F01414" stroke-width="0.18">high</text>
<text x="292.4" y="535.6" font-size="4.4" text-anchor="middle" textLength="7.41" lengthAdjust="spacingAndGlyphs" stroke="#000" stroke-width="0.18">151</text>
<text x="292.4" y="539.9" font-size="4.4" text-anchor="middle" fill="#F01414" textLength="7.41" lengthAdjust="spacingAndGlyphs" stroke="#F01414" stroke-width="0.18">213</text>
<text x="310.02" y="535.6" font-size="4.4" text-anchor="middle" textLength="4.94" lengthAdjust="spacingAndGlyphs" stroke="#000" stroke-width="0.18">98</text>
<text x="310.02" y="539.9" font-size="4.4" text-anchor="middle" fill="#F01414" textLength="4.94" lengthAdjust="spacingAndGlyphs" stroke="#F01414" stroke-width="0.18">94</text>
<text x="327.64" y="535.6" font-size="4.4" text-anchor="middle" textLength="4.94" lengthAdjust="spacingAndGlyphs" stroke="#000" stroke-width="0.18">43</text>
<text x="327.64" y="539.9" font-size="4.4" text-anchor="middle" fill="#F01414" textLength="4.94" lengthAdjust="spacingAndGlyphs" stroke="#F01414" stroke-width="0.18">41</text>
<text x="345.26" y="535.6" font-size="4.4" text-anchor="middle" textLength="4.94" lengthAdjust="spacingAndGlyphs" stroke="#000" stroke-width="0.18">22</text>
<text x="345.26" y="539.9" font-size="4.4" text-anchor="middle" fill="#F01414" textLength="4.94" lengthAdjust="spacingAndGlyphs" stroke="#F01414" stroke-width="0.18">20</text>
<text x="362.88" y="535.6" font-size="4.4" text-anchor="middle" textLength="4.94" lengthAdjust="spacingAndGlyphs" stroke="#000" stroke-width="0.18">10</text>
<text x="362.88" y="539.9" font-size="4.4" text-anchor="middle" fill="#F01414" textLength="2.47" lengthAdjust="spacingAndGlyphs" stroke="#F01414" stroke-width="0.18">9</text>
<text x="380.5" y="535.6" font-size="4.4" text-anchor="middle" textLength="2.47" lengthAdjust="spacingAndGlyphs" stroke="#000" stroke-width="0.18">3</text>
<text x="380.5" y="539.9" font-size="4.4" text-anchor="middle" fill="#F01414" textLength="2.47" lengthAdjust="spacingAndGlyphs" stroke="#F01414" stroke-width="0.18">3</text>
<text x="398.12" y="535.6" font-size="4.4" text-anchor="middle" textLength="2.47" lengthAdjust="spacingAndGlyphs" stroke="#000" stroke-width="0.18">0</text>
<text x="398.12" y="539.9" font-size="4.4" text-anchor="middle" fill="#F01414" textLength="2.47" lengthAdjust="spacingAndGlyphs" stroke="#F01414" stroke-width="0.18">1</text>
<text x="443.3" y="405.6" font-size="15">J</text>
<rect x="479.5" y="413.5" width="117" height="95.8" fill="#fff" stroke="#B4B4B4" stroke-width="0.9"/>
<path d="M484.3 416.2L489.32 416.56L491.96 418.01L494.78 419.27L497.51 422.07L501.22 422.07L504.83 425.32L507.56 427.58L511.17 428.93L514.87 429.93L517.6 431.19L520.42 435.43L525 435.61L529.58 439.5L532.31 444.46L545.09 444.46L545.35 447.99L556.01 447.99L556.28 456.29L558.3 456.29L558.57 472.28L575.92 472.28L576.1 483.83L581.56 483.83" stroke="#111" stroke-width="0.8" fill="none" stroke-linejoin="round"/>
<path d="M484.3 416.2L487.38 418.01L491.52 418.91L492.93 422.07L494.78 426.67L496.63 430.29L499.28 431.73L502.1 434.89L503.86 438.59L506.68 439.5L509.41 443.56L512.23 446.81L515.84 447.71L519.54 449.52L523.86 451.24L526.5 453.31L532.84 453.31L534.16 456.29L536.81 458.82L539.1 462.34L593.19 462.34" stroke="#F01414" stroke-width="0.8" fill="none" stroke-linejoin="round"/>
<path d="M485.18 415.1v2.2M486.94 415.28v2.2M490.03 416v2.2M493.11 417.36v2.2M495.75 419.16v2.2M499.28 420.97v2.2M505.88 425.03v2.2M506.77 425.94v2.2M508.97 427.02v2.2M512.49 428.19v2.2M516.02 429.55v2.2M523.06 434.42v2.2M526.15 434.97v2.2M527.47 436.32v2.2M528.61 437.4v2.2M533.64 443.36v2.2M534.52 443.36v2.2M543.33 443.36v2.2M548.61 446.89v2.2M551.26 446.89v2.2M553.9 446.89v2.2M565.35 471.18v2.2M579.45 482.73v2.2M580.33 482.73v2.2" stroke="#111" stroke-width="0.55" fill="none"/>
<path d="M486.06 416v2.2M508.09 441.29v2.2M510.73 444v2.2M513.37 446.16v2.2M516.9 447.16v2.2M521.3 449.41v2.2M524.83 451.22v2.2M527.47 452.21v2.2M529.23 452.21v2.2M530.99 452.21v2.2M540.68 461.24v2.2M541.57 461.24v2.2M546.85 461.24v2.2M548.61 461.24v2.2M555.66 461.24v2.2M556.54 461.24v2.2M557.42 461.24v2.2M565.35 461.24v2.2M586.5 461.24v2.2M592.66 461.24v2.2" stroke="#F01414" stroke-width="0.55" fill="none"/>
<line x1="477.9" y1="506.5" x2="479.5" y2="506.5" stroke="#666" stroke-width="0.5"/>
<text x="475.1" y="506.5" font-size="6" text-anchor="middle" fill="#222" transform="rotate(-90 475.1 506.5)" textLength="8.1" lengthAdjust="spacingAndGlyphs">0.0</text>
<line x1="477.9" y1="488.44" x2="479.5" y2="488.44" stroke="#666" stroke-width="0.5"/>
<text x="475.1" y="488.44" font-size="6" text-anchor="middle" fill="#222" transform="rotate(-90 475.1 488.44)" textLength="8.1" lengthAdjust="spacingAndGlyphs">0.2</text>
<line x1="477.9" y1="470.38" x2="479.5" y2="470.38" stroke="#666" stroke-width="0.5"/>
<text x="475.1" y="470.38" font-size="6" text-anchor="middle" fill="#222" transform="rotate(-90 475.1 470.38)" textLength="8.1" lengthAdjust="spacingAndGlyphs">0.4</text>
<line x1="477.9" y1="452.32" x2="479.5" y2="452.32" stroke="#666" stroke-width="0.5"/>
<text x="475.1" y="452.32" font-size="6" text-anchor="middle" fill="#222" transform="rotate(-90 475.1 452.32)" textLength="8.1" lengthAdjust="spacingAndGlyphs">0.6</text>
<line x1="477.9" y1="434.26" x2="479.5" y2="434.26" stroke="#666" stroke-width="0.5"/>
<text x="475.1" y="434.26" font-size="6" text-anchor="middle" fill="#222" transform="rotate(-90 475.1 434.26)" textLength="8.1" lengthAdjust="spacingAndGlyphs">0.8</text>
<line x1="477.9" y1="416.2" x2="479.5" y2="416.2" stroke="#666" stroke-width="0.5"/>
<text x="475.1" y="416.2" font-size="6" text-anchor="middle" fill="#222" transform="rotate(-90 475.1 416.2)" textLength="8.1" lengthAdjust="spacingAndGlyphs">1.0</text>
<line x1="484.3" y1="509.3" x2="484.3" y2="511.1" stroke="#666" stroke-width="0.5"/>
<text x="484.3" y="517.8" font-size="6" text-anchor="middle" fill="#222" textLength="3.55" lengthAdjust="spacingAndGlyphs">0</text>
<line x1="501.92" y1="509.3" x2="501.92" y2="511.1" stroke="#666" stroke-width="0.5"/>
<text x="501.92" y="517.8" font-size="6" text-anchor="middle" fill="#222" textLength="7.1" lengthAdjust="spacingAndGlyphs">20</text>
<line x1="519.54" y1="509.3" x2="519.54" y2="511.1" stroke="#666" stroke-width="0.5"/>
<text x="519.54" y="517.8" font-size="6" text-anchor="middle" fill="#222" textLength="7.1" lengthAdjust="spacingAndGlyphs">40</text>
<line x1="537.16" y1="509.3" x2="537.16" y2="511.1" stroke="#666" stroke-width="0.5"/>
<text x="537.16" y="517.8" font-size="6" text-anchor="middle" fill="#222" textLength="7.1" lengthAdjust="spacingAndGlyphs">60</text>
<line x1="554.78" y1="509.3" x2="554.78" y2="511.1" stroke="#666" stroke-width="0.5"/>
<text x="554.78" y="517.8" font-size="6" text-anchor="middle" fill="#222" textLength="7.1" lengthAdjust="spacingAndGlyphs">80</text>
<line x1="572.4" y1="509.3" x2="572.4" y2="511.1" stroke="#666" stroke-width="0.5"/>
<text x="572.4" y="517.8" font-size="6" text-anchor="middle" fill="#222" textLength="10.65" lengthAdjust="spacingAndGlyphs">100</text>
<line x1="590.02" y1="509.3" x2="590.02" y2="511.1" stroke="#666" stroke-width="0.5"/>
<text x="590.02" y="517.8" font-size="6" text-anchor="middle" fill="#222" textLength="10.65" lengthAdjust="spacingAndGlyphs">120</text>
<text x="538.1" y="526.3" font-size="6.4" text-anchor="middle" fill="#222" textLength="40.3" lengthAdjust="spacingAndGlyphs">Time (months)</text>
<text x="465.9" y="462" font-size="6.4" text-anchor="middle" fill="#222" transform="rotate(-90 465.9 462)" textLength="31" lengthAdjust="spacingAndGlyphs">Probability</text>
<text x="538.3" y="406.1" font-size="6.4" font-weight="bold" text-anchor="middle" fill="#111" textLength="42" lengthAdjust="spacingAndGlyphs">RABIF (5877)</text>
<text x="593.9" y="420.5" font-size="6.1" text-anchor="end" fill="#222" textLength="65" lengthAdjust="spacingAndGlyphs">HR = 1.79 (1.12 - 2.85)</text>
<text x="593.9" y="427.1" font-size="6.1" text-anchor="end" fill="#222" textLength="50.5" lengthAdjust="spacingAndGlyphs">logrank P = 0.013</text>
<text x="481.9" y="491.8" font-size="6.3" fill="#222" textLength="30" lengthAdjust="spacingAndGlyphs">Expression</text>
<line x1="485" y1="497.5" x2="494.9" y2="497.5" stroke="#666" stroke-width="0.7"/>
<line x1="485" y1="503.6" x2="494.9" y2="503.6" stroke="#F06060" stroke-width="0.7"/>
<text x="499.6" y="499.7" font-size="6.3" fill="#222" textLength="10.5" lengthAdjust="spacingAndGlyphs">low</text>
<text x="499.6" y="505.9" font-size="6.3" fill="#222" textLength="13" lengthAdjust="spacingAndGlyphs">high</text>
<text x="493.6" y="531.3" font-size="4.2" text-anchor="middle" textLength="27.5" lengthAdjust="spacingAndGlyphs" stroke="#000" stroke-width="0.18">Number at risk</text>
<text x="469.6" y="535.6" font-size="4.3" text-anchor="middle" stroke="#000" stroke-width="0.18">low</text>
<text x="469.2" y="539.9" font-size="4.4" text-anchor="middle" fill="#F01414" stroke="#F01414" stroke-width="0.18">high</text>
<text x="484.3" y="535.6" font-size="4.4" text-anchor="middle" textLength="7.41" lengthAdjust="spacingAndGlyphs" stroke="#000" stroke-width="0.18">155</text>
<text x="484.3" y="539.9" font-size="4.4" text-anchor="middle" fill="#F01414" textLength="7.41" lengthAdjust="spacingAndGlyphs" stroke="#F01414" stroke-width="0.18">207</text>
<text x="501.92" y="535.6" font-size="4.4" text-anchor="middle" textLength="4.94" lengthAdjust="spacingAndGlyphs" stroke="#000" stroke-width="0.18">69</text>
<text x="501.92" y="539.9" font-size="4.4" text-anchor="middle" fill="#F01414" textLength="4.94" lengthAdjust="spacingAndGlyphs" stroke="#F01414" stroke-width="0.18">91</text>
<text x="519.54" y="535.6" font-size="4.4" text-anchor="middle" textLength="4.94" lengthAdjust="spacingAndGlyphs" stroke="#000" stroke-width="0.18">44</text>
<text x="519.54" y="539.9" font-size="4.4" text-anchor="middle" fill="#F01414" textLength="4.94" lengthAdjust="spacingAndGlyphs" stroke="#F01414" stroke-width="0.18">39</text>
<text x="537.16" y="535.6" font-size="4.4" text-anchor="middle" textLength="4.94" lengthAdjust="spacingAndGlyphs" stroke="#000" stroke-width="0.18">22</text>
<text x="537.16" y="539.9" font-size="4.4" text-anchor="middle" fill="#F01414" textLength="4.94" lengthAdjust="spacingAndGlyphs" stroke="#F01414" stroke-width="0.18">20</text>
<text x="554.78" y="535.6" font-size="4.4" text-anchor="middle" textLength="4.94" lengthAdjust="spacingAndGlyphs" stroke="#000" stroke-width="0.18">10</text>
<text x="554.78" y="539.9" font-size="4.4" text-anchor="middle" fill="#F01414" textLength="2.47" lengthAdjust="spacingAndGlyphs" stroke="#F01414" stroke-width="0.18">9</text>
<text x="572.4" y="535.6" font-size="4.4" text-anchor="middle" textLength="2.47" lengthAdjust="spacingAndGlyphs" stroke="#000" stroke-width="0.18">3</text>
<text x="572.4" y="539.9" font-size="4.4" text-anchor="middle" fill="#F01414" textLength="2.47" lengthAdjust="spacingAndGlyphs" stroke="#F01414" stroke-width="0.18">3</text>
<text x="590.02" y="535.6" font-size="4.4" text-anchor="middle" textLength="2.47" lengthAdjust="spacingAndGlyphs" stroke="#000" stroke-width="0.18">0</text>
<text x="590.02" y="539.9" font-size="4.4" text-anchor="middle" fill="#F01414" textLength="2.47" lengthAdjust="spacingAndGlyphs" stroke="#F01414" stroke-width="0.18">1</text></svg>
</body></html>
